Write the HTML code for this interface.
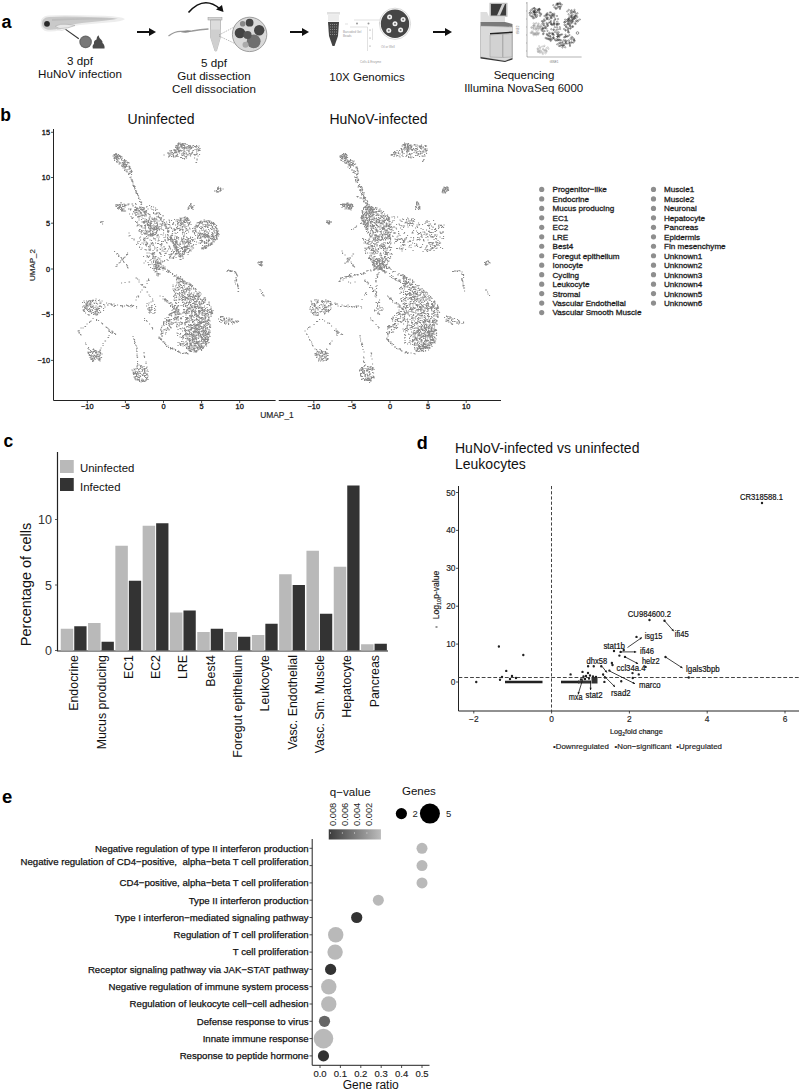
<!DOCTYPE html>
<html><head><meta charset="utf-8"><style>
html,body{margin:0;padding:0;background:#fff;width:800px;height:1090px;overflow:hidden}
svg{display:block;font-family:'Liberation Sans', sans-serif}
</style></head><body>
<svg width="800" height="1090" viewBox="0 0 800 1090">
<text x="1.5" y="27.5" font-size="18" text-anchor="start" fill="#000" font-weight="bold" >a</text>
<path d="M40.5 23 Q40.5 16.5 48 15.5 Q60 14.5 80 15.2 L105 15.8 Q121 16.5 125 19 Q122 21.8 108 22.5 L80 25 Q66 27 60 30 Q52 32.5 45 31 Q40.5 28.5 40.5 23Z" fill="#ededed"/>
<path d="M42 23.5 Q42 17.5 49 17 Q60 16.3 80 16.8 L104 17.5 Q114 18 118 18.8 Q112 20 104 20.8 L82 23 Q68 24.8 62 27.5 Q54 30.5 47 29.5 Q42 28 42 23.5Z" fill="#c9c9c9"/>
<path d="M52 19 Q70 17.8 100 18.3 Q110 18.6 116 18.9 Q105 19.5 90 19.6 Q70 19.8 52 21Z" fill="#bdbdbd"/>
<circle cx="47" cy="23.8" r="2.9" fill="#2a2a2a"/>
<path d="M55.5 26 Q60 23.5 67 24.3 Q72 24.8 75 25.5 Q68 28.8 60 28.5 Q56.5 28 55.5 26Z" fill="#e8e8e8" stroke="#a8a8a8" stroke-width="0.6"/>
<path d="M57 29.5 Q62 31.5 66 29" fill="none" stroke="#d8d8d8" stroke-width="0.8"/>
<line x1="65.6" y1="29.4" x2="78.8" y2="38.8" stroke="#333" stroke-width="1.1"/>
<circle cx="85.6" cy="41.9" r="6.3" fill="#6a6a6a"/>
<circle cx="85.6" cy="41.9" r="5" fill="#787878"/>
<path d="M92.8 48.5 Q92 45.5 94 43.5 Q93.5 40.5 96.5 39.5 Q96.5 36.5 98.5 35.3 Q99 38 101 39.5 Q103 41 102.5 43 Q105 45 104.5 48.5Z" fill="#4a4a4a"/>
<text x="80" y="65" font-size="11.6" text-anchor="middle" fill="#111" font-weight="normal" >3 dpf</text>
<text x="80" y="78" font-size="11.6" text-anchor="middle" fill="#111" font-weight="normal" >HuNoV infection</text>
<line x1="137" y1="32" x2="151" y2="32" stroke="#111" stroke-width="2"/>
<path d="M149 28 L156 32 L149 36Z" fill="#111"/>
<line x1="290" y1="32" x2="304" y2="32" stroke="#111" stroke-width="2"/>
<path d="M302 28 L309 32 L302 36Z" fill="#111"/>
<line x1="433" y1="32" x2="447" y2="32" stroke="#111" stroke-width="2"/>
<path d="M445 28 L452 32 L445 36Z" fill="#111"/>
<path d="M168.5 36 Q175 31 182 31.5 Q188 31 192 31 Q200 29.5 208.5 29" fill="none" stroke="#9a9a9a" stroke-width="1.3"/>
<path d="M181 32 Q186 29.5 192 31 Q187 34 181 32Z" fill="#8a8a8a"/>
<path d="M188.5 12.5 Q204 -5 220 9" fill="none" stroke="#111" stroke-width="1.6"/>
<path d="M216 9.5 L223.5 12 L222 5 Z" fill="#111"/>
<rect x="208" y="17.5" width="14" height="2.5" fill="#d6d6d6" stroke="#999" stroke-width="0.5"/>
<path d="M210.5 20 L220.5 20 L220.5 37 L216.5 51 L215 51 L210.5 37Z" fill="#dcdcdc" stroke="#a0a0a0" stroke-width="0.6"/>
<path d="M210.5 29.5 L220.5 29.5 L220.5 37 L216.5 51 L215 51 L210.5 37Z" fill="#cfcfcf"/>
<line x1="219" y1="35" x2="238" y2="25" stroke="#777" stroke-width="0.5" stroke-dasharray="1.5,1"/>
<line x1="219" y1="36" x2="238" y2="45" stroke="#777" stroke-width="0.5" stroke-dasharray="1.5,1"/>
<circle cx="249.6" cy="34.4" r="17.2" fill="#d9d9d9" stroke="#8a8a8a" stroke-width="0.8"/>
<circle cx="253.7" cy="41.3" r="6.9" fill="#6f6f6f"/>
<circle cx="245.5" cy="44.7" r="3" fill="#aaa"/>
<circle cx="240" cy="33" r="5.3" fill="#444"/>
<circle cx="249.6" cy="22.7" r="3.9" fill="#444"/>
<circle cx="242.7" cy="23.7" r="2.8" fill="#888"/>
<circle cx="259.2" cy="30.3" r="5.2" fill="#454545"/>
<circle cx="247.5" cy="35" r="4.1" fill="#555"/>
<text x="214" y="67" font-size="11.6" text-anchor="middle" fill="#111" font-weight="normal" >5 dpf</text>
<text x="214" y="80.2" font-size="11.6" text-anchor="middle" fill="#111" font-weight="normal" >Gut dissection</text>
<text x="214" y="93" font-size="11.6" text-anchor="middle" fill="#111" font-weight="normal" >Cell dissociation</text>
<rect x="327" y="12" width="13" height="2.5" fill="#e0e0e0"/>
<path d="M328 14.5 L339 14.5 L339 21.5 L328 21.5Z" fill="#ececec"/>
<path d="M328 22 L339 22 L338 36 L334.5 46 L332.5 46 L329 36Z" fill="#444"/>
<line x1="330" y1="24.5" x2="337" y2="24.5" stroke="#bbb" stroke-width="0.6" stroke-dasharray="1,1"/>
<line x1="330" y1="27" x2="337" y2="27" stroke="#bbb" stroke-width="0.6" stroke-dasharray="1,1"/>
<line x1="330" y1="29.5" x2="337" y2="29.5" stroke="#bbb" stroke-width="0.6" stroke-dasharray="1,1"/>
<line x1="330" y1="32" x2="337" y2="32" stroke="#bbb" stroke-width="0.6" stroke-dasharray="1,1"/>
<line x1="330" y1="34.5" x2="337" y2="34.5" stroke="#bbb" stroke-width="0.6" stroke-dasharray="1,1"/>
<path d="M354 20 L381 20 M350 27 L367.5 27 L367.5 51 M372.5 28.5 L372.5 40 M345 24 L348 24" fill="none" stroke="#ccc" stroke-width="0.6"/>
<circle cx="357" cy="23.5" r="1" fill="#999"/>
<circle cx="368.5" cy="23.5" r="1" fill="#999"/>
<circle cx="380" cy="23" r="1" fill="#999"/>
<circle cx="370" cy="30" r="0.5" fill="#666"/>
<circle cx="370" cy="38" r="0.5" fill="#666"/>
<circle cx="370" cy="46" r="0.5" fill="#666"/>
<circle cx="395" cy="23.75" r="15.6" fill="#fff" stroke="#d0d0d0" stroke-width="0.8"/>
<circle cx="395" cy="23.75" r="14.2" fill="#464646"/>
<circle cx="389.6" cy="16.9" r="2.5" fill="#f2f2f2"/><circle cx="389.6" cy="16.9" r="1" fill="#777"/>
<circle cx="403.1" cy="19.4" r="2.5" fill="#f2f2f2"/><circle cx="403.1" cy="19.4" r="1" fill="#777"/>
<circle cx="395" cy="23.75" r="2.5" fill="#f2f2f2"/><circle cx="395" cy="23.75" r="1" fill="#777"/>
<circle cx="388.75" cy="30.6" r="2.5" fill="#f2f2f2"/><circle cx="388.75" cy="30.6" r="1" fill="#777"/>
<circle cx="400.6" cy="30" r="2.5" fill="#f2f2f2"/><circle cx="400.6" cy="30" r="1" fill="#777"/>
<text x="343" y="32.5" font-size="3" text-anchor="start" fill="#999" font-weight="normal" >Barcoded Gel</text>
<text x="343" y="37" font-size="3" text-anchor="start" fill="#999" font-weight="normal" >Beads</text>
<text x="381" y="47.5" font-size="3" text-anchor="start" fill="#999" font-weight="normal" >Oil or Well</text>
<text x="360" y="63" font-size="3" text-anchor="start" fill="#999" font-weight="normal" >Cells &amp; Enzyme</text>
<text x="367" y="80.5" font-size="11.5" text-anchor="middle" fill="#111" font-weight="normal" >10X Genomics</text>
<rect x="489.5" y="2.8" width="18" height="14" fill="#bdbdbd"/>
<rect x="491" y="4" width="15" height="11.5" fill="#3c3c3c"/>
<path d="M497 15.5 L502 4 L505 4 L500 15.5Z" fill="#cfcfcf"/>
<path d="M480.5 12 L487 12 L489 16.5 L505 16.5 L505 22.5 L480.5 22.5Z" fill="#dedede"/>
<path d="M480.5 22 L505 22 L512.5 24 L512.5 27 L480.5 26Z" fill="#7a7a7a"/>
<path d="M480.5 26 L512.5 27 L512.5 58 L505 61 L480.5 57Z" fill="#dadada" stroke="#9a9a9a" stroke-width="0.5"/>
<path d="M490 33 L512.5 31.5 L512.5 33 L490 34.5Z" fill="#222"/>
<path d="M490 35 L502.5 34.2 L502.5 57.5 L490 57Z" fill="#d2d2d2" stroke="#888" stroke-width="0.4"/>
<path d="M503 34.2 L512 33.6 L512 57 L503 57.5Z" fill="#d2d2d2" stroke="#888" stroke-width="0.4"/>
<path d="M480.5 57 L505 61 L512.5 58 L512.5 59.5 L505 62 L480.5 58.5Z" fill="#333"/>
<path d="M527 2 L527 57 L581.6 57" fill="none" stroke="#666" stroke-width="0.5"/>
<path d="M535.1 17.3a.7 .7 0 1 0 1.4 0a.7 .7 0 1 0 -1.4 0M531.6 16.4a.7 .7 0 1 0 1.4 0a.7 .7 0 1 0 -1.4 0M533.7 12.3a.7 .7 0 1 0 1.4 0a.7 .7 0 1 0 -1.4 0M540.3 13.7a.7 .7 0 1 0 1.4 0a.7 .7 0 1 0 -1.4 0M534.6 16.0a.7 .7 0 1 0 1.4 0a.7 .7 0 1 0 -1.4 0M538.9 13.2a.7 .7 0 1 0 1.4 0a.7 .7 0 1 0 -1.4 0M536.9 10.1a.7 .7 0 1 0 1.4 0a.7 .7 0 1 0 -1.4 0M533.3 11.7a.7 .7 0 1 0 1.4 0a.7 .7 0 1 0 -1.4 0M531.1 9.5a.7 .7 0 1 0 1.4 0a.7 .7 0 1 0 -1.4 0M529.7 12.6a.7 .7 0 1 0 1.4 0a.7 .7 0 1 0 -1.4 0M534.1 12.1a.7 .7 0 1 0 1.4 0a.7 .7 0 1 0 -1.4 0M535.0 9.1a.7 .7 0 1 0 1.4 0a.7 .7 0 1 0 -1.4 0M534.5 14.2a.7 .7 0 1 0 1.4 0a.7 .7 0 1 0 -1.4 0M537.5 10.5a.7 .7 0 1 0 1.4 0a.7 .7 0 1 0 -1.4 0M533.7 8.2a.7 .7 0 1 0 1.4 0a.7 .7 0 1 0 -1.4 0M533.5 8.2a.7 .7 0 1 0 1.4 0a.7 .7 0 1 0 -1.4 0M530.6 16.3a.7 .7 0 1 0 1.4 0a.7 .7 0 1 0 -1.4 0M529.3 15.1a.7 .7 0 1 0 1.4 0a.7 .7 0 1 0 -1.4 0M536.2 12.1a.7 .7 0 1 0 1.4 0a.7 .7 0 1 0 -1.4 0M536.6 15.2a.7 .7 0 1 0 1.4 0a.7 .7 0 1 0 -1.4 0M538.7 12.5a.7 .7 0 1 0 1.4 0a.7 .7 0 1 0 -1.4 0M532.5 11.1a.7 .7 0 1 0 1.4 0a.7 .7 0 1 0 -1.4 0M531.1 13.1a.7 .7 0 1 0 1.4 0a.7 .7 0 1 0 -1.4 0M532.1 16.7a.7 .7 0 1 0 1.4 0a.7 .7 0 1 0 -1.4 0M529.9 10.7a.7 .7 0 1 0 1.4 0a.7 .7 0 1 0 -1.4 0M532.4 8.5a.7 .7 0 1 0 1.4 0a.7 .7 0 1 0 -1.4 0M538.5 9.0a.7 .7 0 1 0 1.4 0a.7 .7 0 1 0 -1.4 0M533.6 11.3a.7 .7 0 1 0 1.4 0a.7 .7 0 1 0 -1.4 0M538.6 9.2a.7 .7 0 1 0 1.4 0a.7 .7 0 1 0 -1.4 0M538.5 11.0a.7 .7 0 1 0 1.4 0a.7 .7 0 1 0 -1.4 0M534.2 10.8a.7 .7 0 1 0 1.4 0a.7 .7 0 1 0 -1.4 0M537.0 9.7a.7 .7 0 1 0 1.4 0a.7 .7 0 1 0 -1.4 0M534.5 14.7a.7 .7 0 1 0 1.4 0a.7 .7 0 1 0 -1.4 0M538.4 9.0a.7 .7 0 1 0 1.4 0a.7 .7 0 1 0 -1.4 0M539.4 15.9a.7 .7 0 1 0 1.4 0a.7 .7 0 1 0 -1.4 0M532.8 14.4a.7 .7 0 1 0 1.4 0a.7 .7 0 1 0 -1.4 0M533.4 17.9a.7 .7 0 1 0 1.4 0a.7 .7 0 1 0 -1.4 0M535.7 12.5a.7 .7 0 1 0 1.4 0a.7 .7 0 1 0 -1.4 0M533.8 12.5a.7 .7 0 1 0 1.4 0a.7 .7 0 1 0 -1.4 0M534.1 10.2a.7 .7 0 1 0 1.4 0a.7 .7 0 1 0 -1.4 0M539.2 9.6a.7 .7 0 1 0 1.4 0a.7 .7 0 1 0 -1.4 0M528.8 13.1a.7 .7 0 1 0 1.4 0a.7 .7 0 1 0 -1.4 0M534.2 14.7a.7 .7 0 1 0 1.4 0a.7 .7 0 1 0 -1.4 0M533.9 12.7a.7 .7 0 1 0 1.4 0a.7 .7 0 1 0 -1.4 0M536.0 16.6a.7 .7 0 1 0 1.4 0a.7 .7 0 1 0 -1.4 0M533.0 11.9a.7 .7 0 1 0 1.4 0a.7 .7 0 1 0 -1.4 0M540.2 14.6a.7 .7 0 1 0 1.4 0a.7 .7 0 1 0 -1.4 0M532.5 18.3a.7 .7 0 1 0 1.4 0a.7 .7 0 1 0 -1.4 0" stroke="#333" stroke-width="0.4" fill="none"/>
<path d="M539.0 27.2a.7 .7 0 1 0 1.4 0a.7 .7 0 1 0 -1.4 0M531.3 31.3a.7 .7 0 1 0 1.4 0a.7 .7 0 1 0 -1.4 0M532.7 25.5a.7 .7 0 1 0 1.4 0a.7 .7 0 1 0 -1.4 0M531.0 27.9a.7 .7 0 1 0 1.4 0a.7 .7 0 1 0 -1.4 0M540.1 28.1a.7 .7 0 1 0 1.4 0a.7 .7 0 1 0 -1.4 0M530.8 32.7a.7 .7 0 1 0 1.4 0a.7 .7 0 1 0 -1.4 0M536.1 34.1a.7 .7 0 1 0 1.4 0a.7 .7 0 1 0 -1.4 0M540.4 29.2a.7 .7 0 1 0 1.4 0a.7 .7 0 1 0 -1.4 0M535.1 29.8a.7 .7 0 1 0 1.4 0a.7 .7 0 1 0 -1.4 0M531.5 32.9a.7 .7 0 1 0 1.4 0a.7 .7 0 1 0 -1.4 0M540.9 30.7a.7 .7 0 1 0 1.4 0a.7 .7 0 1 0 -1.4 0M534.7 28.6a.7 .7 0 1 0 1.4 0a.7 .7 0 1 0 -1.4 0M532.7 26.3a.7 .7 0 1 0 1.4 0a.7 .7 0 1 0 -1.4 0M534.1 26.0a.7 .7 0 1 0 1.4 0a.7 .7 0 1 0 -1.4 0M534.3 23.8a.7 .7 0 1 0 1.4 0a.7 .7 0 1 0 -1.4 0M537.4 30.3a.7 .7 0 1 0 1.4 0a.7 .7 0 1 0 -1.4 0M532.9 23.4a.7 .7 0 1 0 1.4 0a.7 .7 0 1 0 -1.4 0M535.8 35.1a.7 .7 0 1 0 1.4 0a.7 .7 0 1 0 -1.4 0M532.7 27.7a.7 .7 0 1 0 1.4 0a.7 .7 0 1 0 -1.4 0M533.4 33.2a.7 .7 0 1 0 1.4 0a.7 .7 0 1 0 -1.4 0M532.4 34.2a.7 .7 0 1 0 1.4 0a.7 .7 0 1 0 -1.4 0M534.6 34.4a.7 .7 0 1 0 1.4 0a.7 .7 0 1 0 -1.4 0M535.9 28.8a.7 .7 0 1 0 1.4 0a.7 .7 0 1 0 -1.4 0M530.7 27.3a.7 .7 0 1 0 1.4 0a.7 .7 0 1 0 -1.4 0M534.7 33.3a.7 .7 0 1 0 1.4 0a.7 .7 0 1 0 -1.4 0M536.9 26.5a.7 .7 0 1 0 1.4 0a.7 .7 0 1 0 -1.4 0M537.4 34.6a.7 .7 0 1 0 1.4 0a.7 .7 0 1 0 -1.4 0M535.1 27.7a.7 .7 0 1 0 1.4 0a.7 .7 0 1 0 -1.4 0M534.2 33.9a.7 .7 0 1 0 1.4 0a.7 .7 0 1 0 -1.4 0M538.0 25.7a.7 .7 0 1 0 1.4 0a.7 .7 0 1 0 -1.4 0M537.4 27.6a.7 .7 0 1 0 1.4 0a.7 .7 0 1 0 -1.4 0M533.1 35.2a.7 .7 0 1 0 1.4 0a.7 .7 0 1 0 -1.4 0M539.1 26.7a.7 .7 0 1 0 1.4 0a.7 .7 0 1 0 -1.4 0M536.2 32.6a.7 .7 0 1 0 1.4 0a.7 .7 0 1 0 -1.4 0M533.0 29.4a.7 .7 0 1 0 1.4 0a.7 .7 0 1 0 -1.4 0M537.9 23.6a.7 .7 0 1 0 1.4 0a.7 .7 0 1 0 -1.4 0M537.2 33.6a.7 .7 0 1 0 1.4 0a.7 .7 0 1 0 -1.4 0M537.6 24.4a.7 .7 0 1 0 1.4 0a.7 .7 0 1 0 -1.4 0M537.1 25.9a.7 .7 0 1 0 1.4 0a.7 .7 0 1 0 -1.4 0M538.2 32.9a.7 .7 0 1 0 1.4 0a.7 .7 0 1 0 -1.4 0M536.7 26.2a.7 .7 0 1 0 1.4 0a.7 .7 0 1 0 -1.4 0M533.4 34.0a.7 .7 0 1 0 1.4 0a.7 .7 0 1 0 -1.4 0M532.2 32.3a.7 .7 0 1 0 1.4 0a.7 .7 0 1 0 -1.4 0M538.1 28.6a.7 .7 0 1 0 1.4 0a.7 .7 0 1 0 -1.4 0M542.1 30.2a.7 .7 0 1 0 1.4 0a.7 .7 0 1 0 -1.4 0M540.5 24.9a.7 .7 0 1 0 1.4 0a.7 .7 0 1 0 -1.4 0M530.0 32.9a.7 .7 0 1 0 1.4 0a.7 .7 0 1 0 -1.4 0M538.5 28.4a.7 .7 0 1 0 1.4 0a.7 .7 0 1 0 -1.4 0M535.6 23.1a.7 .7 0 1 0 1.4 0a.7 .7 0 1 0 -1.4 0M533.4 25.4a.7 .7 0 1 0 1.4 0a.7 .7 0 1 0 -1.4 0M534.9 34.2a.7 .7 0 1 0 1.4 0a.7 .7 0 1 0 -1.4 0M536.0 31.9a.7 .7 0 1 0 1.4 0a.7 .7 0 1 0 -1.4 0M532.8 27.9a.7 .7 0 1 0 1.4 0a.7 .7 0 1 0 -1.4 0M536.3 28.5a.7 .7 0 1 0 1.4 0a.7 .7 0 1 0 -1.4 0M540.3 26.4a.7 .7 0 1 0 1.4 0a.7 .7 0 1 0 -1.4 0M541.3 26.7a.7 .7 0 1 0 1.4 0a.7 .7 0 1 0 -1.4 0M539.8 26.6a.7 .7 0 1 0 1.4 0a.7 .7 0 1 0 -1.4 0M541.4 30.5a.7 .7 0 1 0 1.4 0a.7 .7 0 1 0 -1.4 0M537.5 33.6a.7 .7 0 1 0 1.4 0a.7 .7 0 1 0 -1.4 0M533.3 25.4a.7 .7 0 1 0 1.4 0a.7 .7 0 1 0 -1.4 0" stroke="#999" stroke-width="0.4" fill="none"/>
<path d="M537.3 52.0a.7 .7 0 1 0 1.4 0a.7 .7 0 1 0 -1.4 0M539.6 47.6a.7 .7 0 1 0 1.4 0a.7 .7 0 1 0 -1.4 0M542.2 54.1a.7 .7 0 1 0 1.4 0a.7 .7 0 1 0 -1.4 0M537.0 50.1a.7 .7 0 1 0 1.4 0a.7 .7 0 1 0 -1.4 0M540.7 51.3a.7 .7 0 1 0 1.4 0a.7 .7 0 1 0 -1.4 0M537.0 48.5a.7 .7 0 1 0 1.4 0a.7 .7 0 1 0 -1.4 0M544.8 53.4a.7 .7 0 1 0 1.4 0a.7 .7 0 1 0 -1.4 0M547.0 47.4a.7 .7 0 1 0 1.4 0a.7 .7 0 1 0 -1.4 0M542.5 49.1a.7 .7 0 1 0 1.4 0a.7 .7 0 1 0 -1.4 0M538.4 46.1a.7 .7 0 1 0 1.4 0a.7 .7 0 1 0 -1.4 0M545.3 50.3a.7 .7 0 1 0 1.4 0a.7 .7 0 1 0 -1.4 0M541.8 53.1a.7 .7 0 1 0 1.4 0a.7 .7 0 1 0 -1.4 0M538.6 51.1a.7 .7 0 1 0 1.4 0a.7 .7 0 1 0 -1.4 0M542.3 49.3a.7 .7 0 1 0 1.4 0a.7 .7 0 1 0 -1.4 0M544.3 50.1a.7 .7 0 1 0 1.4 0a.7 .7 0 1 0 -1.4 0M543.4 50.4a.7 .7 0 1 0 1.4 0a.7 .7 0 1 0 -1.4 0M547.8 48.8a.7 .7 0 1 0 1.4 0a.7 .7 0 1 0 -1.4 0M545.9 51.3a.7 .7 0 1 0 1.4 0a.7 .7 0 1 0 -1.4 0M540.9 52.1a.7 .7 0 1 0 1.4 0a.7 .7 0 1 0 -1.4 0M539.4 52.7a.7 .7 0 1 0 1.4 0a.7 .7 0 1 0 -1.4 0M539.2 47.9a.7 .7 0 1 0 1.4 0a.7 .7 0 1 0 -1.4 0M543.5 52.2a.7 .7 0 1 0 1.4 0a.7 .7 0 1 0 -1.4 0M545.5 52.1a.7 .7 0 1 0 1.4 0a.7 .7 0 1 0 -1.4 0M541.5 46.5a.7 .7 0 1 0 1.4 0a.7 .7 0 1 0 -1.4 0M544.5 50.5a.7 .7 0 1 0 1.4 0a.7 .7 0 1 0 -1.4 0M539.0 52.3a.7 .7 0 1 0 1.4 0a.7 .7 0 1 0 -1.4 0M543.1 46.5a.7 .7 0 1 0 1.4 0a.7 .7 0 1 0 -1.4 0M543.8 45.8a.7 .7 0 1 0 1.4 0a.7 .7 0 1 0 -1.4 0M539.0 50.8a.7 .7 0 1 0 1.4 0a.7 .7 0 1 0 -1.4 0M537.3 49.6a.7 .7 0 1 0 1.4 0a.7 .7 0 1 0 -1.4 0M537.9 51.5a.7 .7 0 1 0 1.4 0a.7 .7 0 1 0 -1.4 0M539.4 50.1a.7 .7 0 1 0 1.4 0a.7 .7 0 1 0 -1.4 0M537.4 48.6a.7 .7 0 1 0 1.4 0a.7 .7 0 1 0 -1.4 0M545.8 50.9a.7 .7 0 1 0 1.4 0a.7 .7 0 1 0 -1.4 0M537.3 51.6a.7 .7 0 1 0 1.4 0a.7 .7 0 1 0 -1.4 0M545.7 48.3a.7 .7 0 1 0 1.4 0a.7 .7 0 1 0 -1.4 0" stroke="#aaa" stroke-width="0.4" fill="none"/>
<path d="M557.4 19.0a.7 .7 0 1 0 1.4 0a.7 .7 0 1 0 -1.4 0M549.8 37.2a.7 .7 0 1 0 1.4 0a.7 .7 0 1 0 -1.4 0M556.8 36.5a.7 .7 0 1 0 1.4 0a.7 .7 0 1 0 -1.4 0M545.4 15.0a.7 .7 0 1 0 1.4 0a.7 .7 0 1 0 -1.4 0M552.5 15.2a.7 .7 0 1 0 1.4 0a.7 .7 0 1 0 -1.4 0M549.5 15.8a.7 .7 0 1 0 1.4 0a.7 .7 0 1 0 -1.4 0M556.4 33.9a.7 .7 0 1 0 1.4 0a.7 .7 0 1 0 -1.4 0M554.1 27.2a.7 .7 0 1 0 1.4 0a.7 .7 0 1 0 -1.4 0M550.6 23.9a.7 .7 0 1 0 1.4 0a.7 .7 0 1 0 -1.4 0M552.9 29.6a.7 .7 0 1 0 1.4 0a.7 .7 0 1 0 -1.4 0M553.4 22.7a.7 .7 0 1 0 1.4 0a.7 .7 0 1 0 -1.4 0M559.4 29.0a.7 .7 0 1 0 1.4 0a.7 .7 0 1 0 -1.4 0M556.9 36.5a.7 .7 0 1 0 1.4 0a.7 .7 0 1 0 -1.4 0M546.1 14.8a.7 .7 0 1 0 1.4 0a.7 .7 0 1 0 -1.4 0M557.6 23.6a.7 .7 0 1 0 1.4 0a.7 .7 0 1 0 -1.4 0M550.9 24.3a.7 .7 0 1 0 1.4 0a.7 .7 0 1 0 -1.4 0M551.1 16.3a.7 .7 0 1 0 1.4 0a.7 .7 0 1 0 -1.4 0M549.6 22.2a.7 .7 0 1 0 1.4 0a.7 .7 0 1 0 -1.4 0M550.2 12.5a.7 .7 0 1 0 1.4 0a.7 .7 0 1 0 -1.4 0M555.6 30.2a.7 .7 0 1 0 1.4 0a.7 .7 0 1 0 -1.4 0M541.9 21.7a.7 .7 0 1 0 1.4 0a.7 .7 0 1 0 -1.4 0M550.5 33.4a.7 .7 0 1 0 1.4 0a.7 .7 0 1 0 -1.4 0M550.3 38.8a.7 .7 0 1 0 1.4 0a.7 .7 0 1 0 -1.4 0M550.4 17.6a.7 .7 0 1 0 1.4 0a.7 .7 0 1 0 -1.4 0M546.1 34.0a.7 .7 0 1 0 1.4 0a.7 .7 0 1 0 -1.4 0M546.5 34.8a.7 .7 0 1 0 1.4 0a.7 .7 0 1 0 -1.4 0M556.4 32.3a.7 .7 0 1 0 1.4 0a.7 .7 0 1 0 -1.4 0M556.6 25.4a.7 .7 0 1 0 1.4 0a.7 .7 0 1 0 -1.4 0M550.2 21.0a.7 .7 0 1 0 1.4 0a.7 .7 0 1 0 -1.4 0M547.1 14.8a.7 .7 0 1 0 1.4 0a.7 .7 0 1 0 -1.4 0M547.0 17.4a.7 .7 0 1 0 1.4 0a.7 .7 0 1 0 -1.4 0M542.3 28.2a.7 .7 0 1 0 1.4 0a.7 .7 0 1 0 -1.4 0M553.4 23.5a.7 .7 0 1 0 1.4 0a.7 .7 0 1 0 -1.4 0M557.4 34.4a.7 .7 0 1 0 1.4 0a.7 .7 0 1 0 -1.4 0M556.5 21.6a.7 .7 0 1 0 1.4 0a.7 .7 0 1 0 -1.4 0M542.4 31.5a.7 .7 0 1 0 1.4 0a.7 .7 0 1 0 -1.4 0M552.3 34.1a.7 .7 0 1 0 1.4 0a.7 .7 0 1 0 -1.4 0M552.7 37.9a.7 .7 0 1 0 1.4 0a.7 .7 0 1 0 -1.4 0M548.4 33.6a.7 .7 0 1 0 1.4 0a.7 .7 0 1 0 -1.4 0M546.8 13.3a.7 .7 0 1 0 1.4 0a.7 .7 0 1 0 -1.4 0M547.9 39.1a.7 .7 0 1 0 1.4 0a.7 .7 0 1 0 -1.4 0M542.4 34.2a.7 .7 0 1 0 1.4 0a.7 .7 0 1 0 -1.4 0M545.8 23.1a.7 .7 0 1 0 1.4 0a.7 .7 0 1 0 -1.4 0M550.6 29.2a.7 .7 0 1 0 1.4 0a.7 .7 0 1 0 -1.4 0M544.2 28.2a.7 .7 0 1 0 1.4 0a.7 .7 0 1 0 -1.4 0M553.1 35.0a.7 .7 0 1 0 1.4 0a.7 .7 0 1 0 -1.4 0M546.5 38.9a.7 .7 0 1 0 1.4 0a.7 .7 0 1 0 -1.4 0M556.5 38.7a.7 .7 0 1 0 1.4 0a.7 .7 0 1 0 -1.4 0M542.6 28.5a.7 .7 0 1 0 1.4 0a.7 .7 0 1 0 -1.4 0M541.3 29.7a.7 .7 0 1 0 1.4 0a.7 .7 0 1 0 -1.4 0M553.5 16.9a.7 .7 0 1 0 1.4 0a.7 .7 0 1 0 -1.4 0M541.9 28.5a.7 .7 0 1 0 1.4 0a.7 .7 0 1 0 -1.4 0M554.2 19.6a.7 .7 0 1 0 1.4 0a.7 .7 0 1 0 -1.4 0M549.3 12.4a.7 .7 0 1 0 1.4 0a.7 .7 0 1 0 -1.4 0M545.6 28.5a.7 .7 0 1 0 1.4 0a.7 .7 0 1 0 -1.4 0M551.1 39.6a.7 .7 0 1 0 1.4 0a.7 .7 0 1 0 -1.4 0M545.9 13.9a.7 .7 0 1 0 1.4 0a.7 .7 0 1 0 -1.4 0M553.3 21.1a.7 .7 0 1 0 1.4 0a.7 .7 0 1 0 -1.4 0M552.2 34.1a.7 .7 0 1 0 1.4 0a.7 .7 0 1 0 -1.4 0M553.5 38.6a.7 .7 0 1 0 1.4 0a.7 .7 0 1 0 -1.4 0M556.3 16.0a.7 .7 0 1 0 1.4 0a.7 .7 0 1 0 -1.4 0M550.0 40.9a.7 .7 0 1 0 1.4 0a.7 .7 0 1 0 -1.4 0M547.8 36.0a.7 .7 0 1 0 1.4 0a.7 .7 0 1 0 -1.4 0M549.9 22.6a.7 .7 0 1 0 1.4 0a.7 .7 0 1 0 -1.4 0M557.9 34.5a.7 .7 0 1 0 1.4 0a.7 .7 0 1 0 -1.4 0M548.8 35.7a.7 .7 0 1 0 1.4 0a.7 .7 0 1 0 -1.4 0M543.1 21.0a.7 .7 0 1 0 1.4 0a.7 .7 0 1 0 -1.4 0M556.1 27.4a.7 .7 0 1 0 1.4 0a.7 .7 0 1 0 -1.4 0M543.9 31.1a.7 .7 0 1 0 1.4 0a.7 .7 0 1 0 -1.4 0M552.2 38.1a.7 .7 0 1 0 1.4 0a.7 .7 0 1 0 -1.4 0M556.3 24.4a.7 .7 0 1 0 1.4 0a.7 .7 0 1 0 -1.4 0M547.0 25.6a.7 .7 0 1 0 1.4 0a.7 .7 0 1 0 -1.4 0M549.0 39.1a.7 .7 0 1 0 1.4 0a.7 .7 0 1 0 -1.4 0M557.5 36.2a.7 .7 0 1 0 1.4 0a.7 .7 0 1 0 -1.4 0M552.9 24.5a.7 .7 0 1 0 1.4 0a.7 .7 0 1 0 -1.4 0M556.0 23.7a.7 .7 0 1 0 1.4 0a.7 .7 0 1 0 -1.4 0M551.5 14.1a.7 .7 0 1 0 1.4 0a.7 .7 0 1 0 -1.4 0M548.0 38.8a.7 .7 0 1 0 1.4 0a.7 .7 0 1 0 -1.4 0M545.2 15.9a.7 .7 0 1 0 1.4 0a.7 .7 0 1 0 -1.4 0M549.5 40.0a.7 .7 0 1 0 1.4 0a.7 .7 0 1 0 -1.4 0M558.3 24.0a.7 .7 0 1 0 1.4 0a.7 .7 0 1 0 -1.4 0M547.0 25.9a.7 .7 0 1 0 1.4 0a.7 .7 0 1 0 -1.4 0M544.4 27.3a.7 .7 0 1 0 1.4 0a.7 .7 0 1 0 -1.4 0M548.7 14.9a.7 .7 0 1 0 1.4 0a.7 .7 0 1 0 -1.4 0M546.4 24.4a.7 .7 0 1 0 1.4 0a.7 .7 0 1 0 -1.4 0M545.5 17.6a.7 .7 0 1 0 1.4 0a.7 .7 0 1 0 -1.4 0M554.4 39.8a.7 .7 0 1 0 1.4 0a.7 .7 0 1 0 -1.4 0M548.3 22.6a.7 .7 0 1 0 1.4 0a.7 .7 0 1 0 -1.4 0M553.7 24.7a.7 .7 0 1 0 1.4 0a.7 .7 0 1 0 -1.4 0M546.1 38.1a.7 .7 0 1 0 1.4 0a.7 .7 0 1 0 -1.4 0M544.2 20.6a.7 .7 0 1 0 1.4 0a.7 .7 0 1 0 -1.4 0M546.2 18.9a.7 .7 0 1 0 1.4 0a.7 .7 0 1 0 -1.4 0M548.7 32.8a.7 .7 0 1 0 1.4 0a.7 .7 0 1 0 -1.4 0M558.0 32.3a.7 .7 0 1 0 1.4 0a.7 .7 0 1 0 -1.4 0M550.5 15.9a.7 .7 0 1 0 1.4 0a.7 .7 0 1 0 -1.4 0M549.9 18.0a.7 .7 0 1 0 1.4 0a.7 .7 0 1 0 -1.4 0M549.7 36.2a.7 .7 0 1 0 1.4 0a.7 .7 0 1 0 -1.4 0M551.7 24.8a.7 .7 0 1 0 1.4 0a.7 .7 0 1 0 -1.4 0M545.3 26.8a.7 .7 0 1 0 1.4 0a.7 .7 0 1 0 -1.4 0M551.0 18.1a.7 .7 0 1 0 1.4 0a.7 .7 0 1 0 -1.4 0M547.1 35.3a.7 .7 0 1 0 1.4 0a.7 .7 0 1 0 -1.4 0M541.8 23.6a.7 .7 0 1 0 1.4 0a.7 .7 0 1 0 -1.4 0M544.8 38.0a.7 .7 0 1 0 1.4 0a.7 .7 0 1 0 -1.4 0M554.3 32.1a.7 .7 0 1 0 1.4 0a.7 .7 0 1 0 -1.4 0M553.0 30.0a.7 .7 0 1 0 1.4 0a.7 .7 0 1 0 -1.4 0M551.8 14.4a.7 .7 0 1 0 1.4 0a.7 .7 0 1 0 -1.4 0M552.0 33.0a.7 .7 0 1 0 1.4 0a.7 .7 0 1 0 -1.4 0M542.8 33.5a.7 .7 0 1 0 1.4 0a.7 .7 0 1 0 -1.4 0M553.8 15.1a.7 .7 0 1 0 1.4 0a.7 .7 0 1 0 -1.4 0M547.1 23.9a.7 .7 0 1 0 1.4 0a.7 .7 0 1 0 -1.4 0M546.8 30.9a.7 .7 0 1 0 1.4 0a.7 .7 0 1 0 -1.4 0M542.9 25.0a.7 .7 0 1 0 1.4 0a.7 .7 0 1 0 -1.4 0M551.8 34.2a.7 .7 0 1 0 1.4 0a.7 .7 0 1 0 -1.4 0M550.6 24.4a.7 .7 0 1 0 1.4 0a.7 .7 0 1 0 -1.4 0M553.4 13.6a.7 .7 0 1 0 1.4 0a.7 .7 0 1 0 -1.4 0M556.2 24.1a.7 .7 0 1 0 1.4 0a.7 .7 0 1 0 -1.4 0M543.1 23.3a.7 .7 0 1 0 1.4 0a.7 .7 0 1 0 -1.4 0M543.7 16.0a.7 .7 0 1 0 1.4 0a.7 .7 0 1 0 -1.4 0M548.2 19.4a.7 .7 0 1 0 1.4 0a.7 .7 0 1 0 -1.4 0M554.7 19.0a.7 .7 0 1 0 1.4 0a.7 .7 0 1 0 -1.4 0M543.4 19.4a.7 .7 0 1 0 1.4 0a.7 .7 0 1 0 -1.4 0M559.1 27.2a.7 .7 0 1 0 1.4 0a.7 .7 0 1 0 -1.4 0M546.6 18.1a.7 .7 0 1 0 1.4 0a.7 .7 0 1 0 -1.4 0M543.6 25.5a.7 .7 0 1 0 1.4 0a.7 .7 0 1 0 -1.4 0M552.8 37.2a.7 .7 0 1 0 1.4 0a.7 .7 0 1 0 -1.4 0M557.2 29.4a.7 .7 0 1 0 1.4 0a.7 .7 0 1 0 -1.4 0M546.2 19.1a.7 .7 0 1 0 1.4 0a.7 .7 0 1 0 -1.4 0M541.3 21.1a.7 .7 0 1 0 1.4 0a.7 .7 0 1 0 -1.4 0M553.2 23.5a.7 .7 0 1 0 1.4 0a.7 .7 0 1 0 -1.4 0M552.4 15.6a.7 .7 0 1 0 1.4 0a.7 .7 0 1 0 -1.4 0" stroke="#333" stroke-width="0.4" fill="none"/>
<path d="M560.1 6.7a.7 .7 0 1 0 1.4 0a.7 .7 0 1 0 -1.4 0M557.4 7.0a.7 .7 0 1 0 1.4 0a.7 .7 0 1 0 -1.4 0M552.6 5.2a.7 .7 0 1 0 1.4 0a.7 .7 0 1 0 -1.4 0M555.2 8.9a.7 .7 0 1 0 1.4 0a.7 .7 0 1 0 -1.4 0M556.7 4.8a.7 .7 0 1 0 1.4 0a.7 .7 0 1 0 -1.4 0M559.7 3.9a.7 .7 0 1 0 1.4 0a.7 .7 0 1 0 -1.4 0M561.1 4.7a.7 .7 0 1 0 1.4 0a.7 .7 0 1 0 -1.4 0M557.1 4.0a.7 .7 0 1 0 1.4 0a.7 .7 0 1 0 -1.4 0M559.0 2.8a.7 .7 0 1 0 1.4 0a.7 .7 0 1 0 -1.4 0M559.4 4.2a.7 .7 0 1 0 1.4 0a.7 .7 0 1 0 -1.4 0M557.4 3.6a.7 .7 0 1 0 1.4 0a.7 .7 0 1 0 -1.4 0M558.1 6.5a.7 .7 0 1 0 1.4 0a.7 .7 0 1 0 -1.4 0M559.3 6.7a.7 .7 0 1 0 1.4 0a.7 .7 0 1 0 -1.4 0M559.2 8.1a.7 .7 0 1 0 1.4 0a.7 .7 0 1 0 -1.4 0M556.2 3.6a.7 .7 0 1 0 1.4 0a.7 .7 0 1 0 -1.4 0M553.7 7.3a.7 .7 0 1 0 1.4 0a.7 .7 0 1 0 -1.4 0M556.2 8.2a.7 .7 0 1 0 1.4 0a.7 .7 0 1 0 -1.4 0M557.4 3.8a.7 .7 0 1 0 1.4 0a.7 .7 0 1 0 -1.4 0M559.3 9.0a.7 .7 0 1 0 1.4 0a.7 .7 0 1 0 -1.4 0M556.7 3.9a.7 .7 0 1 0 1.4 0a.7 .7 0 1 0 -1.4 0M554.8 7.8a.7 .7 0 1 0 1.4 0a.7 .7 0 1 0 -1.4 0M555.4 5.1a.7 .7 0 1 0 1.4 0a.7 .7 0 1 0 -1.4 0" stroke="#333" stroke-width="0.4" fill="none"/>
<path d="M575.0 18.1a.7 .7 0 1 0 1.4 0a.7 .7 0 1 0 -1.4 0M571.9 14.7a.7 .7 0 1 0 1.4 0a.7 .7 0 1 0 -1.4 0M567.9 19.0a.7 .7 0 1 0 1.4 0a.7 .7 0 1 0 -1.4 0M572.1 21.6a.7 .7 0 1 0 1.4 0a.7 .7 0 1 0 -1.4 0M568.6 20.1a.7 .7 0 1 0 1.4 0a.7 .7 0 1 0 -1.4 0M573.9 18.5a.7 .7 0 1 0 1.4 0a.7 .7 0 1 0 -1.4 0M574.1 23.5a.7 .7 0 1 0 1.4 0a.7 .7 0 1 0 -1.4 0M572.4 18.5a.7 .7 0 1 0 1.4 0a.7 .7 0 1 0 -1.4 0M566.5 19.8a.7 .7 0 1 0 1.4 0a.7 .7 0 1 0 -1.4 0M570.8 16.1a.7 .7 0 1 0 1.4 0a.7 .7 0 1 0 -1.4 0M567.2 21.2a.7 .7 0 1 0 1.4 0a.7 .7 0 1 0 -1.4 0M579.1 19.5a.7 .7 0 1 0 1.4 0a.7 .7 0 1 0 -1.4 0M571.8 20.7a.7 .7 0 1 0 1.4 0a.7 .7 0 1 0 -1.4 0M568.1 18.6a.7 .7 0 1 0 1.4 0a.7 .7 0 1 0 -1.4 0M567.9 14.3a.7 .7 0 1 0 1.4 0a.7 .7 0 1 0 -1.4 0M572.6 19.4a.7 .7 0 1 0 1.4 0a.7 .7 0 1 0 -1.4 0M570.7 13.3a.7 .7 0 1 0 1.4 0a.7 .7 0 1 0 -1.4 0M572.6 12.0a.7 .7 0 1 0 1.4 0a.7 .7 0 1 0 -1.4 0M575.3 16.0a.7 .7 0 1 0 1.4 0a.7 .7 0 1 0 -1.4 0M571.3 22.6a.7 .7 0 1 0 1.4 0a.7 .7 0 1 0 -1.4 0M573.8 11.4a.7 .7 0 1 0 1.4 0a.7 .7 0 1 0 -1.4 0M569.9 20.3a.7 .7 0 1 0 1.4 0a.7 .7 0 1 0 -1.4 0M568.1 9.9a.7 .7 0 1 0 1.4 0a.7 .7 0 1 0 -1.4 0M570.9 17.7a.7 .7 0 1 0 1.4 0a.7 .7 0 1 0 -1.4 0M573.7 18.5a.7 .7 0 1 0 1.4 0a.7 .7 0 1 0 -1.4 0M572.0 19.5a.7 .7 0 1 0 1.4 0a.7 .7 0 1 0 -1.4 0M577.4 20.4a.7 .7 0 1 0 1.4 0a.7 .7 0 1 0 -1.4 0M574.2 15.6a.7 .7 0 1 0 1.4 0a.7 .7 0 1 0 -1.4 0M576.7 17.0a.7 .7 0 1 0 1.4 0a.7 .7 0 1 0 -1.4 0M573.8 9.9a.7 .7 0 1 0 1.4 0a.7 .7 0 1 0 -1.4 0M572.7 17.4a.7 .7 0 1 0 1.4 0a.7 .7 0 1 0 -1.4 0M569.2 24.6a.7 .7 0 1 0 1.4 0a.7 .7 0 1 0 -1.4 0M573.5 17.1a.7 .7 0 1 0 1.4 0a.7 .7 0 1 0 -1.4 0M569.3 26.0a.7 .7 0 1 0 1.4 0a.7 .7 0 1 0 -1.4 0M575.1 21.7a.7 .7 0 1 0 1.4 0a.7 .7 0 1 0 -1.4 0M568.0 24.4a.7 .7 0 1 0 1.4 0a.7 .7 0 1 0 -1.4 0M574.3 16.4a.7 .7 0 1 0 1.4 0a.7 .7 0 1 0 -1.4 0M570.9 10.3a.7 .7 0 1 0 1.4 0a.7 .7 0 1 0 -1.4 0M574.3 12.3a.7 .7 0 1 0 1.4 0a.7 .7 0 1 0 -1.4 0M575.6 15.5a.7 .7 0 1 0 1.4 0a.7 .7 0 1 0 -1.4 0M568.0 20.2a.7 .7 0 1 0 1.4 0a.7 .7 0 1 0 -1.4 0M572.3 11.9a.7 .7 0 1 0 1.4 0a.7 .7 0 1 0 -1.4 0M570.9 21.7a.7 .7 0 1 0 1.4 0a.7 .7 0 1 0 -1.4 0M570.2 11.1a.7 .7 0 1 0 1.4 0a.7 .7 0 1 0 -1.4 0M570.1 12.6a.7 .7 0 1 0 1.4 0a.7 .7 0 1 0 -1.4 0M568.2 18.3a.7 .7 0 1 0 1.4 0a.7 .7 0 1 0 -1.4 0M571.0 16.7a.7 .7 0 1 0 1.4 0a.7 .7 0 1 0 -1.4 0M564.5 19.6a.7 .7 0 1 0 1.4 0a.7 .7 0 1 0 -1.4 0M570.2 15.5a.7 .7 0 1 0 1.4 0a.7 .7 0 1 0 -1.4 0M571.9 26.2a.7 .7 0 1 0 1.4 0a.7 .7 0 1 0 -1.4 0M566.6 11.4a.7 .7 0 1 0 1.4 0a.7 .7 0 1 0 -1.4 0M575.0 13.7a.7 .7 0 1 0 1.4 0a.7 .7 0 1 0 -1.4 0M576.8 13.3a.7 .7 0 1 0 1.4 0a.7 .7 0 1 0 -1.4 0M568.9 22.7a.7 .7 0 1 0 1.4 0a.7 .7 0 1 0 -1.4 0M575.8 20.5a.7 .7 0 1 0 1.4 0a.7 .7 0 1 0 -1.4 0M573.8 17.2a.7 .7 0 1 0 1.4 0a.7 .7 0 1 0 -1.4 0M568.9 16.7a.7 .7 0 1 0 1.4 0a.7 .7 0 1 0 -1.4 0M576.9 21.5a.7 .7 0 1 0 1.4 0a.7 .7 0 1 0 -1.4 0M571.4 20.0a.7 .7 0 1 0 1.4 0a.7 .7 0 1 0 -1.4 0M575.0 23.9a.7 .7 0 1 0 1.4 0a.7 .7 0 1 0 -1.4 0M570.6 17.5a.7 .7 0 1 0 1.4 0a.7 .7 0 1 0 -1.4 0M572.3 26.8a.7 .7 0 1 0 1.4 0a.7 .7 0 1 0 -1.4 0" stroke="#333" stroke-width="0.4" fill="none"/>
<path d="M567.4 31.2a.7 .7 0 1 0 1.4 0a.7 .7 0 1 0 -1.4 0M563.3 29.0a.7 .7 0 1 0 1.4 0a.7 .7 0 1 0 -1.4 0M563.6 22.2a.7 .7 0 1 0 1.4 0a.7 .7 0 1 0 -1.4 0M564.9 25.3a.7 .7 0 1 0 1.4 0a.7 .7 0 1 0 -1.4 0M567.4 27.8a.7 .7 0 1 0 1.4 0a.7 .7 0 1 0 -1.4 0M567.5 23.9a.7 .7 0 1 0 1.4 0a.7 .7 0 1 0 -1.4 0M571.2 27.0a.7 .7 0 1 0 1.4 0a.7 .7 0 1 0 -1.4 0M568.1 32.3a.7 .7 0 1 0 1.4 0a.7 .7 0 1 0 -1.4 0M569.4 28.5a.7 .7 0 1 0 1.4 0a.7 .7 0 1 0 -1.4 0M567.5 32.3a.7 .7 0 1 0 1.4 0a.7 .7 0 1 0 -1.4 0M564.1 22.3a.7 .7 0 1 0 1.4 0a.7 .7 0 1 0 -1.4 0M567.1 19.5a.7 .7 0 1 0 1.4 0a.7 .7 0 1 0 -1.4 0M564.8 30.5a.7 .7 0 1 0 1.4 0a.7 .7 0 1 0 -1.4 0M565.4 26.8a.7 .7 0 1 0 1.4 0a.7 .7 0 1 0 -1.4 0M568.6 21.4a.7 .7 0 1 0 1.4 0a.7 .7 0 1 0 -1.4 0M567.6 23.1a.7 .7 0 1 0 1.4 0a.7 .7 0 1 0 -1.4 0M563.8 24.8a.7 .7 0 1 0 1.4 0a.7 .7 0 1 0 -1.4 0M566.6 24.1a.7 .7 0 1 0 1.4 0a.7 .7 0 1 0 -1.4 0M565.0 30.0a.7 .7 0 1 0 1.4 0a.7 .7 0 1 0 -1.4 0M569.8 28.3a.7 .7 0 1 0 1.4 0a.7 .7 0 1 0 -1.4 0M566.5 21.5a.7 .7 0 1 0 1.4 0a.7 .7 0 1 0 -1.4 0M564.7 21.6a.7 .7 0 1 0 1.4 0a.7 .7 0 1 0 -1.4 0M567.4 30.0a.7 .7 0 1 0 1.4 0a.7 .7 0 1 0 -1.4 0M569.4 25.9a.7 .7 0 1 0 1.4 0a.7 .7 0 1 0 -1.4 0M565.6 26.9a.7 .7 0 1 0 1.4 0a.7 .7 0 1 0 -1.4 0M567.2 28.8a.7 .7 0 1 0 1.4 0a.7 .7 0 1 0 -1.4 0M570.3 23.5a.7 .7 0 1 0 1.4 0a.7 .7 0 1 0 -1.4 0M570.0 21.1a.7 .7 0 1 0 1.4 0a.7 .7 0 1 0 -1.4 0" stroke="#333" stroke-width="0.4" fill="none"/>
<path d="M556.9 36.6a.7 .7 0 1 0 1.4 0a.7 .7 0 1 0 -1.4 0M558.0 40.0a.7 .7 0 1 0 1.4 0a.7 .7 0 1 0 -1.4 0M573.3 38.9a.7 .7 0 1 0 1.4 0a.7 .7 0 1 0 -1.4 0M570.9 39.5a.7 .7 0 1 0 1.4 0a.7 .7 0 1 0 -1.4 0M565.2 36.6a.7 .7 0 1 0 1.4 0a.7 .7 0 1 0 -1.4 0M573.9 40.9a.7 .7 0 1 0 1.4 0a.7 .7 0 1 0 -1.4 0M561.8 47.5a.7 .7 0 1 0 1.4 0a.7 .7 0 1 0 -1.4 0M565.5 43.0a.7 .7 0 1 0 1.4 0a.7 .7 0 1 0 -1.4 0M563.4 37.3a.7 .7 0 1 0 1.4 0a.7 .7 0 1 0 -1.4 0M556.4 40.3a.7 .7 0 1 0 1.4 0a.7 .7 0 1 0 -1.4 0M572.7 42.5a.7 .7 0 1 0 1.4 0a.7 .7 0 1 0 -1.4 0M563.2 45.5a.7 .7 0 1 0 1.4 0a.7 .7 0 1 0 -1.4 0M559.5 46.0a.7 .7 0 1 0 1.4 0a.7 .7 0 1 0 -1.4 0M564.2 37.2a.7 .7 0 1 0 1.4 0a.7 .7 0 1 0 -1.4 0M568.7 43.3a.7 .7 0 1 0 1.4 0a.7 .7 0 1 0 -1.4 0M561.9 42.0a.7 .7 0 1 0 1.4 0a.7 .7 0 1 0 -1.4 0M569.3 46.0a.7 .7 0 1 0 1.4 0a.7 .7 0 1 0 -1.4 0M561.3 34.4a.7 .7 0 1 0 1.4 0a.7 .7 0 1 0 -1.4 0M573.6 40.2a.7 .7 0 1 0 1.4 0a.7 .7 0 1 0 -1.4 0M561.5 43.0a.7 .7 0 1 0 1.4 0a.7 .7 0 1 0 -1.4 0M561.7 45.4a.7 .7 0 1 0 1.4 0a.7 .7 0 1 0 -1.4 0M557.0 40.2a.7 .7 0 1 0 1.4 0a.7 .7 0 1 0 -1.4 0M558.4 46.0a.7 .7 0 1 0 1.4 0a.7 .7 0 1 0 -1.4 0M562.8 45.6a.7 .7 0 1 0 1.4 0a.7 .7 0 1 0 -1.4 0M571.1 36.9a.7 .7 0 1 0 1.4 0a.7 .7 0 1 0 -1.4 0M562.9 44.3a.7 .7 0 1 0 1.4 0a.7 .7 0 1 0 -1.4 0M564.6 40.3a.7 .7 0 1 0 1.4 0a.7 .7 0 1 0 -1.4 0M569.2 44.8a.7 .7 0 1 0 1.4 0a.7 .7 0 1 0 -1.4 0M560.3 40.4a.7 .7 0 1 0 1.4 0a.7 .7 0 1 0 -1.4 0M568.6 42.0a.7 .7 0 1 0 1.4 0a.7 .7 0 1 0 -1.4 0M565.2 36.3a.7 .7 0 1 0 1.4 0a.7 .7 0 1 0 -1.4 0M573.1 40.2a.7 .7 0 1 0 1.4 0a.7 .7 0 1 0 -1.4 0M566.2 40.8a.7 .7 0 1 0 1.4 0a.7 .7 0 1 0 -1.4 0M564.8 41.7a.7 .7 0 1 0 1.4 0a.7 .7 0 1 0 -1.4 0M559.0 42.7a.7 .7 0 1 0 1.4 0a.7 .7 0 1 0 -1.4 0M571.3 42.6a.7 .7 0 1 0 1.4 0a.7 .7 0 1 0 -1.4 0M568.9 43.2a.7 .7 0 1 0 1.4 0a.7 .7 0 1 0 -1.4 0M564.5 47.3a.7 .7 0 1 0 1.4 0a.7 .7 0 1 0 -1.4 0M559.9 42.8a.7 .7 0 1 0 1.4 0a.7 .7 0 1 0 -1.4 0M570.6 42.3a.7 .7 0 1 0 1.4 0a.7 .7 0 1 0 -1.4 0M558.6 36.9a.7 .7 0 1 0 1.4 0a.7 .7 0 1 0 -1.4 0M572.0 37.7a.7 .7 0 1 0 1.4 0a.7 .7 0 1 0 -1.4 0M564.4 43.6a.7 .7 0 1 0 1.4 0a.7 .7 0 1 0 -1.4 0M564.8 34.8a.7 .7 0 1 0 1.4 0a.7 .7 0 1 0 -1.4 0M555.2 40.6a.7 .7 0 1 0 1.4 0a.7 .7 0 1 0 -1.4 0M559.3 39.8a.7 .7 0 1 0 1.4 0a.7 .7 0 1 0 -1.4 0M564.9 41.8a.7 .7 0 1 0 1.4 0a.7 .7 0 1 0 -1.4 0M558.4 35.8a.7 .7 0 1 0 1.4 0a.7 .7 0 1 0 -1.4 0M570.0 38.3a.7 .7 0 1 0 1.4 0a.7 .7 0 1 0 -1.4 0M559.4 35.2a.7 .7 0 1 0 1.4 0a.7 .7 0 1 0 -1.4 0M567.3 36.0a.7 .7 0 1 0 1.4 0a.7 .7 0 1 0 -1.4 0M558.1 43.6a.7 .7 0 1 0 1.4 0a.7 .7 0 1 0 -1.4 0M566.3 43.6a.7 .7 0 1 0 1.4 0a.7 .7 0 1 0 -1.4 0M560.3 34.6a.7 .7 0 1 0 1.4 0a.7 .7 0 1 0 -1.4 0M558.2 39.7a.7 .7 0 1 0 1.4 0a.7 .7 0 1 0 -1.4 0M560.3 44.8a.7 .7 0 1 0 1.4 0a.7 .7 0 1 0 -1.4 0M566.5 36.5a.7 .7 0 1 0 1.4 0a.7 .7 0 1 0 -1.4 0M568.1 40.3a.7 .7 0 1 0 1.4 0a.7 .7 0 1 0 -1.4 0M561.4 45.6a.7 .7 0 1 0 1.4 0a.7 .7 0 1 0 -1.4 0M556.5 44.4a.7 .7 0 1 0 1.4 0a.7 .7 0 1 0 -1.4 0M568.8 35.0a.7 .7 0 1 0 1.4 0a.7 .7 0 1 0 -1.4 0M563.0 40.2a.7 .7 0 1 0 1.4 0a.7 .7 0 1 0 -1.4 0" stroke="#333" stroke-width="0.4" fill="none"/>
<line x1="526" y1="3" x2="527" y2="3" stroke="#666" stroke-width="0.4"/>
<line x1="526" y1="11" x2="527" y2="11" stroke="#666" stroke-width="0.4"/>
<line x1="526" y1="19" x2="527" y2="19" stroke="#666" stroke-width="0.4"/>
<line x1="526" y1="27" x2="527" y2="27" stroke="#666" stroke-width="0.4"/>
<line x1="526" y1="35" x2="527" y2="35" stroke="#666" stroke-width="0.4"/>
<line x1="526" y1="43" x2="527" y2="43" stroke="#666" stroke-width="0.4"/>
<line x1="526" y1="51" x2="527" y2="51" stroke="#666" stroke-width="0.4"/>
<text x="0" y="0" font-size="3" fill="#777" text-anchor="middle" transform="translate(519 30) rotate(-90)">tSNE2</text>
<text x="554" y="62.5" font-size="3" fill="#777" text-anchor="middle">tSNE1</text>
<circle cx="577.5" cy="33" r="1.3" fill="none" stroke="#333" stroke-width="0.5"/>
<text x="524" y="78.8" font-size="11.5" text-anchor="middle" fill="#111" font-weight="normal" >Sequencing</text>
<text x="523.8" y="91.8" font-size="11.5" text-anchor="middle" fill="#111" font-weight="normal" >Illumina NovaSeq 6000</text>
<text x="0.3" y="120.75" font-size="17.5" text-anchor="start" fill="#000" font-weight="bold" >b</text>
<text x="161" y="123.5" font-size="14" text-anchor="middle" fill="#111" font-weight="normal" >Uninfected</text>
<text x="378.5" y="124" font-size="14" text-anchor="middle" fill="#111" font-weight="normal" >HuNoV-infected</text>
<path d="M53.5 129 L53.5 400.5 L275.6 400.5 M278.75 400.5 L501 400.5" fill="none" stroke="#222" stroke-width="1"/>
<line x1="51" y1="132.3" x2="53.5" y2="132.3" stroke="#222" stroke-width="0.8"/>
<text x="50" y="135.0" font-size="7.4" text-anchor="end" fill="#111" font-weight="normal" stroke="#111" stroke-width="0.3" >15</text>
<line x1="51" y1="177.5" x2="53.5" y2="177.5" stroke="#222" stroke-width="0.8"/>
<text x="50" y="180.2" font-size="7.4" text-anchor="end" fill="#111" font-weight="normal" stroke="#111" stroke-width="0.3" >10</text>
<line x1="51" y1="223.2" x2="53.5" y2="223.2" stroke="#222" stroke-width="0.8"/>
<text x="50" y="225.89999999999998" font-size="7.4" text-anchor="end" fill="#111" font-weight="normal" stroke="#111" stroke-width="0.3" >5</text>
<line x1="51" y1="269" x2="53.5" y2="269" stroke="#222" stroke-width="0.8"/>
<text x="50" y="271.7" font-size="7.4" text-anchor="end" fill="#111" font-weight="normal" stroke="#111" stroke-width="0.3" >0</text>
<line x1="51" y1="314.6" x2="53.5" y2="314.6" stroke="#222" stroke-width="0.8"/>
<text x="50" y="317.3" font-size="7.4" text-anchor="end" fill="#111" font-weight="normal" stroke="#111" stroke-width="0.3" >&#8722;5</text>
<line x1="51" y1="360.4" x2="53.5" y2="360.4" stroke="#222" stroke-width="0.8"/>
<text x="50" y="363.09999999999997" font-size="7.4" text-anchor="end" fill="#111" font-weight="normal" stroke="#111" stroke-width="0.3" >&#8722;10</text>
<line x1="87.3" y1="400.5" x2="87.3" y2="403" stroke="#222" stroke-width="0.8"/>
<text x="87.3" y="409.2" font-size="7.4" text-anchor="middle" fill="#111" font-weight="normal" stroke="#111" stroke-width="0.3" >&#8722;10</text>
<line x1="125.4" y1="400.5" x2="125.4" y2="403" stroke="#222" stroke-width="0.8"/>
<text x="125.4" y="409.2" font-size="7.4" text-anchor="middle" fill="#111" font-weight="normal" stroke="#111" stroke-width="0.3" >&#8722;5</text>
<line x1="163.5" y1="400.5" x2="163.5" y2="403" stroke="#222" stroke-width="0.8"/>
<text x="163.5" y="409.2" font-size="7.4" text-anchor="middle" fill="#111" font-weight="normal" stroke="#111" stroke-width="0.3" >0</text>
<line x1="201.6" y1="400.5" x2="201.6" y2="403" stroke="#222" stroke-width="0.8"/>
<text x="201.6" y="409.2" font-size="7.4" text-anchor="middle" fill="#111" font-weight="normal" stroke="#111" stroke-width="0.3" >5</text>
<line x1="239.7" y1="400.5" x2="239.7" y2="403" stroke="#222" stroke-width="0.8"/>
<text x="239.7" y="409.2" font-size="7.4" text-anchor="middle" fill="#111" font-weight="normal" stroke="#111" stroke-width="0.3" >10</text>
<line x1="313.8" y1="400.5" x2="313.8" y2="403" stroke="#222" stroke-width="0.8"/>
<text x="313.8" y="409.2" font-size="7.4" text-anchor="middle" fill="#111" font-weight="normal" stroke="#111" stroke-width="0.3" >&#8722;10</text>
<line x1="351.9" y1="400.5" x2="351.9" y2="403" stroke="#222" stroke-width="0.8"/>
<text x="351.9" y="409.2" font-size="7.4" text-anchor="middle" fill="#111" font-weight="normal" stroke="#111" stroke-width="0.3" >&#8722;5</text>
<line x1="390.0" y1="400.5" x2="390.0" y2="403" stroke="#222" stroke-width="0.8"/>
<text x="390.0" y="409.2" font-size="7.4" text-anchor="middle" fill="#111" font-weight="normal" stroke="#111" stroke-width="0.3" >0</text>
<line x1="428.1" y1="400.5" x2="428.1" y2="403" stroke="#222" stroke-width="0.8"/>
<text x="428.1" y="409.2" font-size="7.4" text-anchor="middle" fill="#111" font-weight="normal" stroke="#111" stroke-width="0.3" >5</text>
<line x1="466.2" y1="400.5" x2="466.2" y2="403" stroke="#222" stroke-width="0.8"/>
<text x="466.2" y="409.2" font-size="7.4" text-anchor="middle" fill="#111" font-weight="normal" stroke="#111" stroke-width="0.3" >10</text>
<text x="277" y="417.5" font-size="8.4" text-anchor="middle" fill="#222" font-weight="normal" stroke="#222" stroke-width="0.15" >UMAP_1</text>
<text x="0" y="0" font-size="8" text-anchor="middle" fill="#222" stroke="#222" stroke-width="0.15" transform="translate(35 265) rotate(-90)">UMAP_2</text>
<path d="M121 166h1.1M122 166.5h1.1M114 160h1.1M125 167.5h1.1M116 158.5h1.1M122.5 168h1.1M121 159.5h1.1M128.5 169.5h1.1M118.5 158.5h1.1M118 154.5h1.1M127 162.5h1.1M131 172.5h1.1M114 160.5h1.1M131 170.5h1.1M114.5 158.5h1.1M123 163.5h1.1M116.5 159h1.1M131 171.5h1.1M116.5 162h1.1M129 168h1.1M119.5 163.5h1.1M116 156.5h1.1M130 172h1.1M117 157.5h1.1M129.5 167h1.1M124 160h1.1M113.5 158h1.1M124 159.5h1.1M116 161.5h1.1M125.5 166.5h1.1M126.5 169.5h1.1M129.5 173.5h1.1M129 166.5h1.1M124.5 162h1.1M123.5 167h1.1M126.5 162h1.1M126.5 166.5h1.1M121.5 158.5h1.1M126 164.5h1.1M116.5 157h1.1M130 168.5h1.1M128 174.5h1.1M123.5 160.5h1.1M128.5 173h1.1M117.5 157h1.1M116.5 162.5h1.1M124.5 164.5h1.1M126 166.5h1.1M113 156h1.1M115 154h1.1M124.5 163.5h1.1M124.5 168h1.1M121.5 157h1.1M117.5 161h1.1M126 165h1.1M124 170.5h1.1M130.5 170h1.1M129.5 171.5h1.1M126.5 172h1.1M124.5 169.5h1.1M115 156.5h1.1M128.5 169h1.1M124.5 165h1.1M128.5 166h1.1M118.5 162h1.1M128.5 174h1.1M122.5 164.5h1.1M123 164.5h1.1M122.5 162.5h1.1M131 174.5h1.1M128 174h1.1M121.5 160.5h1.1M116 158h1.1M125.5 160.5h1.1M122.5 163h1.1M119.5 162.5h1.1M124.5 165.5h1.1M128.5 167h1.1M117.5 155h1.1M128.5 163h1.1M116 154.5h1.1M123 165h1.1M116 157.5h1.1M118.5 164h1.1M126.5 162.5h1.1M116 157h1.1M124.5 162.5h1.1M124 164.5h1.1M131.5 171.5h1.1M126.5 171h1.1M128 162.5h1.1M125.5 171h1.1M119 164h1.1M119 156.5h1.1M114.5 154.5h1.1M117 160h1.1M115.5 154.5h1.1M115 154.5h1.1M114 156h1.1M119.5 156.5h1.1M115.5 153.5h1.1M117 156.5h1.1M114 154.5h1.1M116.5 158.5h1.1M118 157h1.1M115.5 157.5h1.1M116.5 160h1.1M114 155.5h1.1M119.5 156h1.1M117 155.5h1.1M113.5 154.5h1.1M120 157.5h1.1M118 158.5h1.1M116 156h1.1M119 155.5h1.1M113.5 156h1.1M115 158h1.1M116 159.5h1.1M118.5 159h1.1M113.5 158.5h1.1M116.5 155.5h1.1M120.5 156.5h1.1M120 158h1.1M114 157.5h1.1M118.5 156h1.1M112.5 156h1.1M116 154h1.1M120 156h1.1M115.5 156h1.1M114.5 155h1.1M123 164h1.1M121.5 165h1.1M124.5 161h1.1M127 164h1.1M124 162h1.1M123 165.5h1.1M123 161h1.1M122 162.5h1.1M124 162.5h1.1M124 168h1.1M124.5 164h1.1M123.5 166.5h1.1M123.5 163h1.1M126 165.5h1.1M121.5 163h1.1M122.5 166h1.1M124.5 166.5h1.1M124 160.5h1.1M125 164.5h1.1M125 161h1.1M134 186.5h1.1M132.5 182h1.1M134 187.5h1.1M132.5 185.5h1.1M131.5 180.5h1.1M133 186.5h1.1M132 182h1.1M129.5 177.5h1.1M130.5 177h1.1M132.5 184h1.1M133.5 185.5h1.1M134.5 186.5h1.1M130.5 179h1.1M131.5 179.5h1.1M131 181h1.1M132 181h1.1M133.5 186h1.1M134 189h1.1M134.5 188.5h1.1M140.5 202h1.1M137 194.5h1.1M140.5 204.5h1.1M137 193.5h1.1M137.5 195.5h1.1M138 196h1.1M136 193h1.1M140 202h1.1M140.5 202.5h1.1M135.5 193h1.1M141 203h1.1M135 190.5h1.1M138.5 198h1.1M141 204.5h1.1M141 202h1.1M138 198.5h1.1M136 191h1.1M139 201.5h1.1M135.5 191.5h1.1M135.5 192.5h1.1M139.5 199.5h1.1M136 193.5h1.1M138 198h1.1M143.5 208h1.1M145.5 213h1.1M143.5 209h1.1M144.5 211h1.1M146 212h1.1M145 212h1.1M144.5 212h1.1M143.5 209.5h1.1M145 211.5h1.1M144 208h1.1M144 211.5h1.1M138.5 208.5h1.1M136.5 212.5h1.1M134.5 210.5h1.1M135.5 215.5h1.1M143.5 208.5h1.1M134.5 213h1.1M141 219.5h1.1M134.5 207.5h1.1M136 209.5h1.1M137 217h1.1M141 209.5h1.1M136 210h1.1M137.5 214h1.1M144 213h1.1M140 209.5h1.1M143.5 212h1.1M140.5 213.5h1.1M142 209.5h1.1M138.5 218h1.1M142.5 215h1.1M136 208.5h1.1M138 210h1.1M144.5 213.5h1.1M137 214h1.1M135 210h1.1M142.5 207.5h1.1M140 213h1.1M145.5 215h1.1M143.5 212.5h1.1M140.5 214h1.1M137.5 210.5h1.1M135 210.5h1.1M139.5 216.5h1.1M138.5 216.5h1.1M135.5 212h1.1M144 216h1.1M142.5 209.5h1.1M141 213h1.1M141.5 210.5h1.1M138.5 214h1.1M137.5 211h1.1M138.5 216h1.1M137 209h1.1M143 211h1.1M145.5 214.5h1.1M142.5 211h1.1M135.5 207.5h1.1M169.5 150.5h1.1M194 154.5h1.1M178 144h1.1M197.5 151h1.1M182 155.5h1.1M177 149h1.1M178 143h1.1M177.5 156.5h1.1M187.5 154.5h1.1M175.5 155.5h1.1M182 158.5h1.1M194 155h1.1M196.5 153.5h1.1M176 152.5h1.1M168 157h1.1M186.5 146.5h1.1M184.5 156.5h1.1M176.5 152h1.1M183 154h1.1M184 148h1.1M193.5 154.5h1.1M171.5 154h1.1M194 146.5h1.1M183.5 144h1.1M187.5 148.5h1.1M177 154.5h1.1M170 152h1.1M184 146h1.1M182 148h1.1M184 149h1.1M188 145.5h1.1M199 154.5h1.1M180.5 151h1.1M186 156.5h1.1M178 151h1.1M182.5 153h1.1M190.5 154.5h1.1M191 148.5h1.1M185 144h1.1M181.5 150.5h1.1M182.5 147.5h1.1M174 150.5h1.1M167.5 153.5h1.1M196.5 159h1.1M177.5 149.5h1.1M184.5 143.5h1.1M174 152.5h1.1M180.5 146.5h1.1M196.5 146.5h1.1M194.5 149.5h1.1M180.5 146h1.1M196 162.5h1.1M170 155h1.1M190 149h1.1M196.5 160h1.1M189.5 145.5h1.1M179.5 144h1.1M189.5 146.5h1.1M176.5 156h1.1M196 154.5h1.1M197.5 156h1.1M173 155.5h1.1M179 153h1.1M182.5 143.5h1.1M185.5 148.5h1.1M191 147.5h1.1M173 153.5h1.1M180 157.5h1.1M181.5 146h1.1M183.5 155.5h1.1M176 155.5h1.1M192 153h1.1M188.5 153h1.1M198.5 146h1.1M192 146h1.1M185.5 147.5h1.1M171.5 152.5h1.1M171 154h1.1M181.5 143.5h1.1M185 157h1.1M179 151.5h1.1M184 153.5h1.1M192.5 147.5h1.1M186 153h1.1M172.5 154.5h1.1M168.5 156.5h1.1M176.5 147h1.1M181 157.5h1.1M196 145.5h1.1M177.5 148.5h1.1M178.5 144h1.1M183.5 147.5h1.1M176.5 149.5h1.1M175.5 156.5h1.1M195.5 154.5h1.1M196 152h1.1M169.5 153.5h1.1M170.5 152h1.1M174.5 151.5h1.1M195 146.5h1.1M177 144h1.1M188.5 150h1.1M189.5 148h1.1M176 145.5h1.1M198 150h1.1M175 150h1.1M182 143.5h1.1M177.5 147.5h1.1M174.5 151h1.1M183 145.5h1.1M190 156h1.1M173 157h1.1M178 150.5h1.1M195.5 147h1.1M173.5 149.5h1.1M163.5 155h1.1M184 158.5h1.1M199.5 148.5h1.1M171 156.5h1.1M195.5 147.5h1.1M186.5 144.5h1.1M179 150.5h1.1M175 152.5h1.1M178 152h1.1M169 156h1.1M175.5 151h1.1M168.5 154h1.1M189 153.5h1.1M177.5 150h1.1M184.5 152h1.1M175 147.5h1.1M196.5 154h1.1M172.5 156h1.1M169.5 152h1.1M176.5 154h1.1M186.5 155h1.1M196 150h1.1M167.5 152.5h1.1M174.5 150h1.1M188.5 147.5h1.1M181.5 155.5h1.1M183.5 155h1.1M184 159h1.1M199 149h1.1M174.5 157h1.1M168.5 155h1.1M181 154h1.1M176.5 148.5h1.1M191 153h1.1M175 146h1.1M182 145h1.1M192 152h1.1M172 152.5h1.1M192.5 150.5h1.1M189.5 147.5h1.1M189.5 149h1.1M184 151h1.1M189.5 155h1.1M188 147h1.1M188.5 151h1.1M186.5 150.5h1.1M183 152h1.1M176.5 149h1.1M173.5 150.5h1.1M186 158h1.1M199.5 150.5h1.1M193 145.5h1.1M198 147.5h1.1M181 145h1.1M184 145.5h1.1M186 148h1.1M171 152h1.1M176.5 148h1.1M196.5 149h1.1M181 151h1.1M193 150.5h1.1M187.5 155h1.1M195.5 162.5h1.1M190 146h1.1M174.5 153h1.1M182.5 158.5h1.1M194 158h1.1M198.5 150.5h1.1M184.5 147h1.1M176.5 155.5h1.1M176 148h1.1M197 149h1.1M190.5 147h1.1M190.5 153.5h1.1M188.5 146h1.1M176 151h1.1M178 149h1.1M171 150.5h1.1M189.5 146h1.1M173 156h1.1M198.5 149h1.1M186.5 150h1.1M187 147h1.1M195 155h1.1M181.5 154h1.1M188.5 151.5h1.1M188 151h1.1M177 147h1.1M185.5 154h1.1M179.5 147h1.1M178 145h1.1M177.5 145.5h1.1M181.5 146.5h1.1M180 145h1.1M179.5 143h1.1M183 150h1.1M178 147h1.1M181.5 144.5h1.1M183.5 145.5h1.1M181 144.5h1.1M181 147h1.1M182.5 144.5h1.1M180 150.5h1.1M177 148h1.1M181 145.5h1.1M179.5 150h1.1M182.5 148.5h1.1M180.5 144.5h1.1M182 144h1.1M176.5 146h1.1M180.5 145.5h1.1M179 148h1.1M181.5 148h1.1M177 149.5h1.1M216 191h1.1M217 188.5h1.1M219.5 188.5h1.1M219.5 191.5h1.1M220 190h1.1M217 188h1.1M220.5 189h1.1M217 189.5h1.1M215.5 191h1.1M218 192h1.1M217.5 189.5h1.1M217 191.5h1.1M216 190.5h1.1M216.5 192.5h1.1M220 189.5h1.1M222.5 189h1.1M220.5 190.5h1.1M218 187h1.1M218 188.5h1.1M216.5 191.5h1.1M220 188h1.1M217.5 187.5h1.1M218 189h1.1M219.5 190.5h1.1M217.5 191.5h1.1M220 189h1.1M214 191h1.1M190 204.5h1.1M190 204h1.1M191.5 206.5h1.1M192.5 207h1.1M189.5 207h1.1M188 207h1.1M191 207.5h1.1M188.5 208.5h1.1M192 208h1.1M190.5 206h1.1M187.5 208h1.1M189 205.5h1.1M190.5 203.5h1.1M190.5 205h1.1M193.5 205.5h1.1M189.5 206.5h1.1M192.5 209.5h1.1M188 208.5h1.1M192 207.5h1.1M191 208.5h1.1M187.5 209.5h1.1M100 222.5h1.1M102 224h1.1M100.5 221.5h1.1M102.5 221.5h1.1M100.5 222h1.1M101 222h1.1M101.5 222h1.1M119 204.5h1.1M120.5 204h1.1M124 206h1.1M122 209h1.1M119 206.5h1.1M122 206.5h1.1M118.5 206h1.1M121 208h1.1M117.5 204.5h1.1M124.5 205.5h1.1M125.5 205.5h1.1M118 207.5h1.1M125 205h1.1M118.5 208h1.1M124.5 207h1.1M121.5 209h1.1M124 205.5h1.1M124 205h1.1M120 205.5h1.1M115.5 204.5h1.1M123 206.5h1.1M118 209h1.1M117 205.5h1.1M121 208.5h1.1M120.5 202.5h1.1M120 205h1.1M123 209h1.1M120.5 207.5h1.1M119 208h1.1M116 206.5h1.1M116.5 205h1.1M116 205h1.1M122 206h1.1M125.5 205h1.1M123.5 204h1.1M117.5 207.5h1.1M122 204.5h1.1M119 207.5h1.1M120 207h1.1M118 256.5h1.1M121.5 259h1.1M118 255h1.1M120.5 257.5h1.1M116 254h1.1M114 251.5h1.1M118.5 256h1.1M117 253.5h1.1M121.5 260h1.1M121 258h1.1M127 266h1.1M123 261.5h1.1M126 264.5h1.1M126.5 266h1.1M127 267.5h1.1M126.5 265.5h1.1M127.5 268h1.1M123.5 262.5h1.1M127 254.5h1.1M124.5 257h1.1M126 255h1.1M127 253h1.1M126.5 254.5h1.1M126 254.5h1.1M122.5 260h1.1M121.5 259.5h1.1M123.5 257.5h1.1M123 258.5h1.1M116.5 264.5h1.1M116.5 266h1.1M120 261h1.1M118.5 263h1.1M119.5 262.5h1.1M115.5 266.5h1.1M163 268.5h1.1M158 268h1.1M156.5 267h1.1M164.5 268.5h1.1M167.5 270.5h1.1M163.5 268h1.1M168 271.5h1.1M167 270h1.1M156 265.5h1.1M167.5 272.5h1.1M166 271.5h1.1M163 267.5h1.1M163 268h1.1M162.5 268.5h1.1M162.5 267.5h1.1M164.5 269.5h1.1M162 268.5h1.1M167.5 272h1.1M170 272.5h1.1M172 274.5h1.1M178.5 279h1.1M179 279h1.1M177.5 278.5h1.1M168.5 272h1.1M175 276h1.1M180 276.5h1.1M173.5 276.5h1.1M169 271h1.1M178 278.5h1.1M177.5 277.5h1.1M174 275.5h1.1M176.5 277.5h1.1M168.5 271h1.1M177 278h1.1M178 277h1.1M172 273.5h1.1M135.5 300h1.1M138 296h1.1M140 292h1.1M141.5 290h1.1M138 297h1.1M136 297h1.1M137.5 296h1.1M153.5 269h1.1M148 280.5h1.1M148 280h1.1M148.5 280.5h1.1M146.5 281h1.1M148 279h1.1M153.5 270.5h1.1M154 269h1.1M146.5 283.5h1.1M185 292h1.1M191 351.5h1.1M189.5 302.5h1.1M190 285.5h1.1M205 335.5h1.1M188.5 336h1.1M190 297h1.1M198 332.5h1.1M193.5 338h1.1M188.5 347h1.1M208.5 331h1.1M211 310h1.1M189.5 284.5h1.1M186 347.5h1.1M178.5 289.5h1.1M187 289h1.1M196 319h1.1M204 315.5h1.1M184 281h1.1M187 333.5h1.1M210 314h1.1M181.5 300.5h1.1M197 298h1.1M193 321.5h1.1M207 311h1.1M204 306h1.1M177.5 287.5h1.1M194.5 325.5h1.1M193 289h1.1M198.5 303.5h1.1M193.5 323h1.1M187.5 302.5h1.1M208.5 320h1.1M191 316.5h1.1M193 300.5h1.1M194.5 351h1.1M186.5 288.5h1.1M188.5 318h1.1M194 346h1.1M195 304.5h1.1M185.5 319.5h1.1M199 310.5h1.1M193.5 324.5h1.1M206.5 336.5h1.1M185 344.5h1.1M194.5 308h1.1M196.5 348h1.1M194 312.5h1.1M186.5 340h1.1M194.5 301.5h1.1M183 291.5h1.1M206.5 337h1.1M201 336.5h1.1M202 337.5h1.1M198.5 345.5h1.1M208 334.5h1.1M205 342.5h1.1M197 348h1.1M199.5 313h1.1M190 302.5h1.1M200 335h1.1M201.5 315h1.1M187.5 296h1.1M201 347.5h1.1M188 346.5h1.1M188 296.5h1.1M195 312.5h1.1M195.5 311.5h1.1M184.5 300.5h1.1M189 315.5h1.1M191 306.5h1.1M184.5 311.5h1.1M192 328h1.1M204 318h1.1M199.5 347.5h1.1M196 352h1.1M195.5 289.5h1.1M186 330.5h1.1M203 299.5h1.1M204 325h1.1M202 310.5h1.1M193.5 348.5h1.1M201.5 309h1.1M197 332.5h1.1M190.5 325h1.1M201 322.5h1.1M180.5 279.5h1.1M194 320.5h1.1M194.5 306.5h1.1M190.5 343.5h1.1M185.5 336h1.1M202 309.5h1.1M189.5 309h1.1M192.5 299.5h1.1M199 307h1.1M187 334.5h1.1M192.5 311.5h1.1M208.5 310h1.1M189.5 344.5h1.1M190.5 327h1.1M203.5 298h1.1M202.5 348.5h1.1M200 326.5h1.1M192 325.5h1.1M184 334.5h1.1M196 350.5h1.1M188.5 330h1.1M198.5 292h1.1M190.5 351.5h1.1M206.5 339.5h1.1M190.5 320.5h1.1M202 334h1.1M203.5 319.5h1.1M185 329.5h1.1M196.5 317h1.1M205 300h1.1M186 319h1.1M195.5 313.5h1.1M209 326h1.1M186.5 337h1.1M191.5 286.5h1.1M198.5 310.5h1.1M195.5 351.5h1.1M197 348.5h1.1M189 333.5h1.1M201.5 328.5h1.1M206.5 304.5h1.1M186 302.5h1.1M189.5 326h1.1M181.5 299h1.1M185 289h1.1M180 281.5h1.1M205 332h1.1M185.5 313h1.1M206 341.5h1.1M201.5 301h1.1M193.5 299.5h1.1M192 337.5h1.1M197 322h1.1M184 323h1.1M188.5 309h1.1M192 339h1.1M210 327.5h1.1M182 302.5h1.1M208.5 342.5h1.1M184 303h1.1M184 330.5h1.1M196 320h1.1M179.5 278.5h1.1M189 351h1.1M198 341.5h1.1M178 283h1.1M182.5 296h1.1M200.5 328.5h1.1M187.5 311h1.1M186.5 318.5h1.1M189 303h1.1M185 297.5h1.1M187.5 320.5h1.1M185.5 284h1.1M207 311.5h1.1M195 299h1.1M208.5 333h1.1M199 326h1.1M201.5 313.5h1.1M191 305h1.1M194.5 311h1.1M195.5 316h1.1M205 344h1.1M205.5 323h1.1M186.5 290h1.1M208 339.5h1.1M201 328.5h1.1M203.5 310h1.1M190.5 317.5h1.1M208 315h1.1M196.5 347.5h1.1M192 334h1.1M197.5 320h1.1M209 327h1.1M184 309.5h1.1M196 301h1.1M197 324h1.1M188 349h1.1M199.5 295.5h1.1M206 331h1.1M181 290.5h1.1M177 287.5h1.1M193.5 349h1.1M187.5 295h1.1M199.5 322.5h1.1M196.5 304.5h1.1M194 350h1.1M184.5 296.5h1.1M210 327h1.1M178 289.5h1.1M184.5 297.5h1.1M207 329h1.1M199 304.5h1.1M202.5 313h1.1M190 316h1.1M188 286.5h1.1M198 345.5h1.1M194.5 334h1.1M196.5 293.5h1.1M193 340h1.1M199 332.5h1.1M204 331h1.1M181 287.5h1.1M177 277.5h1.1M208.5 304.5h1.1M179 278.5h1.1M207 321.5h1.1M180 297h1.1M183 283.5h1.1M182 288h1.1M195.5 304h1.1M194.5 305h1.1M208.5 320.5h1.1M190.5 317h1.1M190 329.5h1.1M189.5 329.5h1.1M186.5 297.5h1.1M203.5 335.5h1.1M201.5 346.5h1.1M182.5 305.5h1.1M207.5 334h1.1M203.5 342h1.1M189 322h1.1M197 343.5h1.1M200 349h1.1M199 296.5h1.1M187.5 322h1.1M183 309.5h1.1M185.5 303.5h1.1M196.5 301.5h1.1M176 275h1.1M193.5 331h1.1M191.5 299.5h1.1M190.5 299h1.1M203.5 311h1.1M191 289h1.1M203 319h1.1M201 349.5h1.1M178 282.5h1.1M206.5 328h1.1M196 341h1.1M189.5 284h1.1M182 280h1.1M198 338.5h1.1M188.5 284.5h1.1M200.5 331.5h1.1M208.5 318h1.1M197.5 341.5h1.1M201 350.5h1.1M186.5 335h1.1M199.5 311h1.1M185.5 321.5h1.1M194.5 314.5h1.1M178 285h1.1M198.5 327.5h1.1M186.5 310h1.1M194.5 337h1.1M190.5 346h1.1M193.5 306h1.1M193.5 302.5h1.1M198 334h1.1M192.5 298h1.1M189.5 343.5h1.1M208.5 312.5h1.1M180.5 285.5h1.1M209 333h1.1M183.5 309.5h1.1M180 278h1.1M200 311.5h1.1M209 336h1.1M198 311.5h1.1M187 346h1.1M187.5 331h1.1M209.5 336.5h1.1M185 317.5h1.1M187.5 288h1.1M203.5 333.5h1.1M188.5 307.5h1.1M201.5 331h1.1M179.5 288h1.1M206.5 313.5h1.1M199.5 303h1.1M189.5 288.5h1.1M198 322.5h1.1M204.5 322h1.1M191 325h1.1M189.5 307h1.1M189.5 325h1.1M189 302h1.1M207 337h1.1M201 340h1.1M190 324.5h1.1M185 299.5h1.1M190 284h1.1M185 333.5h1.1M189 311.5h1.1M183 297.5h1.1M191.5 296.5h1.1M199.5 337h1.1M188 290h1.1M180 281h1.1M205 321.5h1.1M198 299.5h1.1M189 350h1.1M189 346h1.1M208 319.5h1.1M179.5 282h1.1M191 287h1.1M193.5 335h1.1M195.5 307h1.1M195 330h1.1M201.5 319h1.1M205 338.5h1.1M179 286.5h1.1M192 311h1.1M196.5 296.5h1.1M204.5 300.5h1.1M204.5 320.5h1.1M200.5 307h1.1M195 291h1.1M193 295h1.1M195.5 320h1.1M207 304.5h1.1M204 338h1.1M180 288h1.1M209.5 311.5h1.1M184.5 325h1.1M202.5 335h1.1M192 310.5h1.1M193 303.5h1.1M192.5 328h1.1M202 300.5h1.1M189.5 299h1.1M182.5 283h1.1M184.5 331h1.1M183 299.5h1.1M204.5 332h1.1M187 310h1.1M206 346h1.1M198 349h1.1M187 309h1.1M207 327.5h1.1M208 314.5h1.1M186.5 307.5h1.1M185 331.5h1.1M188.5 292.5h1.1M178 279h1.1M191 317h1.1M190.5 318.5h1.1M201 301h1.1M194 304h1.1M187 298h1.1M208.5 303h1.1M192 315.5h1.1M176.5 283h1.1M205 318h1.1M194 301.5h1.1M203.5 314h1.1M205 339.5h1.1M209 331h1.1M201 310.5h1.1M195.5 319.5h1.1M195.5 338.5h1.1M203.5 322.5h1.1M198 345h1.1M189.5 348h1.1M194 332h1.1M187 343h1.1M203 343h1.1M210.5 316h1.1M188.5 283h1.1M186 327h1.1M191 311.5h1.1M192 321h1.1M184 294h1.1M193 324.5h1.1M198.5 302h1.1M176.5 282h1.1M184.5 294h1.1M205 344.5h1.1M185.5 283h1.1M202.5 311.5h1.1M203.5 334.5h1.1M194.5 296h1.1M195.5 326h1.1M188 324.5h1.1M183.5 292.5h1.1M207.5 338.5h1.1M203 339.5h1.1M194 344h1.1M201 326.5h1.1M201.5 303.5h1.1M205.5 310.5h1.1M183.5 310h1.1M201 317.5h1.1M190.5 294h1.1M184 292h1.1M191 328.5h1.1M209.5 327.5h1.1M198.5 331.5h1.1M198.5 302.5h1.1M201 345.5h1.1M200.5 322h1.1M198.5 324.5h1.1M208 322.5h1.1M206.5 323.5h1.1M207.5 334.5h1.1M212.5 310.5h1.1M209 305.5h1.1M190.5 296.5h1.1M187 305.5h1.1M191.5 337h1.1M188.5 350.5h1.1M187 344h1.1M186.5 313h1.1M195 295.5h1.1M188.5 297h1.1M206 334.5h1.1M202 321h1.1M208 332h1.1M203.5 340h1.1M199 321.5h1.1M185.5 292h1.1M187 322h1.1M187.5 326.5h1.1M185 338.5h1.1M178.5 282.5h1.1M202.5 315.5h1.1M206 313.5h1.1M195.5 346.5h1.1M202.5 329h1.1M188 334.5h1.1M197.5 307h1.1M195.5 296.5h1.1M186.5 343.5h1.1M188.5 334.5h1.1M189.5 290h1.1M182 279h1.1M198.5 323h1.1M184.5 292h1.1M194 307.5h1.1M189.5 348.5h1.1M187.5 339h1.1M201.5 339.5h1.1M189.5 345.5h1.1M189 291h1.1M192 322.5h1.1M185.5 338.5h1.1M185 305.5h1.1M196.5 316.5h1.1M202.5 348h1.1M183 312h1.1M186 318h1.1M207.5 343h1.1M190 351h1.1M176 285h1.1M198.5 312h1.1M181 285.5h1.1M198 324.5h1.1M205.5 339h1.1M181 298.5h1.1M201 337.5h1.1M194 345.5h1.1M207 339h1.1M204 311.5h1.1M192 342h1.1M186 322.5h1.1M211 314h1.1M206 332h1.1M207.5 310.5h1.1M205 319h1.1M191 286.5h1.1M191.5 285.5h1.1M206.5 322h1.1M208 318h1.1M181.5 296.5h1.1M207 320h1.1M200 324h1.1M192 340h1.1M196.5 306.5h1.1M185 322.5h1.1M209.5 332.5h1.1M186 322h1.1M186.5 333.5h1.1M185.5 342h1.1M201 344h1.1M188.5 348.5h1.1M197.5 295h1.1M200 299h1.1M198.5 294h1.1M186 303h1.1M198 347h1.1M199 320h1.1M188 304.5h1.1M197 294h1.1M199.5 341.5h1.1M192 340.5h1.1M196 315h1.1M198.5 317.5h1.1M201 318h1.1M186.5 319.5h1.1M195 310h1.1M179 292.5h1.1M186 291h1.1M183 281.5h1.1M195 288.5h1.1M199.5 321.5h1.1M199 312h1.1M198.5 298h1.1M193 328h1.1M197.5 350h1.1M204.5 297.5h1.1M189.5 308.5h1.1M203 330.5h1.1M212 313.5h1.1M202.5 322.5h1.1M205 308.5h1.1M203.5 321.5h1.1M199.5 317.5h1.1M200.5 318.5h1.1M202 308h1.1M212 312h1.1M189 288h1.1M195 352h1.1M209.5 309.5h1.1M199.5 310.5h1.1M193.5 317.5h1.1M188 348.5h1.1M198 296h1.1M196 342h1.1M194 297.5h1.1M181.5 293h1.1M192 307.5h1.1M199 311.5h1.1M205.5 337h1.1M185 330h1.1M185.5 341.5h1.1M192 306h1.1M197 315.5h1.1M196 318.5h1.1M176.5 279h1.1M194 340h1.1M176 279h1.1M187.5 313h1.1M207.5 320.5h1.1M209.5 327h1.1M184.5 304h1.1M210 312.5h1.1M184.5 289.5h1.1M194.5 328h1.1M184 328h1.1M197.5 333h1.1M194.5 289h1.1M179.5 278h1.1M183 295.5h1.1M204 309.5h1.1M192.5 316.5h1.1M202 339.5h1.1M186.5 348h1.1M192 338h1.1M204.5 313h1.1M190.5 284.5h1.1M200 346h1.1M201.5 299.5h1.1M195.5 302.5h1.1M190.5 334.5h1.1M198 308.5h1.1M201 308h1.1M205 317.5h1.1M185 298h1.1M211 312h1.1M184 285h1.1M184.5 335h1.1M198 315.5h1.1M182.5 280.5h1.1M198 310.5h1.1M199.5 318.5h1.1M199.5 307h1.1M207 316h1.1M206.5 334.5h1.1M201.5 317.5h1.1M185 283h1.1M200.5 294h1.1M198.5 308h1.1M184.5 298.5h1.1M201.5 343.5h1.1M187.5 299.5h1.1M192.5 308h1.1M199 333.5h1.1M204.5 337.5h1.1M192.5 309.5h1.1M200 299.5h1.1M206.5 307.5h1.1M196.5 315h1.1M186 312h1.1M194 338h1.1M186.5 326.5h1.1M181 295h1.1M197.5 330h1.1M191.5 347.5h1.1M202.5 319h1.1M186.5 317.5h1.1M211 311h1.1M199 341h1.1M196 295h1.1M193 311h1.1M189 320h1.1M181.5 294.5h1.1M195.5 332h1.1M190.5 344.5h1.1M198.5 326h1.1M186.5 344.5h1.1M188.5 340.5h1.1M190 304.5h1.1M188 303h1.1M189 330h1.1M191.5 350h1.1M208.5 329.5h1.1M210.5 307h1.1M189.5 300.5h1.1M191.5 312.5h1.1M207 324h1.1M184.5 322.5h1.1M191 349h1.1M192.5 296h1.1M187.5 349h1.1M188.5 294h1.1M195.5 327h1.1M188 331h1.1M194 328.5h1.1M177.5 289h1.1M186.5 284h1.1M178.5 286h1.1M194 298h1.1M205 314h1.1M195 304h1.1M190 339h1.1M196 331.5h1.1M198 312h1.1M192 327.5h1.1M193.5 297h1.1M205 315h1.1M186.5 305.5h1.1M176 280h1.1M208.5 317h1.1M210.5 316.5h1.1M192 322h1.1M191 325.5h1.1M188.5 325.5h1.1M183.5 313h1.1M191.5 315.5h1.1M193.5 352h1.1M190 305.5h1.1M193 296h1.1M196.5 331.5h1.1M207.5 314h1.1M200.5 347h1.1M198.5 313h1.1M194.5 307h1.1M182.5 290.5h1.1M205.5 315h1.1M206.5 325.5h1.1M193 288h1.1M185.5 289.5h1.1M199.5 326.5h1.1M191.5 310.5h1.1M210 325h1.1M193 332.5h1.1M203.5 299h1.1M199 324h1.1M207.5 323.5h1.1M184.5 281.5h1.1M207 340h1.1M182 300h1.1M203 325h1.1M206.5 333.5h1.1M194.5 350.5h1.1M193 309.5h1.1M199.5 336h1.1M197.5 347.5h1.1M186 344h1.1M208.5 302h1.1M199 349h1.1M196.5 331h1.1M200.5 309h1.1M184 296.5h1.1M189 331.5h1.1M196.5 300h1.1M204 339.5h1.1M186 311h1.1M187 338.5h1.1M198 317h1.1M195 298.5h1.1M184 287h1.1M193.5 303.5h1.1M197.5 327h1.1M185.5 332.5h1.1M203 336.5h1.1M195.5 345.5h1.1M189 295.5h1.1M182.5 282.5h1.1M200 305h1.1M195.5 301.5h1.1M204.5 310h1.1M193.5 325h1.1M188.5 327.5h1.1M178.5 281h1.1M204.5 314h1.1M205 324h1.1M181 281.5h1.1M192 297.5h1.1M197.5 306h1.1M189 286h1.1M201.5 304h1.1M198 338h1.1M189 347h1.1M195.5 291.5h1.1M197.5 299h1.1M207 309.5h1.1M182 297.5h1.1M192.5 349h1.1M182.5 289h1.1M196 324.5h1.1M181 292h1.1M198 293.5h1.1M208 337.5h1.1M187.5 321.5h1.1M198.5 323.5h1.1M196.5 293h1.1M189 299h1.1M193.5 293h1.1M189 333h1.1M204.5 302h1.1M203.5 302h1.1M185 313.5h1.1M206 321h1.1M209.5 331h1.1M201.5 332h1.1M201.5 346h1.1M198 326h1.1M196 316.5h1.1M187.5 330h1.1M190.5 327.5h1.1M198.5 322.5h1.1M194.5 314h1.1M200.5 337h1.1M183.5 293h1.1M184 312.5h1.1M197.5 344h1.1M198.5 333h1.1M186.5 298.5h1.1M199 332h1.1M186 283h1.1M182 295h1.1M197 300h1.1M181.5 282h1.1M201 338h1.1M195.5 337.5h1.1M188.5 313h1.1M205 318.5h1.1M191 301h1.1M182 281h1.1M199.5 348.5h1.1M199.5 346h1.1M189.5 340.5h1.1M184 329h1.1M185.5 315h1.1M186 310h1.1M196 325.5h1.1M203 303.5h1.1M183.5 290h1.1M191.5 339.5h1.1M193.5 320h1.1M185 306.5h1.1M192.5 294.5h1.1M186.5 301h1.1M185.5 289h1.1M182.5 299.5h1.1M194.5 339.5h1.1M207 341.5h1.1M176.5 277h1.1M188.5 308h1.1M183.5 299.5h1.1M203 302.5h1.1M199.5 292.5h1.1M194 341.5h1.1M205.5 332h1.1M204.5 316.5h1.1M194 315.5h1.1M190.5 341h1.1M182.5 302h1.1M185.5 334.5h1.1M186.5 282.5h1.1M191.5 319.5h1.1M196.5 332.5h1.1M185.5 333h1.1M206 343h1.1M205 330.5h1.1M197 305h1.1M187.5 338h1.1M205 330h1.1M188 309h1.1M202.5 329.5h1.1M193 348.5h1.1M199 343h1.1M183 306.5h1.1M186.5 313.5h1.1M191 313h1.1M189.5 294h1.1M188.5 348h1.1M199.5 308h1.1M181.5 279h1.1M201.5 322.5h1.1M194 314h1.1M191 345h1.1M205 299.5h1.1M188 308.5h1.1M202.5 301.5h1.1M187.5 318.5h1.1M198.5 311h1.1M184.5 283h1.1M208.5 334.5h1.1M197.5 342.5h1.1M190 350h1.1M199 301.5h1.1M184.5 324h1.1M200 323.5h1.1M183.5 283h1.1M193 336.5h1.1M182.5 302.5h1.1M203 321.5h1.1M189.5 296.5h1.1M201.5 312.5h1.1M199 305h1.1M186 297.5h1.1M184 328.5h1.1M179 284h1.1M194.5 351.5h1.1M205 326.5h1.1M180 284.5h1.1M188.5 311.5h1.1M203 347.5h1.1M204 336h1.1M202 307.5h1.1M197 347h1.1M192.5 342.5h1.1M202 312.5h1.1M210.5 308.5h1.1M187.5 298.5h1.1M205.5 325h1.1M186.5 306h1.1M206 315h1.1M201 341h1.1M207.5 333.5h1.1M182 287h1.1M200 323h1.1M202 317.5h1.1M210 309.5h1.1M191 293h1.1M207 313h1.1M182 293h1.1M190 340.5h1.1M203.5 302.5h1.1M204 326h1.1M196.5 328.5h1.1M190.5 315h1.1M206.5 327.5h1.1M183 285.5h1.1M186 348.5h1.1M190 343h1.1M189.5 332.5h1.1M194.5 348.5h1.1M194.5 324h1.1M201 323.5h1.1M191.5 327.5h1.1M189.5 295h1.1M211.5 313h1.1M192.5 349.5h1.1M205 341.5h1.1M190.5 310h1.1M193.5 350.5h1.1M195 306.5h1.1M194 306.5h1.1M201 321h1.1M185 320h1.1M193 334h1.1M198.5 314h1.1M183 304.5h1.1M197.5 295.5h1.1M208 317h1.1M193 300h1.1M197 325h1.1M192 303.5h1.1M203.5 318h1.1M185.5 346h1.1M207.5 338h1.1M198.5 314.5h1.1M186.5 288h1.1M192 339.5h1.1M196.5 351h1.1M205.5 317h1.1M197.5 307.5h1.1M201 303h1.1M203.5 307.5h1.1M201.5 314h1.1M199 346h1.1M209 312h1.1M190 330h1.1M194.5 296.5h1.1M187 294.5h1.1M186 318.5h1.1M208 324.5h1.1M200 334h1.1M190.5 308h1.1M203.5 346h1.1M188.5 289h1.1M198.5 316.5h1.1M195.5 314.5h1.1M198.5 335h1.1M206.5 311.5h1.1M194 311h1.1M185 324h1.1M189 301.5h1.1M192 319.5h1.1M189 316h1.1M190 298.5h1.1M193.5 311.5h1.1M197 319.5h1.1M203 310h1.1M191 307h1.1M187 317.5h1.1M192 285.5h1.1M200.5 304h1.1M211 313h1.1M190 329h1.1M207 313.5h1.1M191 329.5h1.1M194.5 298.5h1.1M194.5 304.5h1.1M196 308.5h1.1M186 290.5h1.1M191.5 314h1.1M185.5 298h1.1M198 320.5h1.1M190 351.5h1.1M179.5 293.5h1.1M203 332h1.1M189 343h1.1M182 292.5h1.1M197 316h1.1M205 299h1.1M209 324h1.1M201.5 319.5h1.1M188 299h1.1M185 334.5h1.1M202 343h1.1M198 343h1.1M196 314h1.1M191 319h1.1M209.5 321h1.1M195 308h1.1M198 297h1.1M209.5 312.5h1.1M191.5 334.5h1.1M205 333.5h1.1M192 335.5h1.1M193 339h1.1M193 339.5h1.1M203.5 340.5h1.1M206 339h1.1M206 344h1.1M196 343h1.1M193 335h1.1M197 330h1.1M200 335.5h1.1M207 341h1.1M196 331h1.1M194.5 331h1.1M190 334.5h1.1M201 331.5h1.1M191 333h1.1M204.5 327.5h1.1M192.5 341.5h1.1M205.5 335h1.1M189.5 335h1.1M192.5 331.5h1.1M195 331.5h1.1M197.5 338h1.1M196.5 325.5h1.1M194 348h1.1M205.5 344.5h1.1M200 348h1.1M197 335h1.1M193.5 336h1.1M204.5 330h1.1M207.5 337h1.1M201.5 341.5h1.1M197.5 332.5h1.1M191 346h1.1M199.5 329.5h1.1M202.5 326.5h1.1M194.5 338.5h1.1M203 333h1.1M196 335h1.1M207.5 333h1.1M194.5 329.5h1.1M203.5 346.5h1.1M191 330h1.1M197.5 329h1.1M194.5 330h1.1M199 330h1.1M196 339.5h1.1M202.5 338.5h1.1M204.5 338h1.1M191 345.5h1.1M207.5 340.5h1.1M205.5 343.5h1.1M195 342h1.1M193.5 332h1.1M201.5 337.5h1.1M194.5 327h1.1M198.5 329.5h1.1M192.5 336.5h1.1M190 343.5h1.1M203.5 332h1.1M201 328h1.1M193 346h1.1M194.5 330.5h1.1M201 337h1.1M203 328h1.1M198 334.5h1.1M193.5 326.5h1.1M191 343h1.1M195.5 328.5h1.1M199 328h1.1M203.5 343.5h1.1M198 331.5h1.1M189 340h1.1M194.5 343.5h1.1M195.5 327.5h1.1M197 342h1.1M189.5 343h1.1M195 327h1.1M201.5 334.5h1.1M205 338h1.1M190 344h1.1M194.5 332.5h1.1M204.5 340.5h1.1M191.5 334h1.1M196 335.5h1.1M192 346h1.1M197 342.5h1.1M202 348.5h1.1M202.5 331h1.1M195 344h1.1M205 328.5h1.1M207 333.5h1.1M196.5 333h1.1M202 335h1.1M206 339.5h1.1M197.5 349h1.1M196 338h1.1M197 344h1.1M199.5 325.5h1.1M201.5 335h1.1M199.5 344.5h1.1M196 342.5h1.1M198 336h1.1M194.5 336h1.1M196 343.5h1.1M188.5 340h1.1M197.5 328.5h1.1M201 346.5h1.1M189.5 336.5h1.1M193 348h1.1M197.5 325.5h1.1M188.5 334h1.1M188.5 339.5h1.1M189 341.5h1.1M195 345.5h1.1M191 333.5h1.1M203 327h1.1M201.5 347h1.1M191.5 335.5h1.1M205 345h1.1M206.5 336h1.1M195.5 335.5h1.1M195.5 343.5h1.1M203 341h1.1M193.5 343h1.1M201.5 339h1.1M205 334h1.1M193.5 344h1.1M202 347h1.1M205 333h1.1M206.5 334h1.1M191 335h1.1M196 329.5h1.1M204 341h1.1M201.5 327.5h1.1M200.5 343.5h1.1M199 347h1.1M195.5 325h1.1M195.5 337h1.1M201.5 330.5h1.1M189 338.5h1.1M204.5 339.5h1.1M205 332.5h1.1M195.5 347h1.1M191 337h1.1M192.5 328.5h1.1M205.5 329h1.1M180 333.5h1.1M174.5 295.5h1.1M173.5 300h1.1M178.5 326h1.1M174 305.5h1.1M175 289.5h1.1M174 292h1.1M181 324h1.1M175.5 303h1.1M175.5 317.5h1.1M174 289h1.1M176.5 323h1.1M179 295h1.1M182 323h1.1M182 336.5h1.1M176 296h1.1M178.5 314.5h1.1M181 318.5h1.1M177.5 294h1.1M181.5 322.5h1.1M177.5 345.5h1.1M177.5 329.5h1.1M179.5 299.5h1.1M184 345.5h1.1M179.5 328.5h1.1M179 324h1.1M175 286h1.1M179.5 337h1.1M175 293.5h1.1M177 293.5h1.1M175 314h1.1M178.5 294h1.1M180 318.5h1.1M183.5 343h1.1M178.5 300h1.1M175.5 288h1.1M180.5 324.5h1.1M175.5 297.5h1.1M183.5 328.5h1.1M178 290h1.1M173.5 296h1.1M176 303.5h1.1M175.5 303.5h1.1M175.5 293h1.1M176 326.5h1.1M176 297.5h1.1M175.5 300h1.1M182 344h1.1M182 331h1.1M182 313h1.1M174.5 294.5h1.1M180.5 345h1.1M180 343.5h1.1M176.5 333h1.1M178.5 322.5h1.1M181.5 324h1.1M179.5 344.5h1.1M182 328h1.1M174 306h1.1M176 300h1.1M182.5 346h1.1M177.5 314.5h1.1M181 322.5h1.1M173 290.5h1.1M181.5 343.5h1.1M181 337.5h1.1M176.5 327h1.1M175.5 310.5h1.1M179 343h1.1M182 339h1.1M180 344.5h1.1M178 306h1.1M177 335.5h1.1M180 345.5h1.1M177 318h1.1M180 328.5h1.1M176.5 307h1.1M173 296.5h1.1M177.5 318h1.1M182 336h1.1M177.5 312.5h1.1M174 298h1.1M174 300.5h1.1M178.5 299h1.1M175 290h1.1M177.5 311.5h1.1M178 311.5h1.1M180.5 319h1.1M175.5 300.5h1.1M178 309.5h1.1M173.5 291h1.1M172.5 286.5h1.1M179 295.5h1.1M179.5 314h1.1M175 302.5h1.1M180.5 314h1.1M175 305.5h1.1M178 302.5h1.1M176.5 290.5h1.1M177.5 316.5h1.1M183 338h1.1M181 341.5h1.1M180.5 317.5h1.1M177.5 333.5h1.1M177.5 342.5h1.1M178.5 310h1.1M183 337h1.1M177 306h1.1M176 325h1.1M180 322h1.1M178.5 325.5h1.1M180.5 329h1.1M183 344h1.1M179.5 334.5h1.1M174.5 295h1.1M183 335.5h1.1M172.5 285h1.1M181.5 337.5h1.1M182.5 341.5h1.1M177 324.5h1.1M180.5 305.5h1.1M182.5 316.5h1.1M178.5 297h1.1M175.5 312.5h1.1M175.5 309h1.1M172.5 289h1.1M163.5 342h1.1M160 339.5h1.1M162.5 341.5h1.1M164 343.5h1.1M166 346.5h1.1M158.5 338.5h1.1M158.5 337h1.1M161 339h1.1M159.5 338h1.1M165.5 345h1.1M162.5 342h1.1M165 344.5h1.1M158.5 337.5h1.1M160 339h1.1M167.5 346h1.1M161 340h1.1M164.5 343h1.1M172 349h1.1M178 351h1.1M177 351.5h1.1M177.5 351.5h1.1M175 349.5h1.1M170 348h1.1M171 348.5h1.1M178.5 352h1.1M175 350.5h1.1M170 349h1.1M172 348h1.1M170 347.5h1.1M168 347.5h1.1M173.5 349h1.1M183.5 353h1.1M182 353.5h1.1M182.5 353.5h1.1M185.5 353.5h1.1M180 353h1.1M187.5 354h1.1M179 352h1.1M178.5 352.5h1.1M187 353.5h1.1M185 353h1.1M185.5 353h1.1M186 352.5h1.1M168.5 325.5h1.1M177 308h1.1M171.5 324.5h1.1M168.5 319.5h1.1M171 316h1.1M174.5 322.5h1.1M167.5 321.5h1.1M168.5 329.5h1.1M166 320.5h1.1M172 313h1.1M171.5 312.5h1.1M168.5 315h1.1M174 318h1.1M161 333.5h1.1M172.5 309.5h1.1M171 319.5h1.1M161.5 335.5h1.1M162.5 331h1.1M169.5 319.5h1.1M163 322h1.1M161 327.5h1.1M163.5 323h1.1M176 307.5h1.1M168.5 320.5h1.1M173 318.5h1.1M171 324h1.1M170 327.5h1.1M175.5 322h1.1M167.5 320.5h1.1M174 319.5h1.1M167.5 328.5h1.1M176.5 320h1.1M173 323h1.1M162.5 333h1.1M175 311.5h1.1M175 311h1.1M166 330.5h1.1M175 318h1.1M167 327.5h1.1M163 324.5h1.1M173 312.5h1.1M170.5 322h1.1M169.5 326.5h1.1M171.5 310.5h1.1M176 318.5h1.1M168.5 325h1.1M165.5 324h1.1M173.5 312.5h1.1M161.5 326h1.1M174 308h1.1M168.5 330h1.1M174.5 315h1.1M171.5 322.5h1.1M169 324h1.1M168 317.5h1.1M174.5 309h1.1M169 321h1.1M166 324.5h1.1M166.5 317.5h1.1M176.5 317h1.1M169 319.5h1.1M170.5 327.5h1.1M166 322.5h1.1M169.5 315.5h1.1M160.5 334.5h1.1M175.5 315h1.1M178 316.5h1.1M173 312h1.1M177.5 313.5h1.1M168 323.5h1.1M160.5 334h1.1M174 313h1.1M168.5 314.5h1.1M170 313.5h1.1M169.5 313.5h1.1M174.5 319.5h1.1M169 326h1.1M167 329h1.1M173.5 320h1.1M171 313.5h1.1M174.5 317h1.1M170.5 328h1.1M164.5 330h1.1M165.5 321.5h1.1M163 322.5h1.1M169.5 314.5h1.1M178 320h1.1M165 334h1.1M168.5 322h1.1M165.5 332.5h1.1M161.5 336.5h1.1M166 319.5h1.1M171 315h1.1M176 308.5h1.1M163 323.5h1.1M160.5 329h1.1M174.5 312h1.1M176 311h1.1M176.5 314h1.1M174 311.5h1.1M176 319h1.1M161 331h1.1M168 321h1.1M163.5 321.5h1.1M163.5 325.5h1.1M166.5 320h1.1M161 332h1.1M161 331.5h1.1M177.5 317h1.1M165.5 329h1.1M163.5 329.5h1.1M160 330h1.1M172.5 323.5h1.1M164.5 318.5h1.1M169.5 320h1.1M177 317.5h1.1M178 305.5h1.1M162 333.5h1.1M170 324h1.1M166 301h1.1M165.5 300h1.1M165 299.5h1.1M169.5 303h1.1M165.5 299.5h1.1M167 300.5h1.1M164.5 299h1.1M172 305h1.1M171.5 304h1.1M176.5 309.5h1.1M177.5 310.5h1.1M171.5 305h1.1M173.5 306.5h1.1M170.5 302.5h1.1M173.5 307h1.1M146.5 303.5h1.1M155 310h1.1M149 313h1.1M148.5 307.5h1.1M154 313h1.1M148 305h1.1M151 309h1.1M151.5 307.5h1.1M154 304.5h1.1M150.5 310.5h1.1M149.5 307.5h1.1M148.5 308.5h1.1M151 306h1.1M147 309h1.1M155 306.5h1.1M148.5 312.5h1.1M154 308.5h1.1M148.5 309.5h1.1M149 310.5h1.1M154.5 312.5h1.1M148.5 310.5h1.1M152.5 313.5h1.1M150.5 302h1.1M151.5 305.5h1.1M146 306h1.1M154 310.5h1.1M150.5 312.5h1.1M150 310h1.1M151.5 309.5h1.1M148.5 303h1.1M146 320.5h1.1M144 320.5h1.1M144 318.5h1.1M146.5 321.5h1.1M152 328h1.1M151.5 327.5h1.1M152 329h1.1M149 324h1.1M229 271h1.1M230 271.5h1.1M226.5 271.5h1.1M232 271h1.1M227.5 270.5h1.1M230.5 270.5h1.1M227 270.5h1.1M231 271.5h1.1M229.5 270.5h1.1M228 270h1.1M236.5 275h1.1M236 274h1.1M235 272h1.1M234.5 273h1.1M235.5 273h1.1M234 271.5h1.1M236 279.5h1.1M234.5 280.5h1.1M237 276h1.1M236 280h1.1M235.5 279h1.1M235.5 277.5h1.1M236 275h1.1M237 284h1.1M234.5 282h1.1M236 281h1.1M235 284h1.1M237 284.5h1.1M237.5 285.5h1.1M237 285.5h1.1M238 291.5h1.1M237 286h1.1M238 288.5h1.1M237 285h1.1M237.5 286.5h1.1M237.5 291.5h1.1M237.5 288h1.1M261 265h1.1M260 265.5h1.1M261 266h1.1M260.5 264h1.1M257.5 262.5h1.1M261.5 261.5h1.1M259 264.5h1.1M262 265h1.1M259 262.5h1.1M261 263h1.1M260.5 263.5h1.1M260.5 261.5h1.1M260 264.5h1.1M258.5 264.5h1.1M259.5 265.5h1.1M258 262h1.1M260.5 262.5h1.1M260.5 264.5h1.1M261.5 262.5h1.1M259.5 262h1.1M257.5 263h1.1M261 293.5h1.1M259.5 289.5h1.1M263.5 296h1.1M262 295h1.1M260.5 291h1.1M263 295h1.1M262 292.5h1.1M229.5 319h1.1M221.5 317h1.1M223.5 318h1.1M224 318.5h1.1M225 324h1.1M228.5 321h1.1M224 322h1.1M232 324h1.1M220.5 322.5h1.1M228 324.5h1.1M228 323.5h1.1M225.5 321h1.1M227.5 322h1.1M232.5 322h1.1M231 322.5h1.1M237.5 321h1.1M222 321h1.1M223.5 320.5h1.1M234 323h1.1M238 321.5h1.1M228.5 320h1.1M224 322.5h1.1M233.5 322h1.1M224.5 322h1.1M221.5 316.5h1.1M222.5 316.5h1.1M226 318h1.1M220 316.5h1.1M221 316.5h1.1M233 322.5h1.1M226 318.5h1.1M231 319.5h1.1M232 319h1.1M235 321h1.1M223 319h1.1M218 319h1.1M226 321h1.1M219 321.5h1.1M220 317.5h1.1M236 321.5h1.1M228.5 319.5h1.1M228.5 318h1.1M221 320.5h1.1M236.5 321h1.1M221.5 320.5h1.1M224 323.5h1.1M231 319h1.1M224 319.5h1.1M226 323h1.1M232.5 321.5h1.1M230 321h1.1M236.5 322.5h1.1M220 319.5h1.1M231.5 321h1.1M227.5 320h1.1M220.5 320h1.1M96.5 310h1.1M99 306.5h1.1M103 310.5h1.1M88 306h1.1M86.5 309.5h1.1M90.5 306.5h1.1M90 301.5h1.1M95.5 311h1.1M89.5 301h1.1M96 309.5h1.1M94.5 313h1.1M95.5 315h1.1M94.5 307.5h1.1M86.5 304h1.1M90 303h1.1M88 301.5h1.1M84 308h1.1M91.5 312.5h1.1M97 314.5h1.1M83.5 301h1.1M89 308.5h1.1M90 306h1.1M96.5 315h1.1M83 306h1.1M98 312.5h1.1M96 303.5h1.1M82 302.5h1.1M94.5 314h1.1M95.5 309h1.1M90.5 311.5h1.1M104.5 307h1.1M96.5 308h1.1M87.5 314.5h1.1M103 308.5h1.1M90.5 302h1.1M90 311.5h1.1M97.5 309.5h1.1M104 305h1.1M88 309.5h1.1M87 310.5h1.1M100 312.5h1.1M86 305h1.1M85 313h1.1M98 308.5h1.1M94.5 311.5h1.1M92 301.5h1.1M93 308.5h1.1M86.5 302.5h1.1M82.5 310h1.1M100.5 303h1.1M86 306h1.1M88 311.5h1.1M87 303h1.1M91 313.5h1.1M98 300.5h1.1M97 310h1.1M85.5 303.5h1.1M98.5 313h1.1M97 304h1.1M94.5 309.5h1.1M93 300.5h1.1M93 306h1.1M97.5 307h1.1M87 302h1.1M99 308.5h1.1M99.5 302h1.1M92 300.5h1.1M85.5 304.5h1.1M88 315h1.1M84 307.5h1.1M89 305h1.1M83.5 309.5h1.1M83 310h1.1M94 303.5h1.1M96.5 311h1.1M103 304.5h1.1M84.5 306h1.1M84 311.5h1.1M100.5 306.5h1.1M96.5 313.5h1.1M95 312h1.1M101.5 301h1.1M86 309h1.1M89.5 303.5h1.1M86.5 305h1.1M95.5 299h1.1M85.5 307.5h1.1M90 310.5h1.1M96.5 309h1.1M86 301h1.1M92 310.5h1.1M92.5 307.5h1.1M87 305.5h1.1M90 306.5h1.1M101 307h1.1M84 302.5h1.1M88.5 304.5h1.1M91.5 305h1.1M99 310.5h1.1M95.5 314.5h1.1M95.5 302h1.1M93.5 303h1.1M84 310h1.1M96.5 312h1.1M85 308.5h1.1M84 306h1.1M90 304.5h1.1M91 307.5h1.1M83 311h1.1M82 307h1.1M92 306.5h1.1M99 300h1.1M90 307h1.1M85.5 306.5h1.1M95.5 306h1.1M84.5 308h1.1M86.5 308.5h1.1M89 311h1.1M89.5 312h1.1M99 306h1.1M92.5 300h1.1M88.5 303h1.1M100 312h1.1M91.5 309.5h1.1M93.5 314h1.1M93 314.5h1.1M90.5 303h1.1M85 306h1.1M88.5 300.5h1.1M89 315h1.1M100 306h1.1M87 307h1.1M89.5 309.5h1.1M99.5 303.5h1.1M95 314h1.1M93 312.5h1.1M95 300.5h1.1M90.5 300.5h1.1M97 312h1.1M113.5 304h1.1M110.5 303.5h1.1M114 306h1.1M107.5 305h1.1M106 303h1.1M117 305h1.1M113.5 306.5h1.1M115 305.5h1.1M110.5 304.5h1.1M107 305h1.1M111.5 305.5h1.1M111.5 304.5h1.1M108.5 303.5h1.1M114.5 305.5h1.1M122 307h1.1M121.5 305.5h1.1M120 305.5h1.1M120.5 306h1.1M122 306h1.1M126.5 305.5h1.1M124 306h1.1M127.5 306h1.1M127.5 305.5h1.1M126 305h1.1M130.5 307h1.1M128.5 306.5h1.1M131.5 305.5h1.1M136 308h1.1M130 305.5h1.1M133 305.5h1.1M136 306.5h1.1M131 305h1.1M132 306.5h1.1M92.5 318.5h1.1M89.5 321.5h1.1M86.5 324h1.1M90.5 321h1.1M89 322.5h1.1M82.5 328h1.1M85 326.5h1.1M80.5 328h1.1M78.5 330.5h1.1M84.5 326.5h1.1M78.5 332h1.1M80 334.5h1.1M79 333h1.1M78.5 333h1.1M77.5 331h1.1M80.5 335h1.1M88 347.5h1.1M90.5 352h1.1M87.5 348.5h1.1M88.5 349.5h1.1M85 343h1.1M85.5 344.5h1.1M96 320.5h1.1M96 319.5h1.1M98 320.5h1.1M101 323h1.1M102 323.5h1.1M102 324h1.1M107 328h1.1M111.5 331h1.1M108 329h1.1M105.5 327h1.1M106 327.5h1.1M108.5 335.5h1.1M105 341h1.1M111.5 332h1.1M107.5 337.5h1.1M104.5 341h1.1M108 337.5h1.1M99.5 350h1.1M102.5 343.5h1.1M102.5 345.5h1.1M100 350h1.1M99.5 351h1.1M100.5 348h1.1M88.5 355h1.1M92 353.5h1.1M88 352.5h1.1M92.5 352.5h1.1M90 352.5h1.1M94.5 357h1.1M98 352h1.1M96 356.5h1.1M96.5 354.5h1.1M93.5 355h1.1M91 355h1.1M93 356.5h1.1M92.5 361h1.1M88.5 352.5h1.1M93 360.5h1.1M89 355.5h1.1M98.5 355h1.1M98.5 352h1.1M91.5 356h1.1M99.5 359h1.1M96 358h1.1M89.5 352h1.1M93 361h1.1M91.5 359h1.1M91.5 358h1.1M95.5 356.5h1.1M90 350.5h1.1M99.5 355.5h1.1M93.5 351.5h1.1M100.5 357.5h1.1M99.5 354h1.1M94 355.5h1.1M95.5 353.5h1.1M99 358.5h1.1M96.5 356h1.1M90.5 356.5h1.1M96.5 352h1.1M93.5 350h1.1M97 354.5h1.1M90 358h1.1M98.5 351.5h1.1M98.5 356.5h1.1M92.5 349.5h1.1M97.5 356.5h1.1M101.5 354h1.1M93 349h1.1M90 355.5h1.1M97.5 358h1.1M93.5 357.5h1.1M92.5 356h1.1M97 356h1.1M87.5 352h1.1M92 360h1.1M96 352.5h1.1M95 352.5h1.1M101 357.5h1.1M100 354h1.1M98 360h1.1M95.5 357h1.1M87.5 352.5h1.1M94 351h1.1M96 351h1.1M93 360h1.1M88 353.5h1.1M92 361.5h1.1M92.5 358.5h1.1M90.5 358h1.1M95 350.5h1.1M100 359h1.1M91 351.5h1.1M100 352.5h1.1M93 351.5h1.1M94 358.5h1.1M92 352h1.1M94.5 351.5h1.1M97.5 359h1.1M99.5 361h1.1M95.5 355.5h1.1M95 356.5h1.1M99.5 352.5h1.1M89 354.5h1.1M87.5 353h1.1M94.5 359.5h1.1M100 353h1.1M89.5 357.5h1.1M97.5 354h1.1M99 357h1.1M99 360h1.1M90.5 359.5h1.1M91 359.5h1.1M99 359.5h1.1M109 330h1.1M112 332.5h1.1M110 332.5h1.1M115 334h1.1M109 331.5h1.1M112.5 332h1.1M115 334.5h1.1M108 331h1.1M114 333.5h1.1M111.5 333.5h1.1M138 377.5h1.1M145.5 379.5h1.1M141.5 380h1.1M144 381.5h1.1M134.5 371h1.1M140 366.5h1.1M140.5 382h1.1M136.5 376.5h1.1M145 373h1.1M138.5 377.5h1.1M135.5 380h1.1M144 372h1.1M133.5 374h1.1M136 376h1.1M145.5 371h1.1M137 380h1.1M145.5 377.5h1.1M134.5 379h1.1M141.5 380.5h1.1M142.5 381.5h1.1M146 368h1.1M147.5 371.5h1.1M144 368.5h1.1M140 367h1.1M142 367h1.1M138.5 365h1.1M147.5 376h1.1M137 368.5h1.1M144.5 373.5h1.1M137.5 373h1.1M145.5 368.5h1.1M133.5 373.5h1.1M138.5 369.5h1.1M136.5 373.5h1.1M137 373h1.1M147 374h1.1M135.5 373.5h1.1M136.5 366h1.1M147 370h1.1M133 372.5h1.1M144 371.5h1.1M142.5 381h1.1M141 366h1.1M142.5 369h1.1M145 381h1.1M139 377.5h1.1M144 376h1.1M133.5 369h1.1M144 370h1.1M144.5 375.5h1.1M135.5 379h1.1M146.5 379h1.1M132.5 373h1.1M136 374.5h1.1M146 378.5h1.1M139.5 372h1.1M143.5 381h1.1M137 365h1.1M141.5 374.5h1.1M147.5 379.5h1.1M139 379h1.1M146 374h1.1M141.5 367.5h1.1M143.5 375.5h1.1M143.5 373h1.1M137 372h1.1M134 369.5h1.1M139 381.5h1.1M143.5 366.5h1.1M138 379.5h1.1M143.5 369h1.1M131.5 370h1.1M137 377h1.1M141.5 371.5h1.1M137 379h1.1M146.5 375h1.1M143 380h1.1M133.5 373h1.1M146.5 367h1.1M138.5 376h1.1M140.5 365.5h1.1M138 371h1.1M141.5 381h1.1M133 374.5h1.1M139 371.5h1.1M134.5 373h1.1M133.5 377h1.1M135.5 368.5h1.1M134.5 378h1.1M145.5 380.5h1.1M140 376.5h1.1M137.5 374.5h1.1M138.5 373.5h1.1M133 374h1.1M132.5 371h1.1M140 366h1.1M142 375.5h1.1M144 371h1.1M142 370.5h1.1M134.5 377h1.1M144.5 369h1.1M140 376h1.1M144 370.5h1.1M145 377.5h1.1M135.5 369h1.1M139 380.5h1.1M146 374.5h1.1M140 373.5h1.1M143 374h1.1M141 380.5h1.1M141.5 369.5h1.1M144 376.5h1.1M137 372.5h1.1M140.5 366h1.1M136 376.5h1.1M134.5 374h1.1M138.5 380h1.1M135 376.5h1.1M139.5 368.5h1.1M138 369.5h1.1M144 369.5h1.1M145 375.5h1.1M136 375h1.1M147 377.5h1.1M135.5 371.5h1.1M135 372.5h1.1M140 368.5h1.1M141.5 379h1.1M136.5 367h1.1M143 373.5h1.1M142 381.5h1.1M138.5 375.5h1.1M138.5 380.5h1.1M136.5 355.5h1.1M137 361.5h1.1M137 357h1.1M137 363.5h1.1M137 357.5h1.1M136.5 357h1.1M136.5 354h1.1M144 356.5h1.1M143.5 353h1.1M145.5 362h1.1M144 357.5h1.1M143.5 352.5h1.1M145.5 363.5h1.1M143.5 356h1.1M133 339h1.1M136.5 348h1.1M134.5 342.5h1.1M136.5 348.5h1.1M136 346h1.1M135 345h1.1M136 351h1.1M136 349h1.1M134 341h1.1M134 341.5h1.1M136.5 351.5h1.1M132.5 336.5h1.1M134 343.5h1.1M134 339.5h1.1M166.5 302h1.1M164.5 300h1.1M162.5 296.5h1.1M164 299.5h1.1M167.5 302h1.1M162.5 299h1.1M169.5 303.5h1.1M168.5 303.5h1.1M159.5 296h1.1M164.5 301h1.1M164.5 298.5h1.1M173 308.5h1.1M172 307.5h1.1M172 307h1.1M170 305.5h1.1M172 306.5h1.1M179 313h1.1M170 306.5h1.1M177 312h1.1M174.5 309.5h1.1M138.5 282h1.1M136 278h1.1M138.5 280h1.1M135.5 278h1.1M140.5 284.5h1.1M137 279h1.1M145 287.5h1.1M141.5 285h1.1M143 287h1.1M141.5 285.5h1.1M144.5 287h1.1M142 284.5h1.1M143.5 287h1.1M152 299h1.1M146.5 292h1.1M147 292h1.1M148.5 295h1.1M149.5 296.5h1.1M152 301h1.1M152.5 301h1.1M149.5 310h1.1M149.5 311.5h1.1M151 307.5h1.1M124.5 282.5h1.1M128.5 282h1.1M129 282h1.1M121 283h1.1M187 239h1.1M137 208h1.1M202 236.5h1.1M189 222.5h1.1M190.5 224.5h1.1M190 243.5h1.1M153.5 252.5h1.1M135 215h1.1M172 233.5h1.1M176 252h1.1M160 267.5h1.1M158.5 237h1.1M140.5 225.5h1.1M146.5 238.5h1.1M140.5 207h1.1M201 234h1.1M132 218.5h1.1M160.5 246h1.1M169.5 255h1.1M216 234.5h1.1M174 229.5h1.1M141.5 226h1.1M211 239h1.1M188 248.5h1.1M165 241h1.1M143 244h1.1M183 237h1.1M117 208.5h1.1M197 237.5h1.1M149.5 217h1.1M150 223.5h1.1M154 254h1.1M161 243.5h1.1M180.5 254h1.1M159 229.5h1.1M168.5 246h1.1M166.5 259.5h1.1M189 249h1.1M149.5 225.5h1.1M149.5 223.5h1.1M164.5 249.5h1.1M146 250h1.1M182.5 231h1.1M212 233h1.1M153 262.5h1.1M185.5 226.5h1.1M167 231.5h1.1M198 225.5h1.1M160 261h1.1M171.5 253.5h1.1M184.5 220h1.1M151.5 209.5h1.1M135.5 204.5h1.1M117.5 205.5h1.1M174.5 230.5h1.1M185 219.5h1.1M181.5 223h1.1M158.5 221h1.1M149 225h1.1M195 230.5h1.1M206 234.5h1.1M149.5 246h1.1M209.5 238h1.1M145 225h1.1M174 251.5h1.1M183 236h1.1M146 207h1.1M204 236.5h1.1M163.5 246.5h1.1M216 228.5h1.1M171 220.5h1.1M192.5 231h1.1M135 207h1.1M168 228.5h1.1M137 222h1.1M215 239.5h1.1M158 258h1.1M195.5 225h1.1M140 240h1.1M138.5 231h1.1M133 211.5h1.1M176.5 243.5h1.1M157 243.5h1.1M206 240h1.1M139 207h1.1M161 227h1.1M137.5 225.5h1.1M170 249h1.1M140.5 208h1.1M192 228.5h1.1M147 243h1.1M184 248h1.1M183.5 252h1.1M142.5 228h1.1M211 225.5h1.1M208.5 221.5h1.1M180.5 241.5h1.1M204.5 224.5h1.1M144.5 214.5h1.1M153 238h1.1M199 235.5h1.1M157.5 228h1.1M156.5 225.5h1.1M173.5 256.5h1.1M143.5 215.5h1.1M179.5 225h1.1M148.5 253h1.1M205 227h1.1M170 236h1.1M170.5 254h1.1M193.5 230.5h1.1M167 237.5h1.1M162.5 215.5h1.1M177 221.5h1.1M144.5 227h1.1M182.5 247.5h1.1M141.5 215h1.1M160.5 234.5h1.1M141.5 243h1.1M149.5 245h1.1M148.5 256.5h1.1M200.5 237h1.1M135 207.5h1.1M167 234.5h1.1M201.5 233.5h1.1M172 231.5h1.1M139 247h1.1M152.5 243.5h1.1M140.5 215.5h1.1M214.5 233h1.1M139.5 226h1.1M208.5 239.5h1.1M175.5 250h1.1M151 243.5h1.1M179.5 257h1.1M138 216.5h1.1M184 234h1.1M132.5 205.5h1.1M151.5 228.5h1.1M145.5 216h1.1M161.5 266h1.1M134.5 213.5h1.1M153 210h1.1M209 237h1.1M155.5 248h1.1M163 266h1.1M146.5 233.5h1.1M155.5 266.5h1.1M120.5 209.5h1.1M132 214h1.1M161.5 261h1.1M196 232h1.1M150.5 221.5h1.1M186 230h1.1M137.5 243.5h1.1M201.5 235h1.1M150 228.5h1.1M121 207.5h1.1M157.5 212.5h1.1M173 223h1.1M187.5 242.5h1.1M155 240h1.1M177 238h1.1M137.5 216.5h1.1M157 264h1.1M186.5 230.5h1.1M151.5 218h1.1M137 242h1.1M208 229.5h1.1M208.5 236h1.1M146.5 243h1.1M212 233.5h1.1M142 215.5h1.1M160 220h1.1M157.5 276h1.1M169 247h1.1M173 258.5h1.1M146 236.5h1.1M195.5 244.5h1.1M204 243.5h1.1M146 231h1.1M188.5 224h1.1M217.5 233.5h1.1M167.5 260.5h1.1M153 229.5h1.1M159 230h1.1M121.5 210.5h1.1M147 244h1.1M208 240.5h1.1M203.5 233h1.1M154 219h1.1M153.5 239h1.1M156.5 223.5h1.1M190 250h1.1M146 219.5h1.1M154 218h1.1M164 222.5h1.1M120 209.5h1.1M131 218h1.1M199 227.5h1.1M207 232h1.1M193 244.5h1.1M149 214.5h1.1M157.5 275h1.1M167 251h1.1M177 244.5h1.1M182 239.5h1.1M157.5 274h1.1M154 249h1.1M213 224h1.1M208 245h1.1M145 233.5h1.1M196.5 223h1.1M215.5 228h1.1M153.5 221.5h1.1M139.5 229.5h1.1M157.5 266h1.1M202 240.5h1.1M154 247h1.1M174.5 233h1.1M207 224h1.1M148 235h1.1M165 235h1.1M161 225h1.1M162.5 270h1.1M155 256.5h1.1M182 229.5h1.1M123.5 211.5h1.1M157 247.5h1.1M127.5 204h1.1M177.5 223.5h1.1M170.5 227.5h1.1M204 237h1.1M165 248.5h1.1M150 228h1.1M152 258.5h1.1M161.5 229.5h1.1M202.5 226h1.1M172.5 224.5h1.1M188 239h1.1M130 210h1.1M186 233.5h1.1M198.5 238h1.1M163.5 237.5h1.1M156 260h1.1M188.5 251.5h1.1M200 236h1.1M146.5 206.5h1.1M157.5 258h1.1M217 229h1.1M135 221.5h1.1M144 240.5h1.1M186.5 252.5h1.1M200 233h1.1M175.5 241.5h1.1M119.5 206h1.1M206.5 241h1.1M154.5 214h1.1M163.5 251.5h1.1M153 207h1.1M132.5 206h1.1M128 204h1.1M170 241h1.1M207.5 236.5h1.1M184 245h1.1M163.5 225h1.1M138.5 241.5h1.1M152.5 256.5h1.1M155.5 214h1.1M155.5 261h1.1M153 212.5h1.1M174.5 236h1.1M141.5 222h1.1M192 231h1.1M156 271h1.1M149.5 247h1.1M164.5 239.5h1.1M151 223.5h1.1M137.5 217h1.1M176.5 229h1.1M149.5 216.5h1.1M200 222.5h1.1M145.5 211h1.1M173 222.5h1.1M185 231.5h1.1M176.5 242h1.1M171.5 254h1.1M156.5 213.5h1.1M158 216h1.1M187.5 254.5h1.1M196 242h1.1M144.5 233h1.1M160.5 256.5h1.1M153.5 264.5h1.1M159.5 226.5h1.1M143.5 238.5h1.1M172.5 223.5h1.1M156 231h1.1M159.5 259h1.1M197.5 222.5h1.1M150 233h1.1M210.5 238.5h1.1M152 231.5h1.1M178.5 245.5h1.1M167.5 238.5h1.1M153.5 268h1.1M159 213h1.1M155 208h1.1M146 221.5h1.1M213 237h1.1M147.5 262.5h1.1M155.5 268.5h1.1M167.5 236h1.1M145 228h1.1M144.5 249.5h1.1M135 203.5h1.1M139 210.5h1.1M151 234.5h1.1M188 232h1.1M184.5 247.5h1.1M151 262h1.1M201.5 223.5h1.1M158 239h1.1M155 243h1.1M197.5 233h1.1M161.5 225.5h1.1M125 211h1.1M139.5 231.5h1.1M164 249h1.1M159 218h1.1M129 214h1.1M154.5 238.5h1.1M211.5 234.5h1.1M175.5 233.5h1.1M139 229.5h1.1M143.5 263h1.1M194 233.5h1.1M168.5 220h1.1M203 236h1.1M165.5 252h1.1M137 224h1.1M155.5 260h1.1M156.5 209.5h1.1M139.5 207.5h1.1M164.5 240.5h1.1M141.5 217h1.1M157.5 234.5h1.1M151 244h1.1M170 239.5h1.1M141 230.5h1.1M148 246.5h1.1M216.5 235.5h1.1M151 206.5h1.1M172 250h1.1M154.5 264.5h1.1M216 229h1.1M202 241h1.1M138.5 212h1.1M164.5 253.5h1.1M154 252.5h1.1M152.5 250.5h1.1M182 226.5h1.1M169.5 226h1.1M142 222h1.1M168 249h1.1M158.5 274h1.1M172.5 243.5h1.1M159 252.5h1.1M208 237h1.1M161 241.5h1.1M194.5 228.5h1.1M169 221h1.1M140 212.5h1.1M175 243h1.1M182 234h1.1M156.5 273.5h1.1M175.5 244h1.1M164 260.5h1.1M179.5 259.5h1.1M151 223h1.1M154 226h1.1M150 267.5h1.1M172 224.5h1.1M182.5 258.5h1.1M151.5 254.5h1.1M145.5 234.5h1.1M170.5 240h1.1M182.5 243h1.1M198.5 243h1.1M157 226h1.1M188 224h1.1M158.5 214h1.1M161.5 268h1.1M172 258h1.1M146.5 232.5h1.1M154.5 272h1.1M202 245.5h1.1M135.5 212.5h1.1M183.5 246.5h1.1M173 242h1.1M163.5 261.5h1.1M192.5 232h1.1M166 242.5h1.1M161.5 241.5h1.1M172.5 230h1.1M135 209.5h1.1M164 255.5h1.1M175 253.5h1.1M143 221.5h1.1M207.5 226h1.1M176 251.5h1.1M118.5 208.5h1.1M159 259h1.1M167.5 235h1.1M123.5 210.5h1.1M179.5 230.5h1.1M175.5 221h1.1M149.5 215h1.1M208 225h1.1M214 232h1.1M190.5 251h1.1M162 262h1.1M150.5 243h1.1M206 236.5h1.1M159.5 274h1.1M142 207.5h1.1M203.5 242h1.1M175 229.5h1.1M180.5 221.5h1.1M198.5 233.5h1.1M180 225h1.1M156.5 217h1.1M162.5 235h1.1M161.5 248h1.1M147.5 238h1.1M176.5 236.5h1.1M171 235.5h1.1M171 254.5h1.1M183.5 219h1.1M176 237h1.1M146.5 224h1.1M179.5 254h1.1M187.5 248.5h1.1M137 225.5h1.1M180 219.5h1.1M156.5 250h1.1M202.5 224.5h1.1M140 244.5h1.1M185 243h1.1M155 268.5h1.1M152.5 234h1.1M190 222h1.1M193 248h1.1M152 268.5h1.1M127.5 205h1.1M153 262h1.1M200.5 242.5h1.1M193 240h1.1M146 210.5h1.1M156.5 235.5h1.1M183.5 241.5h1.1M140.5 208.5h1.1M169 246.5h1.1M205 226h1.1M184 219h1.1M182.5 224.5h1.1M175.5 253.5h1.1M132 204h1.1M211 225h1.1M157 259.5h1.1M171 251.5h1.1M206.5 226.5h1.1M131.5 204h1.1M195.5 230h1.1M188 238.5h1.1M177 224h1.1M130.5 216.5h1.1M163.5 219.5h1.1M156 268.5h1.1M165.5 253.5h1.1M170.5 237.5h1.1M164.5 267h1.1M155.5 228.5h1.1M211 229.5h1.1M171 228.5h1.1M194 241.5h1.1M170 256.5h1.1M121 210.5h1.1M145.5 250h1.1M160 253h1.1M180 244.5h1.1M148 226h1.1M155 210h1.1M156.5 226h1.1M152 229h1.1M211.5 232.5h1.1M147 225.5h1.1M139 238h1.1M157.5 235.5h1.1M181 223h1.1M182.5 257h1.1M153.5 260h1.1M182.5 223.5h1.1M192.5 239.5h1.1M186 237h1.1M149.5 264.5h1.1M160 214.5h1.1M173.5 251.5h1.1M156.5 216.5h1.1M156.5 251h1.1M189 223h1.1M209 240.5h1.1M186.5 241.5h1.1M155.5 219.5h1.1M144.5 219h1.1M206.5 225h1.1M192 247h1.1M186.5 230h1.1M166 222h1.1M136 222.5h1.1M141 232h1.1M152 242.5h1.1M211 236.5h1.1M153 233.5h1.1M167 239h1.1M169 224.5h1.1M170.5 258h1.1M194 233h1.1M149.5 260.5h1.1M204.5 233.5h1.1M183.5 254.5h1.1M177 232.5h1.1M177.5 247.5h1.1M153 253.5h1.1M157 230.5h1.1M167.5 240.5h1.1M157 250h1.1M207.5 223h1.1M122 211h1.1M163.5 247h1.1M212 227.5h1.1M148 265h1.1M159.5 244.5h1.1M163 230h1.1M153 213.5h1.1M150.5 259.5h1.1M207.5 243h1.1M147.5 220.5h1.1M182.5 244h1.1M175.5 241h1.1M173 257.5h1.1M149.5 231.5h1.1M169.5 237h1.1M183.5 232.5h1.1M168 239.5h1.1M155.5 262h1.1M170.5 255h1.1M213.5 242h1.1M179.5 248.5h1.1M187.5 218.5h1.1M202 233.5h1.1M156.5 268h1.1M163 233h1.1M154.5 223.5h1.1M140.5 249.5h1.1M128 209h1.1M149 256h1.1M147.5 209h1.1M147 223.5h1.1M187 249h1.1M145.5 221h1.1M133.5 212h1.1M204 233h1.1M201 228h1.1M189 224h1.1M115 206h1.1M197 238.5h1.1M155 271.5h1.1M156.5 228.5h1.1M190.5 247h1.1M148.5 232h1.1M156 275h1.1M160.5 224h1.1M187.5 241h1.1M192.5 245.5h1.1M169 222.5h1.1M155 210.5h1.1M162.5 250h1.1M153.5 235h1.1M141.5 248h1.1M150.5 208h1.1M205 247.5h1.1M145 261h1.1M157.5 241h1.1M187.5 241.5h1.1M206.5 236h1.1M179 230.5h1.1M162.5 216h1.1M147 224h1.1M146.5 257h1.1M136 210.5h1.1M160.5 254.5h1.1M184.5 251.5h1.1M158 273.5h1.1M169 257h1.1M168 232h1.1M144.5 240h1.1M167.5 232.5h1.1M151.5 264h1.1M141.5 234.5h1.1M159.5 249h1.1M157.5 274.5h1.1M177 221h1.1M206 221h1.1M147 235h1.1M177.5 225h1.1M168.5 254.5h1.1M157.5 261.5h1.1M180.5 220.5h1.1M158 243.5h1.1M153 233h1.1M140.5 212.5h1.1M140.5 233h1.1M149.5 240h1.1M178.5 228.5h1.1M181 238h1.1M169.5 248h1.1M135.5 214.5h1.1M186.5 246.5h1.1M155.5 256.5h1.1M185 239.5h1.1M174.5 244.5h1.1M160 249.5h1.1M139 247.5h1.1M152.5 256h1.1M175.5 257.5h1.1M173 253h1.1M176.5 253.5h1.1M191.5 249h1.1M122 210h1.1M204.5 245.5h1.1M212.5 229h1.1M157 225h1.1M183.5 217.5h1.1M138.5 230.5h1.1M185.5 230h1.1M173.5 228.5h1.1M148 257.5h1.1M145 238h1.1M161 245h1.1M146.5 255.5h1.1M160.5 228.5h1.1M168 224.5h1.1M141 227h1.1M138.5 220h1.1M188.5 220.5h1.1M198 236h1.1M173 252h1.1M195 231.5h1.1M189 228h1.1M189 250.5h1.1M174.5 255h1.1M166.5 243h1.1M153 245h1.1M142.5 209h1.1M174 230.5h1.1M151 240.5h1.1M147.5 213.5h1.1M130.5 209h1.1M155.5 218.5h1.1M169 258h1.1M146.5 221.5h1.1M159.5 224h1.1M172 235.5h1.1M207 222.5h1.1M185 246.5h1.1M200 243.5h1.1M185.5 220.5h1.1M134 210h1.1M153 261h1.1M144 225.5h1.1M148 264.5h1.1M180.5 259.5h1.1M163 230.5h1.1M179.5 246.5h1.1M175.5 254.5h1.1M156 213h1.1M198 226h1.1M149 205.5h1.1M199.5 238.5h1.1M132.5 217.5h1.1M184.5 242h1.1M194 234h1.1M169 239.5h1.1M182 232.5h1.1M212 238.5h1.1M150 230h1.1M165 237h1.1M129.5 209h1.1M168.5 227.5h1.1M157 229h1.1M156.5 272h1.1M211.5 239.5h1.1M152.5 245.5h1.1M158 265.5h1.1M215 227.5h1.1M147 256.5h1.1M136 244.5h1.1M174 219.5h1.1M159.5 253.5h1.1M128.5 204h1.1M166.5 224h1.1M148 221.5h1.1M188 252.5h1.1M138.5 224.5h1.1M180.5 222.5h1.1M191 246h1.1M159 213.5h1.1M153.5 228h1.1M140 237h1.1M146.5 253h1.1M156.5 237h1.1M146 244.5h1.1M190 237h1.1M194 232.5h1.1M163 241.5h1.1M134.5 209.5h1.1M148 214h1.1M155.5 219h1.1M161.5 251h1.1M160 244.5h1.1M152.5 255h1.1M156 223h1.1M158.5 240.5h1.1M151.5 244h1.1M194.5 239h1.1M139.5 211.5h1.1M156.5 220h1.1M203.5 234.5h1.1M189.5 229h1.1M184 236h1.1M121 211h1.1M158.5 217.5h1.1M160 254h1.1M155 227h1.1M145 230h1.1M123.5 209h1.1M148 227.5h1.1M142.5 218.5h1.1M141.5 231.5h1.1M162 223.5h1.1M144 240h1.1M174 249h1.1M136.5 226h1.1M143 256.5h1.1M171.5 234h1.1M156 214h1.1M148.5 218h1.1M161.5 244h1.1M154 228h1.1M188 225h1.1M151.5 234h1.1M150 223h1.1M156 227.5h1.1M156 232h1.1M152.5 228.5h1.1M149 219h1.1M148.5 225.5h1.1M148 232h1.1M148 222.5h1.1M154 222h1.1M155 229.5h1.1M154 234.5h1.1M150 236h1.1M151.5 229h1.1M148 224.5h1.1M155.5 233.5h1.1M155 221h1.1M153.5 220.5h1.1M144 233.5h1.1M151 236h1.1M156.5 222h1.1M144 234h1.1M145 226h1.1M153 234h1.1M150.5 228h1.1M156 233h1.1M150 226h1.1M155 234.5h1.1M145.5 220.5h1.1M149.5 231h1.1M148.5 220h1.1M146 231.5h1.1M145 233h1.1M151.5 227h1.1M143.5 221.5h1.1M150 230.5h1.1M153.5 234.5h1.1M150.5 227h1.1M152 234.5h1.1M148.5 234.5h1.1M153 219h1.1M152.5 235.5h1.1M150.5 234.5h1.1M150.5 230.5h1.1M148.5 228.5h1.1M144 222.5h1.1M145.5 233h1.1M156 229.5h1.1M147 231h1.1M143 233h1.1M149.5 228h1.1M151.5 235h1.1M143.5 223h1.1M148.5 236h1.1M144 221.5h1.1M150 224h1.1M149.5 235h1.1M143 222h1.1M147 225h1.1M158 229h1.1M152 233h1.1M151.5 219h1.1M145 222h1.1M154 230h1.1M156.5 231h1.1M144 221h1.1M144.5 227.5h1.1M143 222.5h1.1M150.5 221h1.1M142.5 230.5h1.1M155.5 226.5h1.1M152 219.5h1.1M149.5 222.5h1.1M148 221h1.1M157 224h1.1M144.5 231h1.1M153 227h1.1M154 229h1.1M150 225h1.1M155.5 233h1.1M144.5 228.5h1.1M155 226.5h1.1M150 235.5h1.1M151.5 221.5h1.1M147 223h1.1M151.5 225.5h1.1M143.5 223.5h1.1M154 227.5h1.1M149.5 226.5h1.1M158 227h1.1M153 225h1.1M152.5 231h1.1M148 225.5h1.1M152 236h1.1M157.5 227h1.1M156.5 222.5h1.1M151 234h1.1M148.5 231h1.1M155.5 226h1.1M153.5 219.5h1.1M149.5 229.5h1.1M146 222h1.1M141 226.5h1.1M153.5 230h1.1M154.5 232.5h1.1M158.5 227h1.1M159 229h1.1M150 221h1.1M150 234h1.1M158 217h1.1M160.5 218.5h1.1M161 221h1.1M162 223h1.1M162 221.5h1.1M159 217.5h1.1M163 221h1.1M162.5 223h1.1M160 219h1.1M161 218h1.1M160.5 219.5h1.1M160.5 217.5h1.1M166 227h1.1M162 224h1.1M165.5 228.5h1.1M168.5 231h1.1M165.5 225h1.1M165 224.5h1.1M165.5 226.5h1.1M167.5 231h1.1M166.5 228h1.1M167 231h1.1M167 229h1.1M164.5 224h1.1M167.5 230.5h1.1M164.5 226h1.1M164.5 223.5h1.1M165 228h1.1M164.5 225h1.1M173.5 246.5h1.1M170.5 239.5h1.1M174 246h1.1M171 237h1.1M176 246h1.1M172.5 242.5h1.1M171.5 239h1.1M170 237.5h1.1M175 245h1.1M172.5 239.5h1.1M171.5 241.5h1.1M170.5 241h1.1M169.5 237.5h1.1M171 237.5h1.1M173 245.5h1.1M173.5 244.5h1.1M175.5 246.5h1.1M172 241.5h1.1M175 247h1.1M171.5 242h1.1M170 238.5h1.1M173.5 247h1.1M172.5 242h1.1M172 239.5h1.1M173.5 243.5h1.1M176 247.5h1.1M179.5 253.5h1.1M176.5 250.5h1.1M177 250.5h1.1M174.5 247.5h1.1M177.5 250h1.1M177.5 254h1.1M175 247.5h1.1M176 250h1.1M178.5 255.5h1.1M179.5 256.5h1.1M177 249.5h1.1M178.5 252.5h1.1M175.5 247.5h1.1M180.5 256.5h1.1M177.5 252h1.1M178.5 256.5h1.1M176.5 247h1.1M175.5 249h1.1M178.5 253h1.1M175.5 250.5h1.1M179 256.5h1.1M176.5 249h1.1M175 248h1.1M178 253h1.1M175.5 247h1.1M177.5 251h1.1M184.5 249.5h1.1M182 253h1.1M180 257h1.1M185 251.5h1.1M184 250.5h1.1M185 250h1.1M181.5 255.5h1.1M182 256h1.1M184.5 251h1.1M186 248h1.1M184 252.5h1.1M186 250h1.1M182.5 254.5h1.1M181.5 255h1.1M183.5 254h1.1M180 255.5h1.1M185 248h1.1M184 253h1.1M184 251h1.1M185.5 249.5h1.1M183.5 251h1.1M183 251.5h1.1M185 251h1.1M182 253.5h1.1M188 244h1.1M192 240.5h1.1M187 247h1.1M187.5 244h1.1M188.5 246.5h1.1M192 241h1.1M185.5 246.5h1.1M190.5 243.5h1.1M185.5 247h1.1M189.5 240.5h1.1M189 242h1.1M189.5 242.5h1.1M192 237.5h1.1M192 240h1.1M187 248.5h1.1M189.5 243h1.1M189 245h1.1M186 247h1.1M190 241h1.1M188.5 245h1.1M188 242h1.1M187 246h1.1M185.5 247.5h1.1M190 241.5h1.1M188 243.5h1.1M186 247.5h1.1M189.5 238.5h1.1M172 240h1.1M181 240h1.1M184.5 243.5h1.1M172.5 240.5h1.1M181 247.5h1.1M176.5 242.5h1.1M187.5 240h1.1M174 238h1.1M175.5 240h1.1M176 248h1.1M179 254.5h1.1M171 238h1.1M180 256h1.1M186 241h1.1M174.5 241.5h1.1M183.5 241h1.1M191 239.5h1.1M173 242.5h1.1M182 251.5h1.1M185.5 239.5h1.1M181.5 240.5h1.1M176.5 250h1.1M188.5 242.5h1.1M186.5 241h1.1M176 242h1.1M190 238h1.1M181 248.5h1.1M182 248h1.1M174 239.5h1.1M182 241.5h1.1M182 242h1.1M170.5 239h1.1M179.5 243h1.1M176 242.5h1.1M179.5 243.5h1.1M183.5 247h1.1M182 249h1.1M184.5 246.5h1.1M178 249.5h1.1M174.5 239.5h1.1M182 249.5h1.1M183.5 242h1.1M181 248h1.1M176 237.5h1.1M184 249.5h1.1M186 242.5h1.1M174.5 245.5h1.1M183 251h1.1M183 238.5h1.1M183.5 239h1.1M182.5 243.5h1.1M178 237.5h1.1M176 238.5h1.1M175 242h1.1M178 239h1.1M181.5 239h1.1M178 251.5h1.1M186 246.5h1.1M179.5 251.5h1.1M176.5 241h1.1M186.5 245.5h1.1M173 243.5h1.1M180 251h1.1M186.5 237.5h1.1M178.5 244.5h1.1M184.5 225h1.1M176 227.5h1.1M177 226.5h1.1M182 230h1.1M182.5 229.5h1.1M184 221.5h1.1M180 218.5h1.1M182.5 224h1.1M188 220h1.1M184 221h1.1M187 223h1.1M182 227h1.1M185 228h1.1M178 220h1.1M177.5 228.5h1.1M186 221h1.1M179.5 228h1.1M178 222.5h1.1M181 224.5h1.1M179.5 225.5h1.1M180.5 229.5h1.1M182.5 222.5h1.1M179.5 229.5h1.1M183 221.5h1.1M179.5 218h1.1M175 225h1.1M183 226h1.1M181.5 218h1.1M177 223h1.1M184 222.5h1.1M178.5 220h1.1M176.5 228h1.1M181.5 228h1.1M180.5 226h1.1M180.5 219h1.1M179.5 220.5h1.1M180.5 222h1.1M180.5 223.5h1.1M187 219h1.1M176.5 219.5h1.1M187.5 226h1.1M186 228.5h1.1M188.5 222.5h1.1M184 225h1.1M180 223.5h1.1M184 227h1.1M187.5 230h1.1M179 222h1.1M181 219h1.1M185 222.5h1.1M186.5 222h1.1M186.5 218h1.1M185 220h1.1M185 217h1.1M185.5 218.5h1.1M186.5 219h1.1M186.5 217.5h1.1M187 218h1.1M184 217.5h1.1M182.5 220.5h1.1M184.5 217h1.1M186.5 220h1.1M187.5 220.5h1.1M188.5 220h1.1M187 220h1.1M198.5 224h1.1M196.5 227h1.1M197 226.5h1.1M196.5 225.5h1.1M197 226h1.1M196.5 226h1.1M195.5 226h1.1M196.5 227.5h1.1M194.5 229h1.1M195 228h1.1M198.5 224.5h1.1M193.5 228h1.1M194.5 226.5h1.1M203.5 220h1.1M204 220h1.1M198.5 222.5h1.1M200.5 223h1.1M200.5 221h1.1M202.5 221.5h1.1M204 221.5h1.1M199.5 221.5h1.1M204.5 222h1.1M202 222.5h1.1M199 222.5h1.1M200.5 222.5h1.1M200.5 221.5h1.1M200 223h1.1M199 223.5h1.1M209 222.5h1.1M209 221h1.1M209 221.5h1.1M207.5 220.5h1.1M205.5 221.5h1.1M210 223.5h1.1M206 222h1.1M205.5 221h1.1M211 222h1.1M209.5 221h1.1M208.5 221h1.1M206.5 222h1.1M210.5 223h1.1M215.5 227h1.1M212 223h1.1M213 225h1.1M216 225.5h1.1M211 223h1.1M212.5 223.5h1.1M214.5 226.5h1.1M211.5 223.5h1.1M214 224h1.1M213 222.5h1.1M211 222.5h1.1M211.5 223h1.1M213.5 223.5h1.1M214.5 224.5h1.1M215.5 227.5h1.1M218 236h1.1M218 231h1.1M216.5 233.5h1.1M217 233.5h1.1M215.5 230.5h1.1M217 232.5h1.1M216 235.5h1.1M216.5 233h1.1M216 234h1.1M217 234.5h1.1M216.5 231.5h1.1M217 231h1.1M216 230.5h1.1M217 231.5h1.1M216 232h1.1M218.5 234.5h1.1M218 233.5h1.1M216.5 238.5h1.1M215 240h1.1M216 238.5h1.1M216 237h1.1M216 236.5h1.1M216.5 237h1.1M215.5 237h1.1M216 238h1.1M216.5 239.5h1.1M214.5 239.5h1.1M211.5 242.5h1.1M212.5 241h1.1M211 243h1.1M212 244h1.1M213.5 239.5h1.1M210.5 243h1.1M213 239.5h1.1M212 241h1.1M213.5 241h1.1M208 246h1.1M208.5 244h1.1M206 245.5h1.1M211 244.5h1.1M204.5 246.5h1.1M206 248h1.1M208 244.5h1.1M209.5 245.5h1.1M210 245h1.1M210 244h1.1M207 246h1.1M206 247h1.1M205 247h1.1M211 244h1.1M205 248.5h1.1M201.5 248.5h1.1M202.5 247.5h1.1M203 249h1.1M202 248h1.1M204 246.5h1.1M205 248h1.1M203.5 247h1.1M202.5 248.5h1.1M201 248h1.1M204 248h1.1M201.5 249h1.1M213 231h1.1M205 231h1.1M204.5 236h1.1M211.5 237h1.1M214 230h1.1M208 233h1.1M213.5 228.5h1.1M206 240.5h1.1M207.5 237.5h1.1M207.5 227.5h1.1M209 225h1.1M201 229h1.1M205.5 235.5h1.1M214 238h1.1M213 237.5h1.1M205.5 225h1.1M197.5 236.5h1.1M212.5 234h1.1M215 235.5h1.1M200 237.5h1.1M201 241h1.1M204 231.5h1.1M206 242.5h1.1M200 240.5h1.1M213.5 238.5h1.1M203 229h1.1M211.5 227h1.1M209 231h1.1M204 234.5h1.1M202 227.5h1.1M199 234.5h1.1M207.5 234h1.1M207 227.5h1.1M208.5 240h1.1M198.5 233h1.1M206 232h1.1M201.5 230.5h1.1M201.5 242h1.1M200 228.5h1.1M198.5 235.5h1.1M200.5 238h1.1M207 237h1.1M211 234.5h1.1M203.5 235h1.1M211.5 229h1.1M205 243h1.1M208 241.5h1.1M209.5 225.5h1.1M204 226.5h1.1M208 233.5h1.1M210.5 236h1.1M204 241.5h1.1M200.5 226.5h1.1M210 228.5h1.1M210 238.5h1.1M206.5 234.5h1.1M205 237.5h1.1M201 228.5h1.1M213 234h1.1M202.5 237h1.1M199.5 234h1.1M204 242.5h1.1M201 240h1.1M204.5 238h1.1M199.5 240.5h1.1M203.5 230.5h1.1M206 243.5h1.1M205.5 237h1.1M205.5 230h1.1M199 231h1.1M208 239h1.1M212 226.5h1.1M197 235h1.1M201.5 234.5h1.1M200 234h1.1M195 235.5h1.1M203 234.5h1.1M213.5 236h1.1M213 236h1.1M208 235.5h1.1M212 236.5h1.1M207 235.5h1.1M213.5 236.5h1.1M205 234h1.1M212 235.5h1.1M204.5 235h1.1M207 234.5h1.1M145 244.5h1.1M143.5 238h1.1M145.5 245.5h1.1M143.5 242h1.1M145.5 244h1.1M143 239.5h1.1M145.5 242h1.1M144 238.5h1.1M146 242h1.1M143 240h1.1M146 246h1.1M152 253h1.1M148.5 248h1.1M154 257h1.1M152.5 257.5h1.1M149.5 250.5h1.1M153 256.5h1.1M152 253.5h1.1M148.5 249.5h1.1M150.5 253.5h1.1M149.5 250h1.1M148.5 250h1.1M152.5 254.5h1.1M150 249h1.1M153.5 258.5h1.1M158.5 263h1.1M159.5 263.5h1.1M160.5 264.5h1.1M157.5 262.5h1.1M157.5 261h1.1M156.5 262.5h1.1M158 263.5h1.1M160 264h1.1M155 258h1.1M159.5 262.5h1.1M157 262h1.1M155.5 265h1.1M156 265h1.1M159 268.5h1.1M159 268h1.1M155.5 264.5h1.1M159 266h1.1M158 264h1.1M156 269.5h1.1M155 261.5h1.1M157.5 263.5h1.1M153 266h1.1M157.5 269.5h1.1M157.5 262h1.1M157.5 265.5h1.1M155 262.5h1.1M155.5 265.5h1.1M160 263.5h1.1M158.5 269.5h1.1M155.5 267h1.1M155 268h1.1M155.5 263.5h1.1M158.5 268h1.1M159.5 269.5h1.1M156 268h1.1M160.5 267h1.1M158 266.5h1.1M154.5 265h1.1M155 264h1.1M158 269.5h1.1M158.5 264h1.1M160.5 263h1.1M157 263.5h1.1M157 267.5h1.1M154 268.5h1.1M154.5 266.5h1.1M159 263h1.1M156.5 268.5h1.1M156 267.5h1.1M131.5 238.5h1.1M133.5 240h1.1M133.5 239h1.1M128.5 236h1.1M128.5 233h1.1M129.5 235.5h1.1" stroke="#8a8a8a" stroke-width="1.1" fill="none"/>
<path d="M350 159.5h1.1M357.5 171.5h1.1M356.5 170h1.1M344 162h1.1M355.5 168h1.1M357.5 171h1.1M347.5 164h1.1M342.5 155h1.1M339.5 157h1.1M353.5 161h1.1M344 156.5h1.1M343.5 157h1.1M357.5 172h1.1M346 158h1.1M354.5 173.5h1.1M342 158h1.1M341 160.5h1.1M357 169h1.1M351 162.5h1.1M350 162h1.1M353.5 171.5h1.1M353.5 170.5h1.1M340 160h1.1M347 160h1.1M352.5 165h1.1M347.5 160.5h1.1M344 158.5h1.1M344 156h1.1M345.5 160h1.1M347 157.5h1.1M342.5 161.5h1.1M345.5 156h1.1M350 160.5h1.1M356.5 174h1.1M356 174.5h1.1M343 155h1.1M345.5 159h1.1M341.5 157.5h1.1M351 170h1.1M342.5 159h1.1M345.5 163.5h1.1M349.5 166h1.1M352 164.5h1.1M339.5 156h1.1M344.5 159h1.1M342 157h1.1M344 155h1.1M344.5 162h1.1M352 170h1.1M349.5 165.5h1.1M349.5 163.5h1.1M343 153.5h1.1M339.5 156.5h1.1M349 168.5h1.1M346 162.5h1.1M342 155h1.1M352.5 163.5h1.1M340 157.5h1.1M348.5 164h1.1M348 162.5h1.1M352.5 172.5h1.1M344.5 163h1.1M342.5 154.5h1.1M345 156h1.1M348.5 165.5h1.1M356 175h1.1M357 174.5h1.1M345.5 157.5h1.1M344 160.5h1.1M347 162h1.1M346 162h1.1M354 164.5h1.1M353.5 172.5h1.1M348 161.5h1.1M355.5 167h1.1M355 164h1.1M357 170.5h1.1M342 156.5h1.1M347.5 167h1.1M347 161.5h1.1M345 160.5h1.1M355 171.5h1.1M340 156h1.1M346 163h1.1M356.5 168h1.1M356.5 167h1.1M357 168.5h1.1M357.5 173.5h1.1M345.5 158h1.1M345.5 154.5h1.1M345 153.5h1.1M344 155.5h1.1M340.5 155.5h1.1M341 158.5h1.1M346 156.5h1.1M343.5 155.5h1.1M345.5 158.5h1.1M342 154.5h1.1M346 154.5h1.1M346.5 155.5h1.1M344.5 158h1.1M346 157.5h1.1M344.5 154.5h1.1M344.5 157h1.1M344.5 154h1.1M341.5 157h1.1M341.5 159h1.1M345 157.5h1.1M341.5 158.5h1.1M342.5 157h1.1M343.5 156.5h1.1M341.5 155h1.1M341 156.5h1.1M350.5 165h1.1M351.5 160.5h1.1M348.5 165h1.1M350 166.5h1.1M349.5 160.5h1.1M353 166h1.1M350 167.5h1.1M349.5 162h1.1M349 161.5h1.1M353 162h1.1M351 164.5h1.1M351.5 165h1.1M349.5 164.5h1.1M351.5 165.5h1.1M353 163.5h1.1M352 163.5h1.1M352 162h1.1M350.5 162.5h1.1M356.5 177h1.1M361.5 189h1.1M362 189.5h1.1M359 184.5h1.1M358 179.5h1.1M357 181h1.1M360.5 186.5h1.1M361.5 187.5h1.1M360 187h1.1M357 177h1.1M360.5 190h1.1M356.5 179h1.1M358 180.5h1.1M361.5 188h1.1M357 180.5h1.1M357.5 179h1.1M360 187.5h1.1M361 186.5h1.1M356 177.5h1.1M365 197.5h1.1M364 197.5h1.1M363 194h1.1M367 203.5h1.1M368.5 204.5h1.1M363.5 192.5h1.1M362.5 194h1.1M364.5 198.5h1.1M366.5 200.5h1.1M364.5 199h1.1M367 201.5h1.1M367 205h1.1M367 202h1.1M363 195.5h1.1M362 190h1.1M362 192.5h1.1M363.5 194h1.1M361.5 191h1.1M367 204.5h1.1M371.5 213h1.1M369 206h1.1M368 207h1.1M369 207h1.1M369.5 209h1.1M370 210.5h1.1M369.5 208h1.1M372.5 211.5h1.1M371.5 210.5h1.1M370.5 208.5h1.1M367.5 206.5h1.1M364.5 215h1.1M364 213.5h1.1M366 214h1.1M361.5 210.5h1.1M369 213.5h1.1M365 213h1.1M367.5 207h1.1M369 219.5h1.1M363 215h1.1M369 213h1.1M369 219h1.1M365.5 207h1.1M364.5 207.5h1.1M366.5 219h1.1M366 218.5h1.1M366 215.5h1.1M363 208h1.1M367 209.5h1.1M369.5 208.5h1.1M365 215h1.1M365 207.5h1.1M368.5 210.5h1.1M362 211h1.1M366 216h1.1M366.5 213h1.1M362 212.5h1.1M371.5 214h1.1M365.5 215h1.1M365.5 209.5h1.1M368.5 206h1.1M361.5 212h1.1M371.5 215.5h1.1M366 211.5h1.1M362.5 214.5h1.1M366 212.5h1.1M367 218.5h1.1M369.5 216.5h1.1M370 214.5h1.1M421.5 147h1.1M413 148.5h1.1M407.5 150h1.1M420 148.5h1.1M408 157.5h1.1M413.5 145h1.1M408 147.5h1.1M411.5 146h1.1M423 147h1.1M406 155.5h1.1M422.5 151h1.1M414 144.5h1.1M409.5 157.5h1.1M409 153.5h1.1M417.5 151.5h1.1M425.5 151h1.1M397 155.5h1.1M425 145.5h1.1M400.5 148.5h1.1M419 146.5h1.1M402.5 149.5h1.1M408 148.5h1.1M425.5 152h1.1M402 151.5h1.1M394 152h1.1M411.5 153.5h1.1M426 150.5h1.1M401.5 155.5h1.1M391.5 155.5h1.1M398.5 156h1.1M415.5 150h1.1M420.5 148.5h1.1M394.5 152h1.1M401.5 146h1.1M396.5 155.5h1.1M412 150.5h1.1M420 153.5h1.1M416 150h1.1M411.5 157h1.1M401 152h1.1M405 146h1.1M420 154h1.1M405.5 156.5h1.1M417 148h1.1M421 149h1.1M410.5 147h1.1M411 148h1.1M420 151.5h1.1M392 154.5h1.1M398 152h1.1M416.5 145h1.1M415.5 153h1.1M422.5 148h1.1M419 156.5h1.1M393 153h1.1M395.5 152.5h1.1M418.5 154h1.1M410.5 154h1.1M425 149h1.1M402 154h1.1M407 145h1.1M420.5 146h1.1M416.5 155.5h1.1M395.5 154h1.1M397.5 153h1.1M423 160h1.1M391 154.5h1.1M408.5 149.5h1.1M399.5 154h1.1M406.5 144h1.1M424 156h1.1M402 152.5h1.1M402.5 144.5h1.1M410.5 158h1.1M416 148.5h1.1M426.5 149h1.1M413.5 149.5h1.1M414.5 145h1.1M420.5 147h1.1M399.5 157h1.1M415 155.5h1.1M409.5 146h1.1M411 146.5h1.1M417.5 154h1.1M422.5 156h1.1M408.5 151h1.1M412 149.5h1.1M393.5 154.5h1.1M406 151.5h1.1M406.5 152.5h1.1M424.5 156h1.1M399 150.5h1.1M411 149.5h1.1M425 150h1.1M421.5 156h1.1M410 156h1.1M403.5 148h1.1M407 145.5h1.1M405 144h1.1M408 156.5h1.1M394 155h1.1M424.5 149h1.1M423.5 159.5h1.1M414.5 150.5h1.1M426.5 150.5h1.1M401.5 150.5h1.1M394 151.5h1.1M419.5 146h1.1M401 149.5h1.1M423.5 152h1.1M404.5 145.5h1.1M396.5 150.5h1.1M390.5 155h1.1M419 147h1.1M402 146h1.1M411 147h1.1M426 146h1.1M417.5 146h1.1M424 154.5h1.1M415 145h1.1M402.5 156.5h1.1M422.5 161h1.1M407 147.5h1.1M394.5 153h1.1M403.5 145.5h1.1M421 145h1.1M423.5 150h1.1M405 145h1.1M410.5 145h1.1M401 148.5h1.1M416 152h1.1M394.5 154h1.1M404.5 144h1.1M418 153.5h1.1M411 150h1.1M413.5 152.5h1.1M415 148.5h1.1M409.5 154.5h1.1M424.5 148.5h1.1M398 153.5h1.1M393.5 156.5h1.1M416.5 153h1.1M413 157.5h1.1M422 161.5h1.1M403.5 153.5h1.1M403.5 144.5h1.1M410.5 149.5h1.1M405.5 148h1.1M421.5 153.5h1.1M414.5 151h1.1M424.5 149.5h1.1M393 152.5h1.1M411 147.5h1.1M419.5 147.5h1.1M420 153h1.1M391.5 154.5h1.1M406.5 155h1.1M396 156h1.1M419 151h1.1M421.5 152h1.1M425 146.5h1.1M419 146h1.1M410 148h1.1M421 146.5h1.1M419.5 147h1.1M415.5 146.5h1.1M424.5 145.5h1.1M407.5 151.5h1.1M404 143h1.1M417.5 155h1.1M422.5 152h1.1M406.5 153h1.1M417 149.5h1.1M426 153.5h1.1M408.5 154.5h1.1M422.5 156.5h1.1M410.5 147.5h1.1M404 147h1.1M408.5 147.5h1.1M410 146h1.1M406.5 150.5h1.1M408 143.5h1.1M405.5 147h1.1M404.5 145h1.1M403.5 148.5h1.1M405.5 149.5h1.1M409.5 145h1.1M404 148h1.1M408.5 145.5h1.1M407 151h1.1M406.5 148.5h1.1M407 149.5h1.1M404.5 148h1.1M406.5 143.5h1.1M408 150h1.1M407 146.5h1.1M407.5 144.5h1.1M404 150h1.1M408 146.5h1.1M405 147.5h1.1M409.5 148.5h1.1M407.5 148h1.1M444.5 189.5h1.1M448 190.5h1.1M442.5 193h1.1M447.5 190h1.1M444 187.5h1.1M443.5 188.5h1.1M447.5 187.5h1.1M444 191h1.1M442 192h1.1M441.5 192h1.1M443.5 190h1.1M443.5 188h1.1M443.5 187h1.1M445.5 191.5h1.1M447.5 189.5h1.1M442 190h1.1M442.5 189h1.1M442.5 190.5h1.1M442 191h1.1M446 187h1.1M447 188h1.1M447 187h1.1M445 189h1.1M443.5 191h1.1M444 190h1.1M444 192h1.1M415 209h1.1M418.5 205h1.1M419.5 207h1.1M418 207h1.1M416.5 205h1.1M419 208.5h1.1M418 209.5h1.1M416 205h1.1M419 206.5h1.1M417.5 208.5h1.1M419.5 209h1.1M418 204h1.1M419 207.5h1.1M418 207.5h1.1M418 203h1.1M416 207.5h1.1M415 206.5h1.1M416 204h1.1M415 209.5h1.1M327.5 223.5h1.1M328.5 223h1.1M328 224h1.1M326.5 221h1.1M326 222.5h1.1M329 224h1.1M344.5 205h1.1M349.5 204h1.1M346 208h1.1M352 205h1.1M351 204h1.1M352 204.5h1.1M348.5 208h1.1M343 205h1.1M344 205.5h1.1M348 205h1.1M344 204h1.1M343 204h1.1M347.5 203h1.1M349 208.5h1.1M348 207.5h1.1M347 203h1.1M349 206.5h1.1M347.5 205.5h1.1M342 205.5h1.1M350.5 204.5h1.1M350 204.5h1.1M349 205h1.1M350.5 207h1.1M344.5 209h1.1M346.5 203h1.1M347.5 204h1.1M347.5 203.5h1.1M342 204h1.1M351 207.5h1.1M343 206.5h1.1M345.5 204h1.1M342.5 206.5h1.1M341 204.5h1.1M352 206h1.1M349.5 208h1.1M347 206h1.1M348 208.5h1.1M347 205h1.1M347 258.5h1.1M341.5 251h1.1M346.5 259h1.1M347.5 258.5h1.1M348.5 259.5h1.1M347.5 258h1.1M342 253.5h1.1M344.5 255h1.1M342 253h1.1M350.5 262h1.1M351 263.5h1.1M352.5 266h1.1M352 265h1.1M353 265h1.1M353.5 266.5h1.1M354 267h1.1M347.5 260h1.1M348.5 260h1.1M349 260h1.1M349.5 258.5h1.1M353 254h1.1M349.5 257.5h1.1M351.5 256h1.1M352.5 254h1.1M346 262h1.1M347.5 262h1.1M344.5 263.5h1.1M344.5 263h1.1M347 261h1.1M347.5 261.5h1.1M388 268h1.1M387 268.5h1.1M389.5 268.5h1.1M386 268.5h1.1M386 266h1.1M388.5 267h1.1M390.5 269.5h1.1M386 267.5h1.1M389 267.5h1.1M382.5 266h1.1M394.5 271.5h1.1M384.5 266h1.1M386 267h1.1M392 272h1.1M382.5 266.5h1.1M383.5 267.5h1.1M383 265h1.1M393 271.5h1.1M400.5 275.5h1.1M405 277h1.1M404.5 278h1.1M397.5 274.5h1.1M398.5 273.5h1.1M401 275.5h1.1M403 276.5h1.1M403.5 277h1.1M402 275h1.1M400.5 275h1.1M406.5 277.5h1.1M397.5 275h1.1M406 278h1.1M404 275.5h1.1M402.5 274.5h1.1M403 277.5h1.1M400 275.5h1.1M365 293.5h1.1M366 294.5h1.1M369 287.5h1.1M364 295h1.1M365.5 292.5h1.1M361.5 299.5h1.1M380.5 268h1.1M382 264.5h1.1M375 281h1.1M381 266h1.1M375.5 278.5h1.1M378 274h1.1M381.5 268h1.1M377.5 274h1.1M416.5 293h1.1M414 344h1.1M429.5 337.5h1.1M417 298.5h1.1M412 296.5h1.1M423.5 291h1.1M431.5 303.5h1.1M425.5 336h1.1M430.5 334.5h1.1M419.5 289.5h1.1M421.5 301h1.1M417.5 329h1.1M431 334h1.1M436.5 312h1.1M431.5 342.5h1.1M417 332.5h1.1M418.5 302.5h1.1M414.5 289h1.1M416 322.5h1.1M429.5 328h1.1M408.5 293.5h1.1M416.5 331.5h1.1M429.5 332h1.1M423.5 295.5h1.1M405.5 282.5h1.1M422.5 346h1.1M418 346.5h1.1M435.5 329.5h1.1M425.5 321h1.1M404.5 287h1.1M413 292.5h1.1M427 347h1.1M437.5 308.5h1.1M434.5 314.5h1.1M437 314.5h1.1M426 329h1.1M412 286.5h1.1M418 309h1.1M432.5 320h1.1M406 294.5h1.1M411.5 318.5h1.1M425.5 329h1.1M425 351h1.1M412 309h1.1M421.5 314h1.1M429.5 338h1.1M415 296.5h1.1M423 344h1.1M423.5 292.5h1.1M417 318.5h1.1M409.5 293.5h1.1M414 344.5h1.1M411.5 326.5h1.1M420.5 299.5h1.1M429.5 324h1.1M433.5 341h1.1M433.5 302.5h1.1M411.5 284h1.1M420 294.5h1.1M410.5 289h1.1M429.5 322h1.1M425.5 299h1.1M431.5 313.5h1.1M433.5 318.5h1.1M432 321.5h1.1M413 282h1.1M412.5 340.5h1.1M429 333.5h1.1M411.5 323.5h1.1M419.5 295.5h1.1M410 295h1.1M411.5 310h1.1M420.5 308h1.1M422 312.5h1.1M422.5 330h1.1M414 340h1.1M412 280h1.1M423.5 297.5h1.1M430 324.5h1.1M422.5 322.5h1.1M434.5 338h1.1M424.5 313.5h1.1M416.5 350.5h1.1M414.5 334h1.1M424 320.5h1.1M417.5 330.5h1.1M421 349h1.1M423.5 319.5h1.1M432 303.5h1.1M409.5 290h1.1M418.5 285.5h1.1M415 291.5h1.1M421 350.5h1.1M434.5 343h1.1M431.5 311h1.1M422 325.5h1.1M422 336.5h1.1M431.5 330h1.1M419.5 315.5h1.1M423 322.5h1.1M423.5 292h1.1M419 307.5h1.1M412.5 307h1.1M417.5 295h1.1M411 309.5h1.1M420 323h1.1M411 298.5h1.1M410 301.5h1.1M421.5 326.5h1.1M412 317h1.1M422 307h1.1M412 284.5h1.1M431 316.5h1.1M415 308h1.1M430.5 318.5h1.1M416.5 299.5h1.1M432 333.5h1.1M419.5 292.5h1.1M437 305h1.1M410.5 335h1.1M416.5 331h1.1M423 300h1.1M421.5 320.5h1.1M409.5 283h1.1M422 315.5h1.1M425 346.5h1.1M414.5 295h1.1M421.5 291.5h1.1M415.5 300h1.1M421 307h1.1M417.5 311h1.1M411 322.5h1.1M421.5 334h1.1M404 276.5h1.1M413 333.5h1.1M433.5 301.5h1.1M433.5 316h1.1M436.5 324h1.1M421.5 345.5h1.1M431 304h1.1M428.5 328.5h1.1M418.5 305h1.1M415.5 322.5h1.1M412.5 337h1.1M407.5 282.5h1.1M421 339.5h1.1M407.5 293.5h1.1M432 320.5h1.1M409 289.5h1.1M426 327.5h1.1M416 299h1.1M424.5 320h1.1M433.5 324.5h1.1M422.5 302.5h1.1M412.5 282h1.1M431 329h1.1M411.5 294.5h1.1M403 281.5h1.1M420.5 328.5h1.1M413.5 332.5h1.1M409 287.5h1.1M428 298h1.1M409 295h1.1M406 281.5h1.1M414.5 337h1.1M425 338h1.1M416.5 323h1.1M412.5 312h1.1M413 340h1.1M416.5 296.5h1.1M415.5 340h1.1M435.5 330.5h1.1M411 317h1.1M414 333h1.1M434 330.5h1.1M408 281.5h1.1M432.5 321h1.1M428 318h1.1M428.5 334h1.1M432.5 325h1.1M419.5 318.5h1.1M406.5 291.5h1.1M430.5 329h1.1M436.5 316h1.1M428 305h1.1M435 323h1.1M419.5 348.5h1.1M411.5 300h1.1M424.5 328.5h1.1M427 308h1.1M434.5 331h1.1M433.5 342.5h1.1M425 328h1.1M410 290.5h1.1M421 337.5h1.1M411.5 291h1.1M420 300.5h1.1M417.5 286h1.1M406.5 286.5h1.1M417 315h1.1M424.5 334.5h1.1M419 290.5h1.1M424 343.5h1.1M421 302.5h1.1M426.5 340h1.1M423.5 322.5h1.1M409 293.5h1.1M412.5 318h1.1M418.5 347h1.1M436 335.5h1.1M426.5 325h1.1M411 318.5h1.1M434 329h1.1M411 311h1.1M428.5 328h1.1M424.5 310h1.1M415 337h1.1M410.5 327.5h1.1M432 322.5h1.1M414.5 345h1.1M408 279.5h1.1M423 351.5h1.1M418.5 333.5h1.1M407.5 287h1.1M402.5 278.5h1.1M405 284.5h1.1M403 276h1.1M420 336h1.1M424 330.5h1.1M411.5 327.5h1.1M418 288h1.1M439 312.5h1.1M423 338.5h1.1M423 306.5h1.1M423.5 295h1.1M403.5 279h1.1M429 347.5h1.1M413 331h1.1M413 293.5h1.1M419.5 289h1.1M409.5 285h1.1M423 337h1.1M423.5 348h1.1M424.5 347h1.1M431.5 322.5h1.1M432 305.5h1.1M419 348.5h1.1M411.5 284.5h1.1M422.5 310h1.1M420.5 297.5h1.1M432 343h1.1M423.5 304.5h1.1M419.5 313.5h1.1M431 301.5h1.1M432 304.5h1.1M425 345h1.1M434 308.5h1.1M425.5 334h1.1M414.5 337.5h1.1M433.5 313h1.1M432.5 307h1.1M417 337h1.1M430.5 333.5h1.1M418.5 298.5h1.1M434 310.5h1.1M417.5 288.5h1.1M413 301.5h1.1M432.5 339.5h1.1M420 309h1.1M412 292h1.1M412.5 341h1.1M429.5 336.5h1.1M431.5 325.5h1.1M416.5 285.5h1.1M428 332h1.1M431 307h1.1M406 282h1.1M421.5 345h1.1M430.5 330.5h1.1M423.5 317h1.1M423 324h1.1M436.5 314.5h1.1M436 333.5h1.1M424 311h1.1M404 277h1.1M411.5 341.5h1.1M430 307.5h1.1M424 313.5h1.1M434 325h1.1M416.5 293.5h1.1M413.5 296.5h1.1M410.5 329.5h1.1M409.5 288h1.1M427.5 336h1.1M427 348h1.1M407 283.5h1.1M418.5 336h1.1M424 315.5h1.1M413.5 307.5h1.1M429 316.5h1.1M437 307.5h1.1M415.5 351h1.1M419.5 335.5h1.1M424 341.5h1.1M426 308.5h1.1M424 322h1.1M415.5 333.5h1.1M421.5 348.5h1.1M421 315.5h1.1M417.5 305h1.1M421.5 309h1.1M417.5 326h1.1M422.5 330.5h1.1M420.5 316h1.1M417.5 310h1.1M434 320.5h1.1M431.5 332h1.1M420 322.5h1.1M425 322h1.1M423.5 313.5h1.1M414 343.5h1.1M411 288h1.1M432 327h1.1M424 301.5h1.1M428.5 321.5h1.1M409 292.5h1.1M423.5 327h1.1M425.5 324h1.1M433.5 311h1.1M414.5 303.5h1.1M437.5 317h1.1M425.5 347.5h1.1M424.5 308.5h1.1M431.5 337.5h1.1M412.5 333h1.1M418.5 329.5h1.1M434.5 329.5h1.1M433.5 306h1.1M416 345h1.1M433.5 312h1.1M423 336h1.1M422.5 333.5h1.1M428.5 300h1.1M417.5 319h1.1M410 309.5h1.1M432.5 343h1.1M420 330h1.1M417.5 313.5h1.1M414 291.5h1.1M430.5 345h1.1M428.5 306.5h1.1M406 277.5h1.1M438.5 312h1.1M404 282h1.1M408 282.5h1.1M420 346.5h1.1M424.5 321h1.1M420.5 310h1.1M409.5 306h1.1M420.5 293.5h1.1M424 295h1.1M430 332h1.1M431.5 314.5h1.1M427.5 309h1.1M411 299h1.1M417 291h1.1M431.5 335.5h1.1M426.5 335.5h1.1M434.5 322.5h1.1M431.5 346.5h1.1M433 302h1.1M422.5 299h1.1M418.5 338.5h1.1M420 331.5h1.1M415.5 290h1.1M425 293h1.1M409.5 279h1.1M419.5 309.5h1.1M416.5 338.5h1.1M433.5 334h1.1M416.5 339h1.1M416 305.5h1.1M431 345h1.1M406.5 287h1.1M414 347.5h1.1M435.5 339h1.1M404 289h1.1M413.5 288h1.1M422 345h1.1M429.5 297.5h1.1M422.5 321.5h1.1M430 296.5h1.1M425.5 295h1.1M427.5 332.5h1.1M435.5 334h1.1M409.5 295h1.1M415 317h1.1M423 343h1.1M420 307.5h1.1M416 310h1.1M416 301.5h1.1M432 340.5h1.1M427.5 313.5h1.1M423.5 336.5h1.1M416.5 340h1.1M417 307h1.1M414 296.5h1.1M416.5 324h1.1M420 301h1.1M434.5 312.5h1.1M432 337.5h1.1M425 318.5h1.1M413.5 345h1.1M429.5 336h1.1M416 324h1.1M427 299h1.1M414.5 300h1.1M432 324.5h1.1M425 296.5h1.1M414 330.5h1.1M411 284h1.1M424 346.5h1.1M416.5 309.5h1.1M433 339.5h1.1M415.5 332h1.1M415.5 304.5h1.1M419.5 306.5h1.1M427 309.5h1.1M429.5 348h1.1M403 285.5h1.1M417 328h1.1M427.5 306h1.1M420 306.5h1.1M407.5 299.5h1.1M419 346.5h1.1M403 283.5h1.1M412.5 299.5h1.1M417.5 341h1.1M415 337.5h1.1M420 311h1.1M424.5 340.5h1.1M425.5 297.5h1.1M413.5 336h1.1M429 325.5h1.1M426.5 303.5h1.1M410.5 307.5h1.1M417.5 296h1.1M424 326.5h1.1M424.5 343h1.1M403.5 287h1.1M430.5 340.5h1.1M427 294h1.1M431 298h1.1M417.5 335h1.1M408 289.5h1.1M403.5 285h1.1M413 314.5h1.1M431 308h1.1M413.5 287h1.1M427 320h1.1M433.5 321h1.1M423 327h1.1M427 316h1.1M435.5 323h1.1M428.5 295.5h1.1M425 350.5h1.1M423.5 333.5h1.1M430.5 331.5h1.1M425.5 304.5h1.1M408.5 294h1.1M432.5 322h1.1M430.5 308.5h1.1M425.5 305.5h1.1M436 333h1.1M426 330.5h1.1M412 287.5h1.1M415.5 294h1.1M419.5 304h1.1M437.5 306.5h1.1M412 322.5h1.1M409 298h1.1M411 325.5h1.1M419.5 318h1.1M418 351.5h1.1M435.5 321.5h1.1M427.5 296.5h1.1M431.5 336h1.1M410.5 314.5h1.1M409.5 292.5h1.1M420 339h1.1M418 317.5h1.1M417.5 322h1.1M419 330.5h1.1M404.5 277.5h1.1M419 351h1.1M423.5 331h1.1M437.5 316.5h1.1M424.5 321.5h1.1M420.5 342h1.1M423 311h1.1M422 305.5h1.1M420.5 327h1.1M428.5 333.5h1.1M421 324.5h1.1M428.5 335.5h1.1M419 290h1.1M421.5 312.5h1.1M429 342h1.1M413 315.5h1.1M433 323h1.1M425.5 292h1.1M419 334h1.1M430 341h1.1M412.5 305h1.1M411.5 297.5h1.1M428 314h1.1M404.5 280.5h1.1M425.5 300h1.1M420 303.5h1.1M419.5 314h1.1M410.5 297.5h1.1M415.5 350.5h1.1M435 330h1.1M418.5 321h1.1M424.5 327.5h1.1M416 328h1.1M423.5 296h1.1M436 320.5h1.1M414.5 287h1.1M417 350h1.1M430 345h1.1M419 347h1.1M438 308h1.1M424 301h1.1M417 349.5h1.1M412.5 286.5h1.1M414 301h1.1M420.5 348h1.1M412.5 315.5h1.1M430.5 306.5h1.1M405 281.5h1.1M436.5 320.5h1.1M413 340.5h1.1M415 284.5h1.1M423.5 335h1.1M413.5 297.5h1.1M415 311h1.1M406.5 283.5h1.1M420.5 298h1.1M407 291.5h1.1M417 323.5h1.1M423 321.5h1.1M421.5 329.5h1.1M406 279h1.1M402.5 277h1.1M435.5 320h1.1M420.5 340.5h1.1M418.5 348h1.1M419 343.5h1.1M418 319h1.1M422.5 329h1.1M413.5 289.5h1.1M426.5 311.5h1.1M414.5 303h1.1M436 308.5h1.1M418.5 315h1.1M418 319.5h1.1M418.5 309.5h1.1M434 327h1.1M422 350.5h1.1M421 313h1.1M428.5 320h1.1M414.5 345.5h1.1M417 348.5h1.1M436.5 321h1.1M404 286.5h1.1M428.5 327.5h1.1M425.5 343h1.1M410 285.5h1.1M410.5 298.5h1.1M415.5 349h1.1M420.5 328h1.1M412 291h1.1M426 347h1.1M415.5 287h1.1M412 340.5h1.1M415 319h1.1M423.5 311h1.1M414 299h1.1M412.5 308.5h1.1M421.5 292h1.1M423 290.5h1.1M410.5 294h1.1M429.5 308h1.1M433 329h1.1M431 310h1.1M414 324h1.1M417 294.5h1.1M418.5 300h1.1M429.5 320h1.1M404.5 285.5h1.1M431.5 328.5h1.1M427.5 311h1.1M406.5 283h1.1M418 349h1.1M434.5 302h1.1M404.5 286.5h1.1M426.5 305.5h1.1M433.5 315.5h1.1M437.5 307.5h1.1M410.5 308.5h1.1M413 307.5h1.1M432 342.5h1.1M410 293.5h1.1M424.5 347.5h1.1M412.5 334.5h1.1M422 297h1.1M416.5 343.5h1.1M415.5 316.5h1.1M432.5 306h1.1M404 276h1.1M423.5 333h1.1M420.5 311h1.1M414 339h1.1M405.5 284h1.1M432 306h1.1M411.5 312h1.1M408.5 304h1.1M421.5 351h1.1M412.5 320h1.1M433.5 331.5h1.1M426.5 307.5h1.1M412 328h1.1M417 332h1.1M436.5 324.5h1.1M410.5 284.5h1.1M416 294.5h1.1M414 298.5h1.1M415.5 313h1.1M433 340.5h1.1M426.5 292.5h1.1M432 308h1.1M409.5 293h1.1M437 313h1.1M429.5 300.5h1.1M418.5 330.5h1.1M409.5 304.5h1.1M413.5 328.5h1.1M410 303.5h1.1M413.5 318h1.1M411 332h1.1M414.5 328h1.1M414 343h1.1M430 342.5h1.1M420.5 344.5h1.1M434.5 303.5h1.1M427 333h1.1M420.5 290h1.1M417 300h1.1M424.5 307.5h1.1M417.5 334h1.1M423.5 312h1.1M415 322.5h1.1M420 349.5h1.1M433.5 305h1.1M410.5 301.5h1.1M429 321h1.1M410 309h1.1M422.5 306h1.1M406 295.5h1.1M418 345h1.1M427.5 310h1.1M416 316h1.1M415 338.5h1.1M426.5 348h1.1M431 327h1.1M431 304.5h1.1M405.5 283h1.1M437.5 310.5h1.1M409.5 280h1.1M430 318.5h1.1M437 306h1.1M425.5 320h1.1M436.5 310h1.1M416.5 304.5h1.1M419 345.5h1.1M412 342h1.1M410 308h1.1M422.5 292.5h1.1M420 320.5h1.1M414.5 323.5h1.1M431 335.5h1.1M421.5 318h1.1M417.5 309.5h1.1M403 278.5h1.1M420 332h1.1M435.5 308.5h1.1M422 292.5h1.1M421 292h1.1M428 329h1.1M423 335.5h1.1M414 349h1.1M427 321.5h1.1M425 347h1.1M431 309h1.1M434.5 319.5h1.1M421.5 346.5h1.1M411 321h1.1M415 343h1.1M433 313.5h1.1M420.5 351h1.1M407 294.5h1.1M419.5 339h1.1M431.5 298.5h1.1M427.5 321.5h1.1M433.5 325.5h1.1M414.5 298h1.1M413 302h1.1M409.5 311.5h1.1M417 306h1.1M436 309.5h1.1M425 328.5h1.1M421 309h1.1M423 312.5h1.1M419 306.5h1.1M431.5 317.5h1.1M433 316h1.1M415 313h1.1M417 342.5h1.1M414 308.5h1.1M422.5 298h1.1M428 316.5h1.1M433.5 332h1.1M413 287.5h1.1M411.5 303.5h1.1M419 295h1.1M409 295.5h1.1M432.5 307.5h1.1M428.5 308.5h1.1M412 339.5h1.1M421 333h1.1M424.5 338.5h1.1M428 340.5h1.1M427 302h1.1M410.5 299.5h1.1M421.5 305.5h1.1M435.5 307.5h1.1M432.5 331.5h1.1M413.5 282h1.1M406 280h1.1M435 341h1.1M424 324h1.1M404 283.5h1.1M423 294h1.1M427 315.5h1.1M415.5 293.5h1.1M421.5 343h1.1M420.5 313.5h1.1M421 336h1.1M412 281h1.1M437 308.5h1.1M418.5 321.5h1.1M431 328.5h1.1M437.5 315h1.1M424 317.5h1.1M430 331.5h1.1M409 284h1.1M421.5 288.5h1.1M427 313.5h1.1M428.5 298h1.1M424 347h1.1M412 309.5h1.1M434 342h1.1M427 331.5h1.1M430 339.5h1.1M424 297h1.1M413 294h1.1M413 296h1.1M425 330h1.1M413 326.5h1.1M414.5 292.5h1.1M433.5 342h1.1M433.5 306.5h1.1M418 288.5h1.1M404.5 278.5h1.1M415 328h1.1M410.5 295.5h1.1M429.5 326.5h1.1M419 322.5h1.1M410.5 285h1.1M427.5 308.5h1.1M412.5 324.5h1.1M415.5 332.5h1.1M419 346h1.1M412.5 309h1.1M412 344.5h1.1M414.5 300.5h1.1M420 307h1.1M414.5 293.5h1.1M412.5 309.5h1.1M418 331h1.1M413 297.5h1.1M428 315h1.1M421.5 349h1.1M410 297.5h1.1M435.5 309h1.1M424 327.5h1.1M433 311.5h1.1M414 321h1.1M420.5 307h1.1M427.5 303h1.1M429.5 299h1.1M433.5 323h1.1M416.5 347.5h1.1M416.5 351.5h1.1M435.5 316h1.1M433 331h1.1M427.5 303.5h1.1M428 332.5h1.1M412 282.5h1.1M412.5 326.5h1.1M417 305h1.1M428.5 322.5h1.1M425.5 300.5h1.1M414.5 335h1.1M414 325.5h1.1M415 289.5h1.1M428 303.5h1.1M424 325.5h1.1M423 307h1.1M403 280h1.1M417 321h1.1M427.5 304.5h1.1M418.5 330h1.1M425.5 314h1.1M419.5 348h1.1M437 317h1.1M415.5 305h1.1M426 306.5h1.1M434 301h1.1M413 289.5h1.1M417 292.5h1.1M419.5 307.5h1.1M405 291.5h1.1M409 306h1.1M434.5 304h1.1M418.5 301.5h1.1M409.5 302h1.1M407.5 298h1.1M420.5 349h1.1M423 351h1.1M425.5 341.5h1.1M436 330.5h1.1M417.5 314h1.1M432 339h1.1M420 348h1.1M411 335.5h1.1M428 350h1.1M409 298.5h1.1M421 304.5h1.1M418.5 351.5h1.1M412.5 303.5h1.1M416 299.5h1.1M434 337h1.1M418.5 290.5h1.1M422.5 290h1.1M433.5 307h1.1M413.5 312.5h1.1M409 309.5h1.1M426 303.5h1.1M421.5 316h1.1M413 341h1.1M426.5 319.5h1.1M407.5 285.5h1.1M414 298h1.1M422.5 348.5h1.1M421.5 340h1.1M425 317h1.1M416.5 297h1.1M437.5 317.5h1.1M418 314h1.1M426 326h1.1M417.5 344.5h1.1M430.5 336.5h1.1M431 342.5h1.1M419 326.5h1.1M427 345.5h1.1M427 344h1.1M425 348h1.1M422.5 348h1.1M420.5 327.5h1.1M426.5 347h1.1M416 338.5h1.1M424 347.5h1.1M423 345.5h1.1M428 331h1.1M427 332h1.1M425.5 340.5h1.1M426 346h1.1M430 337h1.1M419.5 346.5h1.1M416.5 340.5h1.1M424 328h1.1M418 332h1.1M431 340h1.1M431.5 334h1.1M421.5 337h1.1M429 345.5h1.1M423 346.5h1.1M429 348h1.1M426.5 332.5h1.1M425.5 344.5h1.1M429 335h1.1M418 328h1.1M431 330.5h1.1M424.5 348h1.1M427.5 335h1.1M428.5 348.5h1.1M428.5 334.5h1.1M426.5 327h1.1M428.5 325h1.1M418.5 342h1.1M427.5 336.5h1.1M416.5 332h1.1M431 344.5h1.1M428 326.5h1.1M424.5 336.5h1.1M421.5 329h1.1M425 339.5h1.1M428 330.5h1.1M418 329.5h1.1M422.5 336.5h1.1M425 331.5h1.1M426 325h1.1M419 332.5h1.1M424.5 329h1.1M431 339.5h1.1M423.5 344.5h1.1M434 337.5h1.1M416 332h1.1M425 340.5h1.1M429.5 339h1.1M431 331h1.1M419.5 338h1.1M420.5 334.5h1.1M423 342.5h1.1M419.5 330h1.1M426 330h1.1M426.5 327.5h1.1M433.5 340h1.1M415 333h1.1M422.5 345h1.1M432 335h1.1M427 338h1.1M421.5 341h1.1M417.5 345.5h1.1M428 334h1.1M431 327.5h1.1M430.5 343.5h1.1M432.5 336.5h1.1M429 333h1.1M427 336h1.1M427 340h1.1M428.5 345.5h1.1M421 327.5h1.1M424 328.5h1.1M430 336h1.1M421.5 346h1.1M428.5 347h1.1M425 335.5h1.1M422.5 347h1.1M429.5 338.5h1.1M428.5 345h1.1M433.5 334.5h1.1M428.5 337h1.1M430.5 329.5h1.1M424.5 332.5h1.1M429 334.5h1.1M426.5 341h1.1M429.5 326h1.1M419 339.5h1.1M430.5 331h1.1M427 341h1.1M429.5 335.5h1.1M425 348.5h1.1M432.5 338.5h1.1M420.5 341.5h1.1M429 331h1.1M432.5 340h1.1M430 343.5h1.1M420.5 326h1.1M433 333h1.1M428 345h1.1M428.5 344h1.1M428.5 344.5h1.1M426 329.5h1.1M416.5 330.5h1.1M422 330.5h1.1M417 343h1.1M429 332h1.1M425.5 337h1.1M422 329h1.1M420.5 337.5h1.1M421 329.5h1.1M418.5 335h1.1M428.5 342h1.1M427.5 347.5h1.1M417.5 335.5h1.1M416 338h1.1M425 324.5h1.1M427.5 328h1.1M424 333h1.1M426.5 348.5h1.1M423 349h1.1M419 329.5h1.1M431.5 331h1.1M431 328h1.1M428.5 343h1.1M415.5 339.5h1.1M422 336h1.1M424.5 344.5h1.1M431.5 340h1.1M401.5 289h1.1M404 343h1.1M404 304.5h1.1M401 300.5h1.1M403 324h1.1M404 329.5h1.1M404 338h1.1M408 311h1.1M402 288.5h1.1M404.5 313h1.1M407 321h1.1M401 311.5h1.1M405 332h1.1M402.5 314h1.1M407 319h1.1M406 306.5h1.1M403 291h1.1M405.5 328.5h1.1M401 298.5h1.1M400 299h1.1M402.5 301h1.1M407.5 313.5h1.1M406 311h1.1M409.5 328h1.1M405 342.5h1.1M407.5 321.5h1.1M405.5 310h1.1M403 303.5h1.1M406.5 319.5h1.1M406.5 328h1.1M403 292.5h1.1M402.5 317.5h1.1M405 297h1.1M403.5 314.5h1.1M405 335.5h1.1M409.5 319.5h1.1M404.5 340.5h1.1M406 305.5h1.1M405 308h1.1M405 303.5h1.1M409.5 325.5h1.1M406 313h1.1M410 336.5h1.1M405 294.5h1.1M407 305.5h1.1M405.5 308h1.1M402.5 314.5h1.1M407 325.5h1.1M402.5 329h1.1M409 338.5h1.1M407.5 312.5h1.1M405.5 301h1.1M405 330h1.1M401 301.5h1.1M407.5 307.5h1.1M406 303.5h1.1M407 323h1.1M404.5 305h1.1M403 331h1.1M402.5 304h1.1M407 344h1.1M406.5 312h1.1M405 293.5h1.1M403.5 311h1.1M406.5 326h1.1M400 287.5h1.1M402.5 297.5h1.1M407 325h1.1M407.5 314h1.1M400.5 287.5h1.1M410 344h1.1M401 292.5h1.1M404.5 300h1.1M408.5 315h1.1M409 338h1.1M403 299.5h1.1M404.5 320h1.1M406.5 307.5h1.1M407 331h1.1M404.5 300.5h1.1M404.5 314.5h1.1M405 298.5h1.1M399.5 293.5h1.1M404.5 337.5h1.1M399.5 289h1.1M404 334.5h1.1M403 294.5h1.1M408 322h1.1M400.5 292h1.1M408.5 325h1.1M401 287h1.1M404 303h1.1M404.5 335h1.1M407 329h1.1M403.5 306.5h1.1M406.5 327h1.1M399 288.5h1.1M406 297.5h1.1M404 298.5h1.1M408.5 334.5h1.1M408 329.5h1.1M405 321.5h1.1M405 328.5h1.1M409.5 342h1.1M409 316h1.1M406 330.5h1.1M402 315h1.1M409.5 340.5h1.1M404.5 342.5h1.1M408 334h1.1M408.5 342.5h1.1M401.5 314.5h1.1M388 339.5h1.1M387 340h1.1M390 343.5h1.1M388 340.5h1.1M386 339h1.1M391.5 345h1.1M389.5 342h1.1M386.5 338h1.1M391.5 343.5h1.1M393 344.5h1.1M390.5 342h1.1M388 341.5h1.1M388 340h1.1M387 339.5h1.1M399.5 348.5h1.1M405.5 351.5h1.1M400 349.5h1.1M401.5 351h1.1M399 349h1.1M404.5 353h1.1M400.5 350.5h1.1M405 352.5h1.1M394 347h1.1M396 348.5h1.1M395 347h1.1M397.5 349h1.1M401 351h1.1M406 352h1.1M414.5 354h1.1M407.5 352.5h1.1M405.5 352h1.1M405.5 352.5h1.1M410.5 353h1.1M413.5 353.5h1.1M407.5 353h1.1M407 353.5h1.1M397 320h1.1M394.5 328h1.1M387.5 332h1.1M394 315.5h1.1M397.5 318.5h1.1M400 316h1.1M391 326.5h1.1M387 326.5h1.1M395.5 327.5h1.1M389.5 327h1.1M394 324h1.1M396 313.5h1.1M395.5 327h1.1M399.5 313.5h1.1M392 321h1.1M398.5 321.5h1.1M392 326h1.1M389 332.5h1.1M398 321.5h1.1M400 321.5h1.1M393.5 329.5h1.1M398.5 312h1.1M392 319.5h1.1M397 319h1.1M395.5 319.5h1.1M388 326.5h1.1M391 318.5h1.1M403.5 319.5h1.1M392 319h1.1M389.5 326.5h1.1M396.5 313h1.1M394 327.5h1.1M401 322h1.1M387 334h1.1M391 329.5h1.1M395 319.5h1.1M388.5 327h1.1M403 307h1.1M400.5 322.5h1.1M392.5 324.5h1.1M395 323.5h1.1M399.5 318.5h1.1M389 325.5h1.1M395 321.5h1.1M390.5 327h1.1M399 314h1.1M404 318h1.1M398.5 313h1.1M392 332h1.1M386 332.5h1.1M387 327h1.1M403.5 311.5h1.1M393.5 324.5h1.1M397 327.5h1.1M404 312h1.1M400 317h1.1M387 329h1.1M389 331.5h1.1M396 325.5h1.1M392.5 317h1.1M387 333.5h1.1M387.5 326.5h1.1M393 332h1.1M391 330h1.1M398 314.5h1.1M387.5 334.5h1.1M404 316h1.1M388.5 333.5h1.1M393 327h1.1M387.5 336h1.1M397.5 312.5h1.1M402 321h1.1M393 318h1.1M401.5 309h1.1M402.5 319h1.1M394 323.5h1.1M403 309h1.1M404.5 313.5h1.1M388.5 325.5h1.1M403 306.5h1.1M398 318.5h1.1M404 312.5h1.1M405 308.5h1.1M388.5 328h1.1M391.5 319h1.1M394.5 321h1.1M394.5 325h1.1M393 325h1.1M402 308.5h1.1M395.5 317.5h1.1M404 318.5h1.1M396.5 320h1.1M391 332.5h1.1M388 326h1.1M396.5 315.5h1.1M397 321h1.1M403 320.5h1.1M397.5 324h1.1M404.5 307.5h1.1M400 311.5h1.1M388 328h1.1M396 328.5h1.1M398.5 310h1.1M402.5 309.5h1.1M392.5 317.5h1.1M399.5 314.5h1.1M404 316.5h1.1M404.5 312.5h1.1M401.5 308h1.1M390.5 298.5h1.1M396 303h1.1M388 297h1.1M396 302.5h1.1M389 298.5h1.1M390 299h1.1M392 300.5h1.1M398 304h1.1M403 309.5h1.1M399.5 307.5h1.1M399 305h1.1M400 306h1.1M376 302.5h1.1M381.5 307.5h1.1M379.5 310.5h1.1M375.5 310.5h1.1M381.5 310.5h1.1M376 308h1.1M379 314.5h1.1M377 306h1.1M378 312h1.1M379.5 307.5h1.1M377.5 314h1.1M378.5 313.5h1.1M374 311h1.1M374 310h1.1M378 309h1.1M377 303.5h1.1M381 310h1.1M379 302.5h1.1M379.5 308h1.1M375.5 302.5h1.1M379 306h1.1M377 309h1.1M377 306.5h1.1M377.5 309h1.1M382.5 309h1.1M377 313h1.1M377 305h1.1M372 320.5h1.1M370.5 320h1.1M370 318h1.1M372.5 321h1.1M378.5 327.5h1.1M377.5 326.5h1.1M375.5 324.5h1.1M378 328h1.1M453 271.5h1.1M457 271.5h1.1M454 271h1.1M452 271.5h1.1M457 271h1.1M455 271h1.1M458.5 270.5h1.1M459.5 271h1.1M456.5 271h1.1M462 274.5h1.1M461.5 272h1.1M461 274h1.1M463 274.5h1.1M462 280.5h1.1M461 279h1.1M463 275.5h1.1M463 277.5h1.1M461.5 279.5h1.1M461.5 278.5h1.1M462.5 282h1.1M461.5 280.5h1.1M462 281h1.1M462.5 284h1.1M463 286h1.1M463 288h1.1M463.5 285.5h1.1M464 288h1.1M464 291h1.1M462.5 285.5h1.1M462.5 286h1.1M485.5 262h1.1M487.5 264h1.1M489.5 263h1.1M486 264h1.1M484.5 264.5h1.1M485 265h1.1M489 262.5h1.1M485.5 264h1.1M485 263h1.1M485.5 262.5h1.1M484 262.5h1.1M485.5 265h1.1M485 264.5h1.1M486 261.5h1.1M485 263.5h1.1M487 261h1.1M488 261h1.1M486 265h1.1M486.5 264.5h1.1M488 262h1.1M487.5 294h1.1M489 295.5h1.1M486 290h1.1M485 290h1.1M487 292h1.1M458.5 321h1.1M447.5 316.5h1.1M451 320.5h1.1M457 319.5h1.1M449.5 316.5h1.1M454 321.5h1.1M450.5 317.5h1.1M451 324h1.1M450.5 323h1.1M459 322h1.1M452 321.5h1.1M461.5 323.5h1.1M451 320h1.1M456.5 323.5h1.1M463 323h1.1M447 317h1.1M454 318.5h1.1M446.5 321h1.1M449.5 322h1.1M448 320.5h1.1M448 318.5h1.1M456.5 322h1.1M452 324.5h1.1M452.5 321.5h1.1M458 324h1.1M445.5 320h1.1M445.5 321.5h1.1M454.5 321.5h1.1M458 320.5h1.1M449 318h1.1M447 320.5h1.1M446 316.5h1.1M446.5 319h1.1M459 323h1.1M451.5 319h1.1M448 322h1.1M456.5 322.5h1.1M448.5 319h1.1M450 318h1.1M463 322h1.1M452.5 319h1.1M456.5 323h1.1M452 324h1.1M446 316h1.1M458.5 322h1.1M444 317.5h1.1M311 304h1.1M330 309.5h1.1M314 304h1.1M315.5 299.5h1.1M324 305.5h1.1M317 301.5h1.1M312.5 303.5h1.1M329.5 306h1.1M323.5 306h1.1M319.5 311.5h1.1M328 305.5h1.1M318 313h1.1M326.5 311.5h1.1M313 309h1.1M309.5 308h1.1M324 307.5h1.1M321.5 302h1.1M321.5 300.5h1.1M310.5 312h1.1M317 302.5h1.1M326 311.5h1.1M327.5 307h1.1M317.5 301h1.1M321.5 309.5h1.1M315 305h1.1M330 301.5h1.1M314 300h1.1M313.5 305h1.1M329.5 301.5h1.1M316 308h1.1M322.5 309.5h1.1M327 301h1.1M314.5 306.5h1.1M317.5 309h1.1M323 301.5h1.1M321.5 305h1.1M323 312h1.1M317.5 302.5h1.1M313.5 312.5h1.1M325.5 300h1.1M317.5 315.5h1.1M313.5 310h1.1M325 311h1.1M311 312h1.1M321.5 311h1.1M314.5 311.5h1.1M316 307.5h1.1M312.5 309h1.1M315.5 301h1.1M325 300h1.1M317 312.5h1.1M315 310h1.1M309.5 309.5h1.1M322 307h1.1M325 313h1.1M323 304h1.1M328 311.5h1.1M325.5 301.5h1.1M330.5 305h1.1M311.5 304h1.1M311.5 305h1.1M317.5 307h1.1M321 301.5h1.1M327.5 302h1.1M319.5 308h1.1M326 307h1.1M326.5 310h1.1M320 312h1.1M329 310.5h1.1M317.5 314.5h1.1M330.5 303.5h1.1M324.5 307.5h1.1M325.5 308h1.1M317.5 300h1.1M310.5 301h1.1M324 309h1.1M313.5 306h1.1M325.5 307h1.1M315 308h1.1M324.5 310h1.1M316 313h1.1M324.5 306h1.1M313 314h1.1M324 302h1.1M322 301h1.1M328 312h1.1M324 312h1.1M329.5 305.5h1.1M317.5 310h1.1M316.5 308.5h1.1M328 301.5h1.1M330 304.5h1.1M326 303h1.1M319 305.5h1.1M324.5 305h1.1M312 307.5h1.1M319 307.5h1.1M314 305h1.1M316.5 315.5h1.1M330.5 303h1.1M316.5 303h1.1M330.5 308h1.1M311 310.5h1.1M328 310.5h1.1M315 315h1.1M314.5 306h1.1M311 302h1.1M322 302.5h1.1M325.5 309.5h1.1M324 313.5h1.1M320.5 304.5h1.1M315.5 315h1.1M312 313.5h1.1M328 301h1.1M311.5 309.5h1.1M327.5 306.5h1.1M315 312h1.1M326 307.5h1.1M323 308.5h1.1M310 306.5h1.1M314 306.5h1.1M312.5 312.5h1.1M316 303h1.1M326.5 311h1.1M321 311.5h1.1M313.5 315h1.1M314 303.5h1.1M324 314h1.1M314.5 313h1.1M328 309.5h1.1M329.5 303.5h1.1M337 304h1.1M343.5 306h1.1M341.5 305h1.1M340.5 306.5h1.1M344.5 306.5h1.1M337.5 306h1.1M336.5 304h1.1M335 304.5h1.1M331.5 304.5h1.1M340 306.5h1.1M334.5 303.5h1.1M336 304h1.1M334.5 303h1.1M347.5 305h1.1M349 306.5h1.1M351 306.5h1.1M346 306h1.1M351.5 307h1.1M345.5 306.5h1.1M354 307h1.1M347.5 307h1.1M353.5 306.5h1.1M352 307h1.1M356.5 306h1.1M358 306h1.1M355.5 306h1.1M361 308h1.1M360.5 306.5h1.1M356 307h1.1M356 307.5h1.1M317 321.5h1.1M319 319.5h1.1M316 321.5h1.1M313.5 324.5h1.1M307 329h1.1M308 327.5h1.1M309.5 327h1.1M309 327h1.1M306.5 334.5h1.1M304.5 331h1.1M306 334h1.1M309 339.5h1.1M309.5 340.5h1.1M308 337h1.1M311 342h1.1M314.5 349h1.1M311.5 344h1.1M312 345.5h1.1M316 349.5h1.1M312.5 346h1.1M329 323.5h1.1M327 323h1.1M328.5 323h1.1M322 319.5h1.1M324 321h1.1M337 331h1.1M335.5 329h1.1M336.5 331h1.1M331 326h1.1M331.5 341h1.1M338 332h1.1M337.5 332h1.1M336.5 335.5h1.1M337 333h1.1M336 334h1.1M329.5 344.5h1.1M329 343.5h1.1M326 349h1.1M326.5 349.5h1.1M330 343h1.1M324.5 356h1.1M314.5 353.5h1.1M321 352h1.1M321.5 356.5h1.1M320.5 351h1.1M317.5 355h1.1M320.5 359h1.1M324.5 351.5h1.1M326.5 353h1.1M318 361h1.1M326 356h1.1M325 358h1.1M320 361h1.1M326 354h1.1M321 350.5h1.1M322 356h1.1M316 353h1.1M322 359.5h1.1M320.5 353h1.1M322.5 354h1.1M316.5 354.5h1.1M318.5 354.5h1.1M325 351.5h1.1M327 358.5h1.1M327.5 353.5h1.1M318 353h1.1M316 357.5h1.1M323.5 360.5h1.1M322 355.5h1.1M327 359.5h1.1M320.5 353.5h1.1M327.5 355.5h1.1M318.5 351.5h1.1M324 357h1.1M326 359h1.1M323 358.5h1.1M321 351.5h1.1M327.5 358.5h1.1M319.5 357.5h1.1M324 354.5h1.1M327 355.5h1.1M321.5 355.5h1.1M325 354h1.1M315.5 355.5h1.1M322 352h1.1M315.5 354h1.1M316 355h1.1M324.5 354h1.1M317 351.5h1.1M324.5 353h1.1M316.5 353h1.1M321 357h1.1M325.5 360h1.1M325.5 357h1.1M317 355h1.1M316.5 351h1.1M324.5 358h1.1M322 353h1.1M319 355.5h1.1M319.5 353h1.1M319.5 349.5h1.1M321 360h1.1M322.5 351.5h1.1M316.5 357h1.1M318.5 352h1.1M318.5 360h1.1M319.5 355.5h1.1M320 353.5h1.1M318.5 358.5h1.1M327.5 359h1.1M322.5 361h1.1M319.5 356.5h1.1M314.5 355h1.1M322.5 356h1.1M325 352h1.1M315 353.5h1.1M321.5 358.5h1.1M318.5 359.5h1.1M326 360.5h1.1M323.5 354.5h1.1M325.5 353h1.1M325.5 360.5h1.1M342 334.5h1.1M335.5 331h1.1M337.5 333.5h1.1M338.5 332.5h1.1M340.5 334.5h1.1M334 330.5h1.1M341 334h1.1M336 332h1.1M364.5 375.5h1.1M360 376h1.1M367.5 380h1.1M360 374.5h1.1M369.5 369.5h1.1M372.5 376h1.1M364 370.5h1.1M371.5 368h1.1M362 367.5h1.1M368.5 377h1.1M370.5 378h1.1M373 368h1.1M367 370h1.1M359 370h1.1M366 371h1.1M363.5 372.5h1.1M370 374h1.1M368 369h1.1M362 376.5h1.1M372 377.5h1.1M369 379.5h1.1M364.5 368.5h1.1M359 371h1.1M369 382.5h1.1M367 366.5h1.1M370.5 381h1.1M367.5 379h1.1M361.5 369h1.1M361 379.5h1.1M370 380h1.1M372 367.5h1.1M363 378.5h1.1M370 381h1.1M368.5 379h1.1M370 380.5h1.1M368.5 372.5h1.1M366.5 369h1.1M371.5 368.5h1.1M364 380.5h1.1M367 371h1.1M365 379h1.1M364 379.5h1.1M371 370h1.1M362.5 370.5h1.1M369 371.5h1.1M367 376h1.1M367.5 368h1.1M372 368.5h1.1M364 374h1.1M369 375h1.1M360 369h1.1M373 377.5h1.1M370 368h1.1M362.5 373h1.1M361 370h1.1M365 365h1.1M371 378.5h1.1M367.5 378h1.1M367 380.5h1.1M366 370.5h1.1M369 369.5h1.1M362.5 369.5h1.1M370.5 380h1.1M361.5 368h1.1M365 376h1.1M363.5 371.5h1.1M360 373.5h1.1M373 373h1.1M373 376.5h1.1M363.5 366.5h1.1M362 371.5h1.1M368.5 378.5h1.1M369 380h1.1M366 379.5h1.1M367 378h1.1M369 373h1.1M366 380h1.1M360.5 376h1.1M373.5 377h1.1M373.5 378h1.1M365.5 380h1.1M361 367.5h1.1M363 373h1.1M369.5 379h1.1M370.5 376.5h1.1M372 369.5h1.1M367 375h1.1M367.5 366.5h1.1M367.5 375.5h1.1M362 379h1.1M361 370.5h1.1M368.5 369.5h1.1M366 369h1.1M367.5 371h1.1M362 372.5h1.1M373.5 369.5h1.1M361.5 379h1.1M360.5 370.5h1.1M365.5 378h1.1M369 374.5h1.1M361 376.5h1.1M369.5 367h1.1M362.5 368.5h1.1M367 380h1.1M372 370h1.1M365 374.5h1.1M364 365.5h1.1M363 373.5h1.1M362 369.5h1.1M371 377.5h1.1M365.5 380.5h1.1M361 373.5h1.1M364 372h1.1M364.5 376.5h1.1M367 378.5h1.1M366.5 374h1.1M369.5 368h1.1M372 372.5h1.1M360 375h1.1M369 380.5h1.1M363.5 373.5h1.1M370.5 366.5h1.1M368 380.5h1.1M370 369.5h1.1M363.5 362.5h1.1M363.5 358h1.1M363 361h1.1M363 357h1.1M364 362.5h1.1M363 361.5h1.1M372 364h1.1M370.5 356h1.1M371 353h1.1M371 354h1.1M371.5 359h1.1M370.5 353h1.1M361.5 343h1.1M362 346.5h1.1M361 345h1.1M361 344h1.1M362.5 349.5h1.1M361.5 343.5h1.1M359.5 335.5h1.1M360 341h1.1M360 339h1.1M362 344.5h1.1M363.5 352h1.1M359.5 337h1.1M389 299h1.1M396.5 304h1.1M390.5 298h1.1M387 296h1.1M394.5 303h1.1M389.5 298h1.1M394.5 303.5h1.1M391 299.5h1.1M392 302h1.1M402 309.5h1.1M401 308h1.1M399 307h1.1M398.5 306h1.1M397.5 307h1.1M405.5 313h1.1M366.5 282.5h1.1M364 281h1.1M367 282h1.1M368 283h1.1M365 281.5h1.1M364.5 280h1.1M373 290.5h1.1M370.5 287.5h1.1M367.5 284h1.1M372 288h1.1M372 289h1.1M370 285.5h1.1M376 295.5h1.1M372 291.5h1.1M375.5 297h1.1M373 291.5h1.1M379 300h1.1M378 302.5h1.1M378 302h1.1M354.5 282h1.1M350 283h1.1M348 282h1.1M372.5 219h1.1M389.5 237h1.1M380.5 215.5h1.1M366.5 225.5h1.1M388.5 228.5h1.1M367.5 217.5h1.1M381.5 228h1.1M381.5 224h1.1M365 225.5h1.1M366 226.5h1.1M372.5 214.5h1.1M372.5 231.5h1.1M363 209h1.1M390.5 230h1.1M368.5 216h1.1M375.5 213h1.1M376 218.5h1.1M373 228.5h1.1M374.5 220h1.1M371 229.5h1.1M364.5 224.5h1.1M366 205.5h1.1M382 227.5h1.1M367.5 220.5h1.1M369.5 235.5h1.1M383 232h1.1M381.5 239h1.1M387.5 220.5h1.1M383.5 221h1.1M388 232h1.1M370 217h1.1M382 238h1.1M375.5 221.5h1.1M385 230h1.1M379.5 225h1.1M367 220.5h1.1M380.5 213h1.1M387.5 226.5h1.1M373 210h1.1M364 224h1.1M388 219h1.1M370.5 224h1.1M384.5 231h1.1M378.5 236h1.1M387 224h1.1M382.5 221.5h1.1M380.5 240.5h1.1M382.5 239.5h1.1M368.5 219.5h1.1M373.5 218h1.1M389 238.5h1.1M378.5 237h1.1M368.5 209.5h1.1M375 240h1.1M369.5 226h1.1M370 223h1.1M387 220.5h1.1M368 208h1.1M378 226.5h1.1M365 220h1.1M372 228h1.1M369.5 211.5h1.1M367.5 213.5h1.1M371.5 235h1.1M387.5 233.5h1.1M376 225.5h1.1M382 224h1.1M382.5 215.5h1.1M374.5 223.5h1.1M362 213h1.1M382 217h1.1M371 208.5h1.1M381 223h1.1M370 207h1.1M377 225.5h1.1M381.5 237.5h1.1M383 224h1.1M381.5 223.5h1.1M362 213.5h1.1M385.5 226.5h1.1M388.5 227h1.1M389 220h1.1M367.5 229h1.1M388.5 222h1.1M378.5 240h1.1M389 229h1.1M379.5 209h1.1M372 210.5h1.1M367.5 214h1.1M365.5 210h1.1M389.5 229.5h1.1M373 214h1.1M386 234.5h1.1M365.5 224.5h1.1M388 232.5h1.1M365.5 217.5h1.1M384 216h1.1M373 226h1.1M376 235.5h1.1M376.5 211.5h1.1M371.5 226h1.1M382.5 221h1.1M386.5 218.5h1.1M377 232h1.1M363 216h1.1M378.5 238h1.1M370.5 226.5h1.1M376 222.5h1.1M377.5 221.5h1.1M377 227h1.1M363 220.5h1.1M366 209.5h1.1M373 238h1.1M372.5 238h1.1M389.5 221.5h1.1M366.5 226.5h1.1M375 207.5h1.1M368 211h1.1M362 216.5h1.1M361 219h1.1M368.5 213h1.1M369 215.5h1.1M370.5 219.5h1.1M366.5 208h1.1M379 222.5h1.1M374.5 218.5h1.1M388 226.5h1.1M374.5 208.5h1.1M378.5 227h1.1M389 234.5h1.1M388 225.5h1.1M375.5 215.5h1.1M384.5 235h1.1M384 228h1.1M374 218.5h1.1M381 234h1.1M371.5 211h1.1M380 216h1.1M363.5 217h1.1M366.5 210h1.1M390.5 224h1.1M373.5 214.5h1.1M368 232.5h1.1M367.5 223h1.1M384 220.5h1.1M372 209.5h1.1M368 232h1.1M385.5 238h1.1M367 222.5h1.1M374 209.5h1.1M366.5 207.5h1.1M385 220.5h1.1M367.5 225.5h1.1M387 235h1.1M378.5 218h1.1M369 212.5h1.1M364.5 227h1.1M366.5 224h1.1M367.5 227h1.1M379.5 234.5h1.1M384 226h1.1M385 240h1.1M370 225.5h1.1M372.5 233.5h1.1M378 236.5h1.1M374 220h1.1M377.5 237h1.1M374 235h1.1M390 227.5h1.1M376 215h1.1M389.5 233h1.1M389 236h1.1M379 219h1.1M388.5 218.5h1.1M370 236.5h1.1M383.5 233.5h1.1M374.5 236h1.1M373 214.5h1.1M387.5 236h1.1M367 207.5h1.1M379.5 227h1.1M363 223h1.1M385.5 227h1.1M388.5 217.5h1.1M375.5 230.5h1.1M378.5 223h1.1M362 212h1.1M375.5 211.5h1.1M364.5 222h1.1M375.5 234.5h1.1M370 221.5h1.1M386.5 218h1.1M366 215h1.1M373 212.5h1.1M362.5 220.5h1.1M376 240h1.1M370.5 228h1.1M379.5 240h1.1M387.5 239h1.1M365 217.5h1.1M385.5 224h1.1M382 229.5h1.1M362 219h1.1M387 216.5h1.1M389 218h1.1M362.5 218.5h1.1M371.5 219h1.1M371.5 221.5h1.1M364 219h1.1M363.5 222h1.1M369 234.5h1.1M388 217h1.1M373.5 212h1.1M382.5 236h1.1M381 216.5h1.1M372.5 222.5h1.1M391 232h1.1M381 236.5h1.1M374 225.5h1.1M365 217h1.1M366 224h1.1M365 215.5h1.1M372.5 215h1.1M365 220.5h1.1M376 213h1.1M380.5 233h1.1M385.5 232h1.1M376 218h1.1M370 213h1.1M384 228.5h1.1M376 209.5h1.1M377.5 231h1.1M371.5 211.5h1.1M379.5 231.5h1.1M370.5 209.5h1.1M372 230.5h1.1M365.5 223h1.1M372.5 209.5h1.1M378 215.5h1.1M378 222.5h1.1M383 240h1.1M382 234.5h1.1M380.5 226h1.1M383 211.5h1.1M360.5 218h1.1M386 230.5h1.1M371 212h1.1M388.5 236.5h1.1M370.5 230.5h1.1M363.5 221.5h1.1M364.5 212h1.1M366 231.5h1.1M387.5 220h1.1M373 232.5h1.1M369.5 210h1.1M374.5 232.5h1.1M380.5 240h1.1M371.5 207h1.1M369.5 214h1.1M382 212.5h1.1M384.5 226h1.1M375.5 224.5h1.1M376.5 230h1.1M378.5 210.5h1.1M372.5 219.5h1.1M361.5 220.5h1.1M372 232h1.1M369 235h1.1M364 226.5h1.1M375 232.5h1.1M363 220h1.1M375.5 231h1.1M382 239h1.1M375.5 237h1.1M373 209.5h1.1M381.5 223h1.1M371 206.5h1.1M388.5 226h1.1M383 228.5h1.1M380.5 232h1.1M367 233h1.1M390 238h1.1M378.5 239.5h1.1M373.5 239h1.1M379.5 220.5h1.1M367 228.5h1.1M385 232.5h1.1M388.5 221.5h1.1M376 220h1.1M381.5 214h1.1M390 232.5h1.1M375.5 212h1.1M363.5 207.5h1.1M375.5 229.5h1.1M390 227h1.1M372 221.5h1.1M369 218h1.1M366 227.5h1.1M386 238.5h1.1M370.5 213h1.1M376.5 208h1.1M379.5 229h1.1M366.5 209h1.1M378.5 210h1.1M372 224.5h1.1M368 224h1.1M367 214h1.1M387.5 232h1.1M387 237h1.1M383 229h1.1M361 217.5h1.1M380.5 222.5h1.1M372 212h1.1M383.5 234.5h1.1M385.5 232.5h1.1M387 230h1.1M372 225.5h1.1M388.5 219.5h1.1M365.5 228.5h1.1M376.5 215.5h1.1M384 238.5h1.1M377 219.5h1.1M380.5 223.5h1.1M380 223.5h1.1M385 239.5h1.1M386.5 225.5h1.1M377.5 239h1.1M370.5 222h1.1M362.5 224h1.1M386 224h1.1M379.5 229.5h1.1M380 218.5h1.1M370.5 223h1.1M369.5 237h1.1M372.5 212h1.1M377.5 236h1.1M376.5 220h1.1M363.5 223h1.1M371.5 216h1.1M386 223h1.1M387.5 228.5h1.1M370.5 207h1.1M366 220h1.1M382.5 217h1.1M370 233h1.1M376 221h1.1M366 217.5h1.1M384 218h1.1M381 228h1.1M386 226.5h1.1M384 222.5h1.1M374.5 212h1.1M361 216h1.1M365 209.5h1.1M376 208h1.1M388.5 235.5h1.1M364.5 221h1.1M383 226h1.1M388.5 224h1.1M382 237.5h1.1M384.5 230h1.1M381.5 236h1.1M385 216h1.1M372 226.5h1.1M367.5 223.5h1.1M389 224h1.1M368 207.5h1.1M378 239.5h1.1M383 215.5h1.1M391 226.5h1.1M383.5 220h1.1M385.5 219.5h1.1M362.5 221.5h1.1M375.5 235.5h1.1M361.5 218h1.1M366 229.5h1.1M370 231h1.1M381 237h1.1M367.5 221.5h1.1M377 231h1.1M376 229h1.1M370 222.5h1.1M370.5 216h1.1M382.5 227.5h1.1M388 220h1.1M368 222h1.1M374.5 237.5h1.1M387 233h1.1M364 222.5h1.1M375 238.5h1.1M386.5 231h1.1M373 239.5h1.1M383 227.5h1.1M385.5 234h1.1M365 209h1.1M380.5 231.5h1.1M372 210h1.1M377 238.5h1.1M365.5 224h1.1M386.5 219.5h1.1M362.5 217.5h1.1M376.5 231.5h1.1M375 238h1.1M379 221.5h1.1M382 229h1.1M373.5 226.5h1.1M373 225.5h1.1M370.5 212.5h1.1M364.5 220.5h1.1M370.5 208h1.1M368.5 217h1.1M371 209.5h1.1M381.5 221h1.1M372.5 215.5h1.1M367 230h1.1M385.5 237.5h1.1M385.5 226h1.1M380 211h1.1M376 222h1.1M389 226.5h1.1M377.5 214h1.1M374.5 229h1.1M389.5 224.5h1.1M369 211.5h1.1M380.5 217.5h1.1M363.5 214.5h1.1M371 228h1.1M365.5 212.5h1.1M373.5 212.5h1.1M371.5 236h1.1M375 235h1.1M370.5 237h1.1M381.5 220h1.1M381 231h1.1M387.5 237h1.1M375 223h1.1M376.5 222.5h1.1M384 221h1.1M373.5 238.5h1.1M386.5 215.5h1.1M370.5 236.5h1.1M365 222h1.1M389.5 225h1.1M371.5 217h1.1M365.5 229.5h1.1M373.5 217h1.1M388.5 238h1.1M385 216.5h1.1M377 214h1.1M376 224.5h1.1M375 227.5h1.1M373 227h1.1M378.5 220.5h1.1M384 220h1.1M367 208.5h1.1M379 211.5h1.1M361.5 215.5h1.1M383 218.5h1.1M384 238h1.1M388 218h1.1M386.5 238h1.1M387.5 234h1.1M369 220.5h1.1M371 221h1.1M382 228h1.1M370 233.5h1.1M381 211h1.1M367.5 224.5h1.1M379.5 236h1.1M376.5 240.5h1.1M387 215h1.1M376.5 237h1.1M378 219.5h1.1M383.5 222h1.1M386 218h1.1M365.5 215.5h1.1M386 225h1.1M364.5 206.5h1.1M366.5 208.5h1.1M376.5 223h1.1M372.5 208.5h1.1M382 235h1.1M362.5 212h1.1M374 222.5h1.1M382 217.5h1.1M365.5 227.5h1.1M367.5 212h1.1M361 217h1.1M366.5 223.5h1.1M365.5 206h1.1M378.5 215h1.1M383.5 229.5h1.1M363 209.5h1.1M370.5 228.5h1.1M367.5 226.5h1.1M378 217.5h1.1M363 224.5h1.1M389.5 234.5h1.1M385 237h1.1M363.5 217.5h1.1M381 213h1.1M387 220h1.1M369 220h1.1M383.5 226.5h1.1M391.5 227.5h1.1M382.5 222h1.1M373 220h1.1M384 214h1.1M364.5 225h1.1M376.5 236h1.1M389 225h1.1M364 222h1.1M369.5 222h1.1M389.5 235h1.1M368 215h1.1M383.5 216h1.1M372 219.5h1.1M376.5 215h1.1M369.5 233.5h1.1M372.5 234h1.1M391 229.5h1.1M389.5 227h1.1M385 234.5h1.1M378 211.5h1.1M391.5 229h1.1M360.5 217.5h1.1M372 207.5h1.1M385 234h1.1M376.5 231h1.1M388.5 232h1.1M386 230h1.1M362 216h1.1M372.5 207.5h1.1M386 218.5h1.1M369.5 207.5h1.1M355.5 181h1.1M358 187h1.1M355 177.5h1.1M360 190.5h1.1M359 190h1.1M355.5 181.5h1.1M355 179.5h1.1M358.5 186h1.1M357.5 187h1.1M360 189.5h1.1M355.5 182h1.1M358 185.5h1.1M359.5 190.5h1.1M357 182.5h1.1M355 180.5h1.1M355 180h1.1M359 186.5h1.1M354 177h1.1M365 200h1.1M362 194.5h1.1M363 197h1.1M361.5 194.5h1.1M363.5 196.5h1.1M365.5 203.5h1.1M363.5 201h1.1M366 204h1.1M365.5 202.5h1.1M360 192h1.1M363.5 198.5h1.1M361 193.5h1.1M363 197.5h1.1M363 198h1.1M361 195h1.1M363.5 200.5h1.1M347 203.5h1.1M348.5 207.5h1.1M344 206.5h1.1M344.5 207h1.1M345.5 204.5h1.1M340.5 204.5h1.1M348.5 209.5h1.1M346.5 209h1.1M349 206h1.1M346.5 207.5h1.1M344 205h1.1M352 205.5h1.1M349.5 204.5h1.1M345.5 208h1.1M341.5 207.5h1.1M340 204.5h1.1M350.5 210h1.1M344.5 204.5h1.1M351.5 205h1.1M349.5 206.5h1.1M346 204h1.1M351 208.5h1.1M346 204.5h1.1M346.5 203.5h1.1M347 206.5h1.1M351 205h1.1M351.5 207h1.1M348 205.5h1.1M350 209h1.1M346.5 205.5h1.1M343.5 205h1.1M346.5 206.5h1.1M342 205h1.1M350 205.5h1.1M348 204.5h1.1M350 206.5h1.1M349 207h1.1M346 206h1.1M352.5 206.5h1.1M330.5 222.5h1.1M326.5 220.5h1.1M330.5 221.5h1.1M327 222.5h1.1M329 222.5h1.1M326.5 222h1.1M328 223h1.1M328 222.5h1.1M329 221.5h1.1M327.5 222h1.1M329 223h1.1M328.5 220.5h1.1M416.5 201.5h1.1M417 203h1.1M417 205h1.1M416 204.5h1.1M415 207h1.1M416 203.5h1.1M415.5 206.5h1.1M416.5 202h1.1M416 202.5h1.1M442.5 192h1.1M444 190.5h1.1M445 187.5h1.1M445 189.5h1.1M443 189h1.1M444.5 193h1.1M448 189h1.1M447.5 189h1.1M446.5 190.5h1.1M445.5 191h1.1M445 188h1.1M445 192.5h1.1M447 189.5h1.1M442 191.5h1.1M446.5 191h1.1M445 193h1.1M445.5 188h1.1M446 189h1.1M367 243.5h1.1M374 245h1.1M374 254h1.1M372.5 254h1.1M386.5 252.5h1.1M388 252.5h1.1M383 244h1.1M371 250.5h1.1M384.5 251.5h1.1M387 263h1.1M365 239.5h1.1M371 246h1.1M366.5 240.5h1.1M384 257.5h1.1M365 253.5h1.1M384.5 249h1.1M383.5 248.5h1.1M377.5 251.5h1.1M384 262.5h1.1M380.5 254h1.1M370.5 246.5h1.1M387.5 257.5h1.1M385.5 254.5h1.1M386 252.5h1.1M385.5 258.5h1.1M370.5 250.5h1.1M381 262h1.1M372.5 260h1.1M389 242h1.1M382 244h1.1M370 245h1.1M376.5 242.5h1.1M379.5 261.5h1.1M372.5 248.5h1.1M390 258h1.1M389.5 250.5h1.1M386.5 259h1.1M385 254h1.1M383.5 264.5h1.1M369 257.5h1.1M390 256.5h1.1M376 264.5h1.1M391 253.5h1.1M373 252.5h1.1M376.5 250.5h1.1M366.5 243.5h1.1M364.5 250.5h1.1M368.5 239.5h1.1M380.5 257.5h1.1M384 245h1.1M382 246h1.1M379 261.5h1.1M369.5 258.5h1.1M372.5 240.5h1.1M383 253h1.1M380.5 246.5h1.1M377.5 265.5h1.1M375 252h1.1M389 258.5h1.1M369 256h1.1M385 260h1.1M383 249h1.1M376 243h1.1M390 241h1.1M372 245.5h1.1M382 246.5h1.1M368 240.5h1.1M386.5 250h1.1M371 256h1.1M368 258h1.1M371 259.5h1.1M390.5 243h1.1M387 253h1.1M374.5 239.5h1.1M384 256.5h1.1M378 248.5h1.1M372.5 258h1.1M382.5 262h1.1M370 260h1.1M369.5 241.5h1.1M389 247.5h1.1M383 264h1.1M390 247.5h1.1M363 239h1.1M387 248h1.1M377 263h1.1M380 245h1.1M390 238.5h1.1M381.5 246h1.1M368 247h1.1M380 248h1.1M386.5 248.5h1.1M368 248h1.1M390 249.5h1.1M386.5 264.5h1.1M370.5 243.5h1.1M367.5 248h1.1M372 250.5h1.1M379.5 263.5h1.1M368.5 239h1.1M364.5 241.5h1.1M363.5 243h1.1M379.5 254h1.1M377.5 259h1.1M388 257.5h1.1M382 247.5h1.1M388.5 246.5h1.1M370.5 256h1.1M385.5 253h1.1M385 247.5h1.1M373 250h1.1M376.5 245h1.1M380.5 263.5h1.1M383 246h1.1M374 265.5h1.1M373.5 256.5h1.1M377.5 242h1.1M383 244.5h1.1M383 247h1.1M373.5 250.5h1.1M381 244h1.1M368.5 242h1.1M373.5 251.5h1.1M365.5 249h1.1M379 261h1.1M370 258.5h1.1M376.5 244.5h1.1M368.5 241.5h1.1M364.5 248.5h1.1M384 257h1.1M385.5 259h1.1M374.5 240.5h1.1M374.5 243.5h1.1M385.5 251h1.1M372.5 263h1.1M380 240.5h1.1M377 240.5h1.1M384.5 246h1.1M388.5 261h1.1M380 253h1.1M368.5 244.5h1.1M377 265h1.1M375.5 263.5h1.1M381.5 262h1.1M372 246.5h1.1M379 247h1.1M377 263.5h1.1M376.5 246h1.1M371 249.5h1.1M384.5 254.5h1.1M385.5 260h1.1M372 248h1.1M373.5 264.5h1.1M368 258.5h1.1M368 244h1.1M367.5 242.5h1.1M389 242.5h1.1M371.5 258h1.1M389.5 254h1.1M374 246.5h1.1M365 242h1.1M374.5 256.5h1.1M385 248h1.1M387 242.5h1.1M384 246.5h1.1M379.5 255.5h1.1M372.5 253h1.1M380.5 245.5h1.1M381 248.5h1.1M389 246h1.1M381.5 246.5h1.1M390 239.5h1.1M384.5 265.5h1.1M373.5 246.5h1.1M368.5 258.5h1.1M387.5 261.5h1.1M378 242h1.1M383.5 262h1.1M378.5 262h1.1M371.5 242.5h1.1M371 245.5h1.1M366 249.5h1.1M375.5 249.5h1.1M375 250h1.1M369 239h1.1M380.5 257h1.1M379 245.5h1.1M381.5 260.5h1.1M372 262.5h1.1M385 256.5h1.1M366.5 244h1.1M376.5 253.5h1.1M391 247.5h1.1M373 243.5h1.1M375 248h1.1M368.5 247.5h1.1M376.5 240h1.1M365 252h1.1M386.5 254.5h1.1M377 260h1.1M374 251.5h1.1M391.5 254.5h1.1M381 255.5h1.1M362 238.5h1.1M385 243h1.1M383.5 246.5h1.1M369 249h1.1M376.5 251h1.1M375 253h1.1M387 255h1.1M373 265h1.1M365 243h1.1M388 243.5h1.1M382.5 263.5h1.1M386.5 253.5h1.1M371.5 241.5h1.1M381.5 259h1.1M371 253h1.1M385 252.5h1.1M364.5 248h1.1M371.5 262h1.1M373 251h1.1M381 239.5h1.1M373.5 258h1.1M372 250h1.1M373 248.5h1.1M369 248.5h1.1M388.5 247.5h1.1M381 258h1.1M368.5 246.5h1.1M387 243.5h1.1M370.5 255h1.1M378 249.5h1.1M387 260.5h1.1M366.5 248h1.1M384.5 258h1.1M372 253h1.1M378.5 258.5h1.1M382 258h1.1M379.5 259.5h1.1M374.5 244.5h1.1M363 240h1.1M370 259h1.1M383 248.5h1.1M370.5 248h1.1M373.5 263.5h1.1M377.5 249h1.1M374.5 241.5h1.1M377.5 252h1.1M369.5 253h1.1M378 260.5h1.1M390 244h1.1M383.5 242.5h1.1M383 250.5h1.1M367 253h1.1M383 259h1.1M371.5 261h1.1M382 269h1.1M378 259h1.1M378 265.5h1.1M376.5 261.5h1.1M376 262h1.1M385 265.5h1.1M384 266.5h1.1M380 263.5h1.1M373 263.5h1.1M376.5 266.5h1.1M382 261h1.1M376.5 267.5h1.1M384.5 261h1.1M383 261.5h1.1M379 268.5h1.1M377 261h1.1M373.5 265.5h1.1M375.5 267h1.1M375 261.5h1.1M378 261h1.1M374.5 261h1.1M380.5 269h1.1M382.5 267h1.1M376.5 262h1.1M380 265h1.1M376 264h1.1M376.5 259.5h1.1M375.5 259h1.1M374.5 265h1.1M373.5 261.5h1.1M372 264.5h1.1M381.5 263.5h1.1M379 265h1.1M379 266h1.1M384 267h1.1M383 265.5h1.1M380.5 268.5h1.1M376 267h1.1M373 267h1.1M379.5 266.5h1.1M384 268h1.1M373 261h1.1M378 266h1.1M372 265h1.1M373.5 267h1.1M385 266h1.1M376 263h1.1M380 267.5h1.1M380 260h1.1M385.5 264.5h1.1M378.5 269.5h1.1M379.5 267.5h1.1M379.5 266h1.1M379 264h1.1M377 259h1.1M376.5 269h1.1M380.5 264.5h1.1M374 263h1.1M373 262.5h1.1M382 260h1.1M374 260.5h1.1M373.5 260h1.1M375 259.5h1.1M379 260.5h1.1M379 263.5h1.1M378.5 262.5h1.1M382 263h1.1M374.5 266.5h1.1M379 269.5h1.1M376 258.5h1.1M381 267.5h1.1M374.5 265.5h1.1M384 261h1.1M380 267h1.1M377.5 270h1.1M376 268.5h1.1M377.5 266.5h1.1M380 266.5h1.1M379 263h1.1M374 266h1.1M375.5 261.5h1.1M374.5 266h1.1M379 267.5h1.1M379 259h1.1M379 268h1.1M363 201.5h1.1M365 203h1.1M363.5 201.5h1.1M363.5 202h1.1M362.5 199h1.1M357.5 196.5h1.1M361 198h1.1M359.5 198h1.1M356.5 196.5h1.1M357 197h1.1M360.5 198h1.1M407.5 227h1.1M399 239.5h1.1M413 239h1.1M416 231h1.1M396 229h1.1M428.5 226h1.1M402 219h1.1M416 245.5h1.1M431 226h1.1M442 248.5h1.1M417 227.5h1.1M423 240.5h1.1M431.5 244.5h1.1M398 233.5h1.1M429.5 250.5h1.1M393.5 216.5h1.1M394 227h1.1M403.5 233.5h1.1M420.5 236.5h1.1M404.5 223h1.1M442 226.5h1.1M397.5 236h1.1M436 243h1.1M407.5 242h1.1M392 221h1.1M401.5 221.5h1.1M417.5 234.5h1.1M393.5 232.5h1.1M439.5 237h1.1M432.5 237.5h1.1M419.5 247.5h1.1M398 231.5h1.1M404.5 245h1.1M408.5 247h1.1M410.5 247.5h1.1M421 235h1.1M400 228h1.1M422 224.5h1.1M410.5 245h1.1M432.5 227.5h1.1M419 240h1.1M436 244.5h1.1M431 234.5h1.1M427.5 240h1.1M419 233.5h1.1M417 246.5h1.1M435.5 248.5h1.1M393.5 220.5h1.1M435 238.5h1.1M403 241h1.1M417.5 237.5h1.1M420 247.5h1.1M435.5 238.5h1.1M428.5 242.5h1.1M439.5 232h1.1M391.5 222.5h1.1M429 228h1.1M395.5 228h1.1M430 224h1.1M409 245.5h1.1M433.5 250.5h1.1M416 244h1.1M403 219.5h1.1M432 236.5h1.1M434.5 245.5h1.1M438.5 227h1.1M413 230.5h1.1M399 225h1.1M420.5 228.5h1.1M401.5 226h1.1M426 250h1.1M414 243.5h1.1M419.5 239.5h1.1M429 235h1.1M398.5 234h1.1M437 242.5h1.1M405.5 238h1.1M434 229.5h1.1M391.5 217h1.1M437.5 240.5h1.1M396.5 240h1.1M420 232.5h1.1M407 225h1.1M432.5 245.5h1.1M429.5 232.5h1.1M400.5 225.5h1.1M432.5 242.5h1.1M399.5 235.5h1.1M393 227h1.1M404 232.5h1.1M432.5 227h1.1M435 231.5h1.1M438.5 245.5h1.1M435 246.5h1.1M438 226h1.1M403.5 244.5h1.1M405 249.5h1.1M418 223h1.1M430 246h1.1M416.5 245h1.1M414.5 246h1.1M401 238.5h1.1M394.5 239h1.1M435.5 241.5h1.1M407 235.5h1.1M395 241.5h1.1M412.5 240.5h1.1M410.5 220.5h1.1M392.5 230.5h1.1M427 234h1.1M404 226h1.1M412 243h1.1M410 241.5h1.1M429 232h1.1M426 230h1.1M416.5 226.5h1.1M403 226h1.1M436.5 248h1.1M427.5 237h1.1M401.5 239h1.1M438 228.5h1.1M413 237.5h1.1M411.5 225.5h1.1M426 247h1.1M443.5 225h1.1M399.5 220h1.1M412.5 250.5h1.1M400 242.5h1.1M422.5 232h1.1M417 239.5h1.1M419 238h1.1M398.5 224h1.1M430.5 248.5h1.1M434 224.5h1.1M440 247.5h1.1M418.5 225h1.1M394 218h1.1M392 236h1.1M401.5 229.5h1.1M395 233h1.1M409 224h1.1M426.5 222.5h1.1M393.5 233.5h1.1M426.5 246h1.1M409 225.5h1.1M429 228.5h1.1M433 248h1.1M427 249.5h1.1M427 225.5h1.1M419 224.5h1.1M416.5 225h1.1M415 228h1.1M432 248.5h1.1M416.5 240h1.1M422 244.5h1.1M414 219.5h1.1M424.5 223.5h1.1M424.5 249.5h1.1M397 217h1.1M412 226h1.1M417 232.5h1.1M395.5 239.5h1.1M396 224.5h1.1M434.5 231.5h1.1M418.5 224.5h1.1M392.5 236.5h1.1M410.5 237.5h1.1M411 223.5h1.1M403 227.5h1.1M432 243.5h1.1M433 243h1.1M409.5 240.5h1.1M406 222h1.1M394 233h1.1M413 224h1.1M420.5 234h1.1M400.5 221h1.1M418 233.5h1.1M405 222.5h1.1M418 239.5h1.1M397 239.5h1.1M421 247h1.1M417 237.5h1.1M436.5 235h1.1M400.5 246h1.1M396.5 237h1.1M443 227.5h1.1M409 241.5h1.1M425 248h1.1M406 237.5h1.1M440 233h1.1M428.5 224h1.1M422.5 251.5h1.1M435 229.5h1.1M426.5 245.5h1.1M428 231.5h1.1M431.5 247.5h1.1M430.5 236.5h1.1M422.5 229.5h1.1M423.5 234.5h1.1M433.5 239.5h1.1M434.5 235.5h1.1M421.5 237.5h1.1M436 230.5h1.1M430 246.5h1.1M424 232h1.1M441.5 238.5h1.1M429.5 244.5h1.1M435.5 242.5h1.1M430.5 237h1.1M425.5 235h1.1M432 247.5h1.1M432.5 232.5h1.1M436 239h1.1M427 236.5h1.1M426 234h1.1M437.5 243h1.1M430 236h1.1M423 239.5h1.1M429.5 242.5h1.1M430.5 242.5h1.1M435 228.5h1.1M428 243h1.1M423.5 241h1.1M431.5 229.5h1.1M421.5 236h1.1M434.5 223.5h1.1M433.5 236.5h1.1M434.5 224.5h1.1M429 225.5h1.1M428.5 231h1.1M428 225.5h1.1M440.5 233.5h1.1M434 245.5h1.1M429 243h1.1M430.5 232.5h1.1M434.5 246.5h1.1M424.5 233h1.1M431 232.5h1.1M436 236.5h1.1M434.5 234.5h1.1M431.5 237h1.1M428 226h1.1M431.5 243h1.1M425.5 237.5h1.1M438.5 227.5h1.1M397 240.5h1.1M397.5 239h1.1M396 241.5h1.1M398 239h1.1M394 243h1.1M402 240h1.1M399.5 239h1.1M399.5 239.5h1.1M403 240.5h1.1M400 239h1.1M403 242.5h1.1M403 245.5h1.1M403 242h1.1M403.5 241.5h1.1M404 242h1.1M403.5 240.5h1.1M397 248.5h1.1M396 248.5h1.1M401.5 249h1.1M399 248h1.1M399.5 249h1.1M408 223.5h1.1M412.5 218.5h1.1M409.5 222.5h1.1M406 219.5h1.1M406 220h1.1M405.5 222h1.1M409.5 223.5h1.1M412.5 220.5h1.1M409 221h1.1M406.5 222.5h1.1M408 221h1.1M408 219h1.1M410.5 223.5h1.1M411 220h1.1M410.5 221h1.1M406.5 223h1.1M412 222h1.1M412 223.5h1.1M406.5 222h1.1M407 218h1.1M413 221h1.1M407.5 223.5h1.1M413.5 221.5h1.1M411 219h1.1M402.5 242.5h1.1M402.5 245h1.1M401 248.5h1.1M401.5 251h1.1M402.5 248h1.1M401.5 249.5h1.1M403 241.5h1.1M402 244.5h1.1M404.5 240h1.1M411.5 233h1.1M405.5 239h1.1M404 239h1.1M412 232h1.1M412.5 233h1.1M426.5 221.5h1.1M426.5 220.5h1.1M425 222h1.1M433 220.5h1.1M428.5 221.5h1.1M440.5 225h1.1M440 225.5h1.1M438.5 225h1.1M441 225.5h1.1M443 236.5h1.1M442.5 231.5h1.1M441.5 233h1.1M442.5 232.5h1.1M441.5 227h1.1M441 227.5h1.1M436.5 245.5h1.1M439 242h1.1M443 238.5h1.1M440 243h1.1M439 243.5h1.1M437.5 244.5h1.1M428.5 250h1.1M431 249h1.1M434 247h1.1M426.5 251h1.1M427 251.5h1.1M430 250h1.1M339 281h1.1M342.5 280h1.1M339.5 281.5h1.1M339.5 281h1.1M343.5 278.5h1.1M338.5 281.5h1.1M348.5 275.5h1.1M347 276.5h1.1M350.5 273.5h1.1M346.5 276.5h1.1M349 275h1.1M349 274.5h1.1M345.5 277h1.1M361 223h1.1M356 226h1.1M360.5 223.5h1.1M360 223.5h1.1M351 229.5h1.1M354.5 227.5h1.1M355.5 227h1.1M353 229h1.1M374.5 269.5h1.1M373.5 270h1.1M373.5 270.5h1.1M374 269.5h1.1M375.5 268h1.1M361 274.5h1.1M366 271h1.1M363 274h1.1M366.5 271h1.1M373.5 269.5h1.1M363 273h1.1M373 270h1.1M373.5 269h1.1M370 270h1.1M360 273.5h1.1M377.5 268h1.1M367.5 270.5h1.1M361.5 274h1.1M363.5 272.5h1.1M374.5 268.5h1.1M370.5 271h1.1M378.5 268h1.1M364.5 273.5h1.1M347.5 276.5h1.1M353.5 275.5h1.1M357 275h1.1M350.5 276h1.1M342 277.5h1.1M345.5 277.5h1.1M349.5 277h1.1M346 276.5h1.1M340 278h1.1M355 275h1.1M349.5 275.5h1.1M344.5 276.5h1.1M357.5 275h1.1M349 277h1.1M341 278h1.1M351.5 277h1.1M350 276.5h1.1M356.5 274.5h1.1M354 274.5h1.1M345.5 278h1.1M357.5 274.5h1.1M348 276.5h1.1M340 279h1.1M381.5 269.5h1.1M389 273.5h1.1M381.5 270.5h1.1M382 271h1.1M384 271.5h1.1M386 272h1.1M391 275.5h1.1M384.5 272h1.1M384.5 273h1.1M380 269.5h1.1M381 269.5h1.1M381.5 269h1.1M380 268.5h1.1M391 277.5h1.1M384 271h1.1M383 270.5h1.1M385.5 272h1.1M389.5 276.5h1.1M383.5 271.5h1.1M382.5 271h1.1M384 270.5h1.1M384 272h1.1M392.5 278.5h1.1M406 284h1.1M395 279h1.1M398.5 280h1.1M395.5 280.5h1.1M400 282.5h1.1M395 279.5h1.1M404 285h1.1M402 283.5h1.1M399.5 280h1.1M394.5 279.5h1.1M395.5 278.5h1.1M396 278.5h1.1M399 281.5h1.1M404.5 283.5h1.1M399.5 281.5h1.1M394.5 278.5h1.1M392.5 276.5h1.1M397.5 281h1.1M399.5 280.5h1.1M398 281h1.1M375.5 281.5h1.1M376.5 274.5h1.1M377 276h1.1M377 277.5h1.1M378.5 269h1.1M376.5 276h1.1M377 277h1.1M375.5 282h1.1M375.5 280.5h1.1M378.5 272.5h1.1M374.5 290h1.1M376 292h1.1M375.5 293.5h1.1M376 288.5h1.1M376 292.5h1.1M374.5 296h1.1M375.5 294.5h1.1M376.5 285.5h1.1M375 294h1.1M375.5 286.5h1.1M375.5 291.5h1.1" stroke="#8a8a8a" stroke-width="1.1" fill="none"/>
<circle cx="541.7" cy="189.45" r="2.6" fill="#8e8e8e"/>
<text x="552.5" y="192.35" font-size="8.1" text-anchor="start" fill="#222" font-weight="normal" stroke="#222" stroke-width="0.3" >Progenitor&#8722;like</text>
<circle cx="541.7" cy="198.92" r="2.6" fill="#8e8e8e"/>
<text x="552.5" y="201.82" font-size="8.1" text-anchor="start" fill="#222" font-weight="normal" stroke="#222" stroke-width="0.3" >Endocrine</text>
<circle cx="541.7" cy="208.39" r="2.6" fill="#8e8e8e"/>
<text x="552.5" y="211.29" font-size="8.1" text-anchor="start" fill="#222" font-weight="normal" stroke="#222" stroke-width="0.3" >Mucus producing</text>
<circle cx="541.7" cy="217.85999999999999" r="2.6" fill="#8e8e8e"/>
<text x="552.5" y="220.76" font-size="8.1" text-anchor="start" fill="#222" font-weight="normal" stroke="#222" stroke-width="0.3" >EC1</text>
<circle cx="541.7" cy="227.32999999999998" r="2.6" fill="#8e8e8e"/>
<text x="552.5" y="230.23" font-size="8.1" text-anchor="start" fill="#222" font-weight="normal" stroke="#222" stroke-width="0.3" >EC2</text>
<circle cx="541.7" cy="236.79999999999998" r="2.6" fill="#8e8e8e"/>
<text x="552.5" y="239.7" font-size="8.1" text-anchor="start" fill="#222" font-weight="normal" stroke="#222" stroke-width="0.3" >LRE</text>
<circle cx="541.7" cy="246.26999999999998" r="2.6" fill="#8e8e8e"/>
<text x="552.5" y="249.17" font-size="8.1" text-anchor="start" fill="#222" font-weight="normal" stroke="#222" stroke-width="0.3" >Best4</text>
<circle cx="541.7" cy="255.74" r="2.6" fill="#8e8e8e"/>
<text x="552.5" y="258.64" font-size="8.1" text-anchor="start" fill="#222" font-weight="normal" stroke="#222" stroke-width="0.3" >Foregut epithelium</text>
<circle cx="541.7" cy="265.21" r="2.6" fill="#8e8e8e"/>
<text x="552.5" y="268.10999999999996" font-size="8.1" text-anchor="start" fill="#222" font-weight="normal" stroke="#222" stroke-width="0.3" >Ionocyte</text>
<circle cx="541.7" cy="274.68" r="2.6" fill="#8e8e8e"/>
<text x="552.5" y="277.58" font-size="8.1" text-anchor="start" fill="#222" font-weight="normal" stroke="#222" stroke-width="0.3" >Cycling</text>
<circle cx="541.7" cy="284.15" r="2.6" fill="#8e8e8e"/>
<text x="552.5" y="287.04999999999995" font-size="8.1" text-anchor="start" fill="#222" font-weight="normal" stroke="#222" stroke-width="0.3" >Leukocyte</text>
<circle cx="541.7" cy="293.62" r="2.6" fill="#8e8e8e"/>
<text x="552.5" y="296.52" font-size="8.1" text-anchor="start" fill="#222" font-weight="normal" stroke="#222" stroke-width="0.3" >Stromal</text>
<circle cx="541.7" cy="303.09000000000003" r="2.6" fill="#8e8e8e"/>
<text x="552.5" y="305.99" font-size="8.1" text-anchor="start" fill="#222" font-weight="normal" stroke="#222" stroke-width="0.3" >Vascular Endothelial</text>
<circle cx="541.7" cy="312.56" r="2.6" fill="#8e8e8e"/>
<text x="552.5" y="315.46" font-size="8.1" text-anchor="start" fill="#222" font-weight="normal" stroke="#222" stroke-width="0.3" >Vascular Smooth Muscle</text>
<circle cx="653.5" cy="189.45" r="2.6" fill="#8e8e8e"/>
<text x="664" y="192.35" font-size="8.1" text-anchor="start" fill="#222" font-weight="normal" stroke="#222" stroke-width="0.3" >Muscle1</text>
<circle cx="653.5" cy="198.92" r="2.6" fill="#8e8e8e"/>
<text x="664" y="201.82" font-size="8.1" text-anchor="start" fill="#222" font-weight="normal" stroke="#222" stroke-width="0.3" >Muscle2</text>
<circle cx="653.5" cy="208.39" r="2.6" fill="#8e8e8e"/>
<text x="664" y="211.29" font-size="8.1" text-anchor="start" fill="#222" font-weight="normal" stroke="#222" stroke-width="0.3" >Neuronal</text>
<circle cx="653.5" cy="217.85999999999999" r="2.6" fill="#8e8e8e"/>
<text x="664" y="220.76" font-size="8.1" text-anchor="start" fill="#222" font-weight="normal" stroke="#222" stroke-width="0.3" >Hepatocyte</text>
<circle cx="653.5" cy="227.32999999999998" r="2.6" fill="#8e8e8e"/>
<text x="664" y="230.23" font-size="8.1" text-anchor="start" fill="#222" font-weight="normal" stroke="#222" stroke-width="0.3" >Pancreas</text>
<circle cx="653.5" cy="236.79999999999998" r="2.6" fill="#8e8e8e"/>
<text x="664" y="239.7" font-size="8.1" text-anchor="start" fill="#222" font-weight="normal" stroke="#222" stroke-width="0.3" >Epidermis</text>
<circle cx="653.5" cy="246.26999999999998" r="2.6" fill="#8e8e8e"/>
<text x="664" y="249.17" font-size="8.1" text-anchor="start" fill="#222" font-weight="normal" stroke="#222" stroke-width="0.3" >Fin mesenchyme</text>
<circle cx="653.5" cy="255.74" r="2.6" fill="#8e8e8e"/>
<text x="664" y="258.64" font-size="8.1" text-anchor="start" fill="#222" font-weight="normal" stroke="#222" stroke-width="0.3" >Unknown1</text>
<circle cx="653.5" cy="265.21" r="2.6" fill="#8e8e8e"/>
<text x="664" y="268.10999999999996" font-size="8.1" text-anchor="start" fill="#222" font-weight="normal" stroke="#222" stroke-width="0.3" >Unknown2</text>
<circle cx="653.5" cy="274.68" r="2.6" fill="#8e8e8e"/>
<text x="664" y="277.58" font-size="8.1" text-anchor="start" fill="#222" font-weight="normal" stroke="#222" stroke-width="0.3" >Unknown3</text>
<circle cx="653.5" cy="284.15" r="2.6" fill="#8e8e8e"/>
<text x="664" y="287.04999999999995" font-size="8.1" text-anchor="start" fill="#222" font-weight="normal" stroke="#222" stroke-width="0.3" >Unknown4</text>
<circle cx="653.5" cy="293.62" r="2.6" fill="#8e8e8e"/>
<text x="664" y="296.52" font-size="8.1" text-anchor="start" fill="#222" font-weight="normal" stroke="#222" stroke-width="0.3" >Unknown5</text>
<circle cx="653.5" cy="303.09000000000003" r="2.6" fill="#8e8e8e"/>
<text x="664" y="305.99" font-size="8.1" text-anchor="start" fill="#222" font-weight="normal" stroke="#222" stroke-width="0.3" >Unknown6</text>
<text x="3.5" y="446.5" font-size="17.5" text-anchor="start" fill="#000" font-weight="bold" >c</text>
<path d="M57.5 452 L57.5 651 L388 651" fill="none" stroke="#222" stroke-width="1.2"/>
<text x="52" y="655.0" font-size="12.5" text-anchor="end" fill="#333" font-weight="normal" >0</text>
<line x1="55" y1="650.5" x2="57.5" y2="650.5" stroke="#333" stroke-width="0.8"/>
<text x="52" y="589.5" font-size="12.5" text-anchor="end" fill="#333" font-weight="normal" >5</text>
<line x1="55" y1="585" x2="57.5" y2="585" stroke="#333" stroke-width="0.8"/>
<text x="52" y="524.0" font-size="12.5" text-anchor="end" fill="#333" font-weight="normal" >10</text>
<line x1="55" y1="519.5" x2="57.5" y2="519.5" stroke="#333" stroke-width="0.8"/>
<rect x="60" y="460" width="13.75" height="13" fill="#b9b9b9"/>
<rect x="60" y="478" width="13.75" height="13" fill="#333"/>
<text x="80" y="471.8" font-size="11.4" text-anchor="start" fill="#111" font-weight="normal" >Uninfected</text>
<text x="80" y="490.5" font-size="11.4" text-anchor="start" fill="#111" font-weight="normal" >Infected</text>
<text x="0" y="0" font-size="14.5" text-anchor="middle" fill="#111" transform="translate(30.7 584.5) rotate(-90)">Percentage of cells</text>
<rect x="60.75" y="628.75" width="12.5" height="21.75" fill="#b9b9b9"/>
<rect x="74.25" y="626.25" width="12.3" height="24.25" fill="#333"/>
<text x="0" y="0" font-size="12.4" text-anchor="end" fill="#111" transform="translate(78.25 655) rotate(-90)">Endocrine</text>
<rect x="88.05" y="623" width="12.5" height="27.50" fill="#b9b9b9"/>
<rect x="101.55" y="641.75" width="12.3" height="8.75" fill="#333"/>
<text x="0" y="0" font-size="12.4" text-anchor="end" fill="#111" transform="translate(105.55 655) rotate(-90)">Mucus producing</text>
<rect x="115.35" y="545.75" width="12.5" height="104.75" fill="#b9b9b9"/>
<rect x="128.85" y="580.75" width="12.3" height="69.75" fill="#333"/>
<text x="0" y="0" font-size="12.4" text-anchor="end" fill="#111" transform="translate(132.85 655) rotate(-90)">EC1</text>
<rect x="142.65" y="525.75" width="12.5" height="124.75" fill="#b9b9b9"/>
<rect x="156.15" y="523.25" width="12.3" height="127.25" fill="#333"/>
<text x="0" y="0" font-size="12.4" text-anchor="end" fill="#111" transform="translate(160.15 655) rotate(-90)">EC2</text>
<rect x="169.95" y="612.5" width="12.5" height="38.00" fill="#b9b9b9"/>
<rect x="183.45" y="610.5" width="12.3" height="40.00" fill="#333"/>
<text x="0" y="0" font-size="12.4" text-anchor="end" fill="#111" transform="translate(187.45 655) rotate(-90)">LRE</text>
<rect x="197.25" y="632" width="12.5" height="18.50" fill="#b9b9b9"/>
<rect x="210.75" y="628.75" width="12.3" height="21.75" fill="#333"/>
<text x="0" y="0" font-size="12.4" text-anchor="end" fill="#111" transform="translate(214.75 655) rotate(-90)">Best4</text>
<rect x="224.55" y="632" width="12.5" height="18.50" fill="#b9b9b9"/>
<rect x="238.05" y="636.75" width="12.3" height="13.75" fill="#333"/>
<text x="0" y="0" font-size="12.4" text-anchor="end" fill="#111" transform="translate(242.05 655) rotate(-90)">Foregut epithelium</text>
<rect x="251.85" y="635" width="12.5" height="15.50" fill="#b9b9b9"/>
<rect x="265.35" y="623.75" width="12.3" height="26.75" fill="#333"/>
<text x="0" y="0" font-size="12.4" text-anchor="end" fill="#111" transform="translate(269.35 655) rotate(-90)">Leukocyte</text>
<rect x="279.15" y="574.25" width="12.5" height="76.25" fill="#b9b9b9"/>
<rect x="292.65" y="585" width="12.3" height="65.50" fill="#333"/>
<text x="0" y="0" font-size="12.4" text-anchor="end" fill="#111" transform="translate(296.65 655) rotate(-90)">Vasc. Endothelial</text>
<rect x="306.45" y="550.75" width="12.5" height="99.75" fill="#b9b9b9"/>
<rect x="319.95" y="613.75" width="12.3" height="36.75" fill="#333"/>
<text x="0" y="0" font-size="12.4" text-anchor="end" fill="#111" transform="translate(323.95 655) rotate(-90)">Vasc. Sm. Muscle</text>
<rect x="333.75" y="566.75" width="12.5" height="83.75" fill="#b9b9b9"/>
<rect x="347.25" y="485.5" width="12.3" height="165.00" fill="#333"/>
<text x="0" y="0" font-size="12.4" text-anchor="end" fill="#111" transform="translate(351.25 655) rotate(-90)">Hepatocyte</text>
<rect x="361.05" y="644.25" width="12.5" height="6.25" fill="#b9b9b9"/>
<rect x="374.55" y="643.75" width="12.3" height="6.75" fill="#333"/>
<text x="0" y="0" font-size="12.4" text-anchor="end" fill="#111" transform="translate(378.55 655) rotate(-90)">Pancreas</text>
<text x="416.8" y="449" font-size="18" text-anchor="start" fill="#000" font-weight="bold" >d</text>
<text x="455" y="453" font-size="14" text-anchor="start" fill="#111" font-weight="normal" >HuNoV-infected vs uninfected</text>
<text x="455" y="468.75" font-size="14" text-anchor="start" fill="#111" font-weight="normal" >Leukocytes</text>
<path d="M458.5 486 L458.5 711 L799 711" fill="none" stroke="#222" stroke-width="1"/>
<line x1="456" y1="682.0" x2="458.5" y2="682.0" stroke="#222" stroke-width="0.8"/>
<text x="455.5" y="685.0" font-size="8.4" text-anchor="end" fill="#222" font-weight="normal" stroke="#222" stroke-width="0.15" >0</text>
<line x1="456" y1="644.1" x2="458.5" y2="644.1" stroke="#222" stroke-width="0.8"/>
<text x="455.5" y="647.1" font-size="8.4" text-anchor="end" fill="#222" font-weight="normal" stroke="#222" stroke-width="0.15" >10</text>
<line x1="456" y1="606.2" x2="458.5" y2="606.2" stroke="#222" stroke-width="0.8"/>
<text x="455.5" y="609.2" font-size="8.4" text-anchor="end" fill="#222" font-weight="normal" stroke="#222" stroke-width="0.15" >20</text>
<line x1="456" y1="568.3" x2="458.5" y2="568.3" stroke="#222" stroke-width="0.8"/>
<text x="455.5" y="571.3" font-size="8.4" text-anchor="end" fill="#222" font-weight="normal" stroke="#222" stroke-width="0.15" >30</text>
<line x1="456" y1="530.4" x2="458.5" y2="530.4" stroke="#222" stroke-width="0.8"/>
<text x="455.5" y="533.4" font-size="8.4" text-anchor="end" fill="#222" font-weight="normal" stroke="#222" stroke-width="0.15" >40</text>
<line x1="456" y1="492.5" x2="458.5" y2="492.5" stroke="#222" stroke-width="0.8"/>
<text x="455.5" y="495.5" font-size="8.4" text-anchor="end" fill="#222" font-weight="normal" stroke="#222" stroke-width="0.15" >50</text>
<line x1="473.8" y1="711" x2="473.8" y2="713.5" stroke="#222" stroke-width="0.8"/>
<text x="473.8" y="722" font-size="8.4" text-anchor="middle" fill="#222" font-weight="normal" stroke="#222" stroke-width="0.15" >&#8722;2</text>
<line x1="551.6" y1="711" x2="551.6" y2="713.5" stroke="#222" stroke-width="0.8"/>
<text x="551.6" y="722" font-size="8.4" text-anchor="middle" fill="#222" font-weight="normal" stroke="#222" stroke-width="0.15" >0</text>
<line x1="629.4" y1="711" x2="629.4" y2="713.5" stroke="#222" stroke-width="0.8"/>
<text x="629.4" y="722" font-size="8.4" text-anchor="middle" fill="#222" font-weight="normal" stroke="#222" stroke-width="0.15" >2</text>
<line x1="707.2" y1="711" x2="707.2" y2="713.5" stroke="#222" stroke-width="0.8"/>
<text x="707.2" y="722" font-size="8.4" text-anchor="middle" fill="#222" font-weight="normal" stroke="#222" stroke-width="0.15" >4</text>
<line x1="785.0" y1="711" x2="785.0" y2="713.5" stroke="#222" stroke-width="0.8"/>
<text x="785.0" y="722" font-size="8.4" text-anchor="middle" fill="#222" font-weight="normal" stroke="#222" stroke-width="0.15" >6</text>
<line x1="551.5" y1="486" x2="551.5" y2="711" stroke="#444" stroke-width="1" stroke-dasharray="3.2,2"/>
<line x1="458.5" y1="677.5" x2="800" y2="677.5" stroke="#444" stroke-width="1" stroke-dasharray="3.8,2"/>
<text x="0" y="0" font-size="8.6" text-anchor="middle" fill="#222" stroke="#222" stroke-width="0.15" transform="translate(439.3 595) rotate(-90)">Log<tspan font-size="5.5" dy="1.5">10</tspan><tspan dy="-1.5">p-value</tspan></text>
<rect x="435.5" y="626.5" width="2" height="1" fill="#333"/>
<text x="610" y="734" font-size="7.3" fill="#222" stroke="#222" stroke-width="0.2">Log<tspan font-size="5" dy="1.5">2</tspan><tspan dy="-1.5">fold change</tspan></text>
<text x="553" y="749" font-size="7.9" text-anchor="start" fill="#222" font-weight="normal" stroke="#222" stroke-width="0.15" >&#8226;Downregulated</text>
<text x="614.5" y="749" font-size="7.9" text-anchor="start" fill="#222" font-weight="normal" stroke="#222" stroke-width="0.15" >&#8226;Non&#8722;significant</text>
<text x="676.25" y="749" font-size="7.9" text-anchor="start" fill="#222" font-weight="normal" stroke="#222" stroke-width="0.15" >&#8226;Upregulated</text>
<line x1="505" y1="682" x2="542.5" y2="682" stroke="#222" stroke-width="2.6"/>
<line x1="561" y1="682" x2="579" y2="682" stroke="#222" stroke-width="2.6"/>
<path d="M578 680.5 L591 680.5 L591 683.5 L578 683.5Z M591.5 677 L597.5 677 L597.5 683.5 L591.5 683.5Z" fill="#333"/>
<path d="M475.05 682.00a1.2 1.2 0 1 0 2.4 0a1.2 1.2 0 1 0 -2.4 0M497.70 646.50a1.2 1.2 0 1 0 2.4 0a1.2 1.2 0 1 0 -2.4 0M522.10 655.00a1.2 1.2 0 1 0 2.4 0a1.2 1.2 0 1 0 -2.4 0M505.05 670.90a1.2 1.2 0 1 0 2.4 0a1.2 1.2 0 1 0 -2.4 0M498.80 679.80a1.2 1.2 0 1 0 2.4 0a1.2 1.2 0 1 0 -2.4 0M569.40 674.40a1.2 1.2 0 1 0 2.4 0a1.2 1.2 0 1 0 -2.4 0M586.90 666.25a1.2 1.2 0 1 0 2.4 0a1.2 1.2 0 1 0 -2.4 0M592.55 666.25a1.2 1.2 0 1 0 2.4 0a1.2 1.2 0 1 0 -2.4 0M612.80 651.00a1.2 1.2 0 1 0 2.4 0a1.2 1.2 0 1 0 -2.4 0M618.20 655.60a1.2 1.2 0 1 0 2.4 0a1.2 1.2 0 1 0 -2.4 0M619.40 651.90a1.2 1.2 0 1 0 2.4 0a1.2 1.2 0 1 0 -2.4 0M622.55 650.00a1.2 1.2 0 1 0 2.4 0a1.2 1.2 0 1 0 -2.4 0M623.80 656.90a1.2 1.2 0 1 0 2.4 0a1.2 1.2 0 1 0 -2.4 0M635.30 636.90a1.2 1.2 0 1 0 2.4 0a1.2 1.2 0 1 0 -2.4 0M610.70 663.00a1.2 1.2 0 1 0 2.4 0a1.2 1.2 0 1 0 -2.4 0M611.30 665.00a1.2 1.2 0 1 0 2.4 0a1.2 1.2 0 1 0 -2.4 0M600.05 666.25a1.2 1.2 0 1 0 2.4 0a1.2 1.2 0 1 0 -2.4 0M608.20 670.60a1.2 1.2 0 1 0 2.4 0a1.2 1.2 0 1 0 -2.4 0M601.90 674.40a1.2 1.2 0 1 0 2.4 0a1.2 1.2 0 1 0 -2.4 0M603.80 677.50a1.2 1.2 0 1 0 2.4 0a1.2 1.2 0 1 0 -2.4 0M603.20 681.90a1.2 1.2 0 1 0 2.4 0a1.2 1.2 0 1 0 -2.4 0M620.05 681.25a1.2 1.2 0 1 0 2.4 0a1.2 1.2 0 1 0 -2.4 0M631.30 673.10a1.2 1.2 0 1 0 2.4 0a1.2 1.2 0 1 0 -2.4 0M637.55 674.40a1.2 1.2 0 1 0 2.4 0a1.2 1.2 0 1 0 -2.4 0M631.55 678.00a1.2 1.2 0 1 0 2.4 0a1.2 1.2 0 1 0 -2.4 0M644.40 666.90a1.2 1.2 0 1 0 2.4 0a1.2 1.2 0 1 0 -2.4 0M648.30 620.00a1.2 1.2 0 1 0 2.4 0a1.2 1.2 0 1 0 -2.4 0M663.30 620.75a1.2 1.2 0 1 0 2.4 0a1.2 1.2 0 1 0 -2.4 0M664.30 657.00a1.2 1.2 0 1 0 2.4 0a1.2 1.2 0 1 0 -2.4 0M687.55 677.50a1.2 1.2 0 1 0 2.4 0a1.2 1.2 0 1 0 -2.4 0M760.80 503.00a1.2 1.2 0 1 0 2.4 0a1.2 1.2 0 1 0 -2.4 0M581.30 671.90a1.2 1.2 0 1 0 2.4 0a1.2 1.2 0 1 0 -2.4 0M586.80 673.00a1.2 1.2 0 1 0 2.4 0a1.2 1.2 0 1 0 -2.4 0M583.80 679.00a1.2 1.2 0 1 0 2.4 0a1.2 1.2 0 1 0 -2.4 0M579.80 679.50a1.2 1.2 0 1 0 2.4 0a1.2 1.2 0 1 0 -2.4 0M587.80 678.50a1.2 1.2 0 1 0 2.4 0a1.2 1.2 0 1 0 -2.4 0M584.80 676.00a1.2 1.2 0 1 0 2.4 0a1.2 1.2 0 1 0 -2.4 0M582.30 676.50a1.2 1.2 0 1 0 2.4 0a1.2 1.2 0 1 0 -2.4 0M588.80 675.50a1.2 1.2 0 1 0 2.4 0a1.2 1.2 0 1 0 -2.4 0M591.80 676.50a1.2 1.2 0 1 0 2.4 0a1.2 1.2 0 1 0 -2.4 0M594.80 677.00a1.2 1.2 0 1 0 2.4 0a1.2 1.2 0 1 0 -2.4 0M500.80 677.00a1.2 1.2 0 1 0 2.4 0a1.2 1.2 0 1 0 -2.4 0M514.80 678.00a1.2 1.2 0 1 0 2.4 0a1.2 1.2 0 1 0 -2.4 0M508.80 679.00a1.2 1.2 0 1 0 2.4 0a1.2 1.2 0 1 0 -2.4 0M510.80 676.00a1.2 1.2 0 1 0 2.4 0a1.2 1.2 0 1 0 -2.4 0" fill="#222"/>
<line x1="664.5" y1="620.75" x2="673.75" y2="631.25" stroke="#111" stroke-width="0.8"/>
<path d="M673.75 631.25L671.47 630.33L673.12 628.87Z" fill="#111"/>
<line x1="627.5" y1="647.5" x2="641.9" y2="637.5" stroke="#111" stroke-width="0.8"/>
<path d="M641.90 637.50L640.72 639.66L639.47 637.85Z" fill="#111"/>
<line x1="620.6" y1="651.9" x2="636.25" y2="651.9" stroke="#111" stroke-width="0.8"/>
<path d="M636.25 651.90L634.05 653.00L634.05 650.80Z" fill="#111"/>
<line x1="625" y1="656.9" x2="638.1" y2="663.75" stroke="#111" stroke-width="0.8"/>
<path d="M638.10 663.75L635.64 663.71L636.66 661.76Z" fill="#111"/>
<line x1="665.5" y1="657" x2="682.5" y2="668" stroke="#111" stroke-width="0.8"/>
<path d="M682.50 668.00L680.06 667.73L681.25 665.88Z" fill="#111"/>
<line x1="610" y1="671.25" x2="635" y2="683.75" stroke="#111" stroke-width="0.8"/>
<path d="M635.00 683.75L632.54 683.75L633.52 681.78Z" fill="#111"/>
<line x1="603.1" y1="675" x2="615" y2="686.9" stroke="#111" stroke-width="0.8"/>
<path d="M615.00 686.90L612.67 686.12L614.22 684.57Z" fill="#111"/>
<line x1="601.9" y1="666.25" x2="606.9" y2="672.5" stroke="#111" stroke-width="0.8"/>
<path d="M606.90 672.50L604.67 671.47L606.38 670.09Z" fill="#111"/>
<line x1="590.6" y1="681.25" x2="590.6" y2="690" stroke="#111" stroke-width="0.8"/>
<path d="M590.60 690.00L589.50 687.80L591.70 687.80Z" fill="#111"/>
<line x1="583.1" y1="678.1" x2="578.1" y2="694.4" stroke="#111" stroke-width="0.8"/>
<path d="M578.10 694.40L577.69 691.97L579.80 692.62Z" fill="#111"/>
<text x="740" y="499.5" font-size="9" fill="#111" stroke="#111" stroke-width="0.2" textLength="43.00" lengthAdjust="spacingAndGlyphs">CR318588.1</text>
<text x="627.8" y="616.5" font-size="9" fill="#111" stroke="#111" stroke-width="0.2" textLength="43.20" lengthAdjust="spacingAndGlyphs">CU984600.2</text>
<text x="674.7" y="636.6" font-size="9" fill="#111" stroke="#111" stroke-width="0.2" textLength="14.05" lengthAdjust="spacingAndGlyphs">ifi45</text>
<text x="644.7" y="638.7" font-size="9" fill="#111" stroke="#111" stroke-width="0.2" textLength="17.80" lengthAdjust="spacingAndGlyphs">isg15</text>
<text x="603.4" y="648.6" font-size="9" fill="#111" stroke="#111" stroke-width="0.2" textLength="21.60" lengthAdjust="spacingAndGlyphs">stat1b</text>
<text x="640" y="654.3" font-size="9" fill="#111" stroke="#111" stroke-width="0.2" textLength="14.00" lengthAdjust="spacingAndGlyphs">ifi46</text>
<text x="641.9" y="663.6" font-size="9" fill="#111" stroke="#111" stroke-width="0.2" textLength="17.80" lengthAdjust="spacingAndGlyphs">helz2</text>
<text x="686" y="672" font-size="9" fill="#111" stroke="#111" stroke-width="0.2" textLength="33.70" lengthAdjust="spacingAndGlyphs">lgals3bpb</text>
<text x="616.6" y="670.75" font-size="9" fill="#111" stroke="#111" stroke-width="0.2" textLength="29.00" lengthAdjust="spacingAndGlyphs">ccl34a.4</text>
<text x="586.6" y="663.6" font-size="9" fill="#111" stroke="#111" stroke-width="0.2" textLength="20.60" lengthAdjust="spacingAndGlyphs">dhx58</text>
<text x="639" y="687.6" font-size="9" fill="#111" stroke="#111" stroke-width="0.2" textLength="21.60" lengthAdjust="spacingAndGlyphs">marco</text>
<text x="611" y="695.9" font-size="9" fill="#111" stroke="#111" stroke-width="0.2" textLength="19.60" lengthAdjust="spacingAndGlyphs">rsad2</text>
<text x="585.6" y="697.75" font-size="9" fill="#111" stroke="#111" stroke-width="0.2" textLength="16.90" lengthAdjust="spacingAndGlyphs">stat2</text>
<text x="568.75" y="700" font-size="9" fill="#111" stroke="#111" stroke-width="0.2" textLength="13.75" lengthAdjust="spacingAndGlyphs">mxa</text>
<text x="2" y="802.5" font-size="18.5" text-anchor="start" fill="#000" font-weight="bold" >e</text>
<path d="M312.2 839 L312.2 1065.3 L429.5 1065.3" fill="none" stroke="#222" stroke-width="1"/>
<line x1="309.5" y1="848.30" x2="312.2" y2="848.30" stroke="#222" stroke-width="0.8"/>
<text x="308.6" y="851.60" font-size="9.65" text-anchor="end" fill="#111" font-weight="normal" stroke="#111" stroke-width="0.25" xml:space="preserve">Negative regulation of type II interferon production</text>
<circle cx="422.00" cy="848.30" r="5.5" fill="#b9b9b9"/>
<line x1="309.5" y1="865.60" x2="312.2" y2="865.60" stroke="#222" stroke-width="0.8"/>
<text x="308.6" y="864.90" font-size="9.65" text-anchor="end" fill="#111" font-weight="normal" stroke="#111" stroke-width="0.25" xml:space="preserve">Negative regulation of CD4&#8722;positive,  alpha&#8722;beta T cell proliferation</text>
<circle cx="422.00" cy="865.60" r="5.5" fill="#b9b9b9"/>
<line x1="309.5" y1="882.90" x2="312.2" y2="882.90" stroke="#222" stroke-width="0.8"/>
<text x="308.6" y="886.20" font-size="9.65" text-anchor="end" fill="#111" font-weight="normal" stroke="#111" stroke-width="0.25" xml:space="preserve">CD4&#8722;positive, alpha&#8722;beta T cell proliferation</text>
<circle cx="422.00" cy="882.90" r="5.5" fill="#b9b9b9"/>
<line x1="309.5" y1="900.20" x2="312.2" y2="900.20" stroke="#222" stroke-width="0.8"/>
<text x="308.6" y="903.50" font-size="9.65" text-anchor="end" fill="#111" font-weight="normal" stroke="#111" stroke-width="0.25" xml:space="preserve">Type II interferon production</text>
<circle cx="378.34" cy="900.20" r="5.5" fill="#b9b9b9"/>
<line x1="309.5" y1="917.50" x2="312.2" y2="917.50" stroke="#222" stroke-width="0.8"/>
<text x="308.6" y="920.80" font-size="9.65" text-anchor="end" fill="#111" font-weight="normal" stroke="#111" stroke-width="0.25" xml:space="preserve">Type I interferon&#8722;mediated signaling pathway</text>
<circle cx="356.72" cy="917.50" r="5.6" fill="#333"/>
<line x1="309.5" y1="934.80" x2="312.2" y2="934.80" stroke="#222" stroke-width="0.8"/>
<text x="308.6" y="938.10" font-size="9.65" text-anchor="end" fill="#111" font-weight="normal" stroke="#111" stroke-width="0.25" xml:space="preserve">Regulation of T cell proliferation</text>
<circle cx="335.71" cy="934.80" r="7.7" fill="#b9b9b9"/>
<line x1="309.5" y1="952.10" x2="312.2" y2="952.10" stroke="#222" stroke-width="0.8"/>
<text x="308.6" y="955.40" font-size="9.65" text-anchor="end" fill="#111" font-weight="normal" stroke="#111" stroke-width="0.25" xml:space="preserve">T cell proliferation</text>
<circle cx="335.10" cy="952.10" r="7.7" fill="#b9b9b9"/>
<line x1="309.5" y1="969.40" x2="312.2" y2="969.40" stroke="#222" stroke-width="0.8"/>
<text x="308.6" y="972.70" font-size="9.65" text-anchor="end" fill="#111" font-weight="normal" stroke="#111" stroke-width="0.25" xml:space="preserve">Receptor signaling pathway via JAK&#8722;STAT pathway</text>
<circle cx="330.61" cy="969.40" r="5.6" fill="#333"/>
<line x1="309.5" y1="986.70" x2="312.2" y2="986.70" stroke="#222" stroke-width="0.8"/>
<text x="308.6" y="990.00" font-size="9.65" text-anchor="end" fill="#111" font-weight="normal" stroke="#111" stroke-width="0.25" xml:space="preserve">Negative regulation of immune system process</text>
<circle cx="328.77" cy="986.70" r="7.7" fill="#b9b9b9"/>
<line x1="309.5" y1="1004.00" x2="312.2" y2="1004.00" stroke="#222" stroke-width="0.8"/>
<text x="308.6" y="1007.30" font-size="9.65" text-anchor="end" fill="#111" font-weight="normal" stroke="#111" stroke-width="0.25" xml:space="preserve">Regulation of leukocyte cell&#8722;cell adhesion</text>
<circle cx="328.77" cy="1004.00" r="7.7" fill="#b9b9b9"/>
<line x1="309.5" y1="1021.30" x2="312.2" y2="1021.30" stroke="#222" stroke-width="0.8"/>
<text x="308.6" y="1024.60" font-size="9.65" text-anchor="end" fill="#111" font-weight="normal" stroke="#111" stroke-width="0.25" xml:space="preserve">Defense response to virus</text>
<circle cx="324.49" cy="1021.30" r="5.6" fill="#666"/>
<line x1="309.5" y1="1038.60" x2="312.2" y2="1038.60" stroke="#222" stroke-width="0.8"/>
<text x="308.6" y="1041.90" font-size="9.65" text-anchor="end" fill="#111" font-weight="normal" stroke="#111" stroke-width="0.25" xml:space="preserve">Innate immune response</text>
<circle cx="323.47" cy="1038.60" r="9.8" fill="#b9b9b9"/>
<line x1="309.5" y1="1055.90" x2="312.2" y2="1055.90" stroke="#222" stroke-width="0.8"/>
<text x="308.6" y="1059.20" font-size="9.65" text-anchor="end" fill="#111" font-weight="normal" stroke="#111" stroke-width="0.25" xml:space="preserve">Response to peptide hormone</text>
<circle cx="323.47" cy="1055.90" r="5.6" fill="#333"/>
<line x1="320.00" y1="1065.3" x2="320.00" y2="1068" stroke="#222" stroke-width="0.8"/>
<text x="320.00" y="1077" font-size="9.5" text-anchor="middle" fill="#222" font-weight="normal" stroke="#222" stroke-width="0.15" >0.0</text>
<line x1="340.40" y1="1065.3" x2="340.40" y2="1068" stroke="#222" stroke-width="0.8"/>
<text x="340.40" y="1077" font-size="9.5" text-anchor="middle" fill="#222" font-weight="normal" stroke="#222" stroke-width="0.15" >0.1</text>
<line x1="360.80" y1="1065.3" x2="360.80" y2="1068" stroke="#222" stroke-width="0.8"/>
<text x="360.80" y="1077" font-size="9.5" text-anchor="middle" fill="#222" font-weight="normal" stroke="#222" stroke-width="0.15" >0.2</text>
<line x1="381.20" y1="1065.3" x2="381.20" y2="1068" stroke="#222" stroke-width="0.8"/>
<text x="381.20" y="1077" font-size="9.5" text-anchor="middle" fill="#222" font-weight="normal" stroke="#222" stroke-width="0.15" >0.3</text>
<line x1="401.60" y1="1065.3" x2="401.60" y2="1068" stroke="#222" stroke-width="0.8"/>
<text x="401.60" y="1077" font-size="9.5" text-anchor="middle" fill="#222" font-weight="normal" stroke="#222" stroke-width="0.15" >0.4</text>
<line x1="422.00" y1="1065.3" x2="422.00" y2="1068" stroke="#222" stroke-width="0.8"/>
<text x="422.00" y="1077" font-size="9.5" text-anchor="middle" fill="#222" font-weight="normal" stroke="#222" stroke-width="0.15" >0.5</text>
<text x="370.75" y="1088.5" font-size="12" text-anchor="middle" fill="#111" font-weight="normal" >Gene ratio</text>
<text x="350.2" y="795.5" font-size="11.6" text-anchor="middle" fill="#111" font-weight="normal" >q&#8722;value</text>
<text x="418.9" y="795" font-size="11.5" text-anchor="middle" fill="#111" font-weight="normal" >Genes</text>
<defs><linearGradient id="qg" x1="0" x2="1" y1="0" y2="0"><stop offset="0" stop-color="#3a3a3a"/><stop offset="1" stop-color="#bcbcbc"/></linearGradient></defs>
<rect x="328.75" y="829.3" width="52.2" height="10.2" fill="url(#qg)"/>
<line x1="330.5" y1="832" x2="330.5" y2="834" stroke="#ddd" stroke-width="0.5"/>
<line x1="342.4" y1="832" x2="342.4" y2="834" stroke="#ddd" stroke-width="0.5"/>
<line x1="354.5" y1="832" x2="354.5" y2="834" stroke="#ddd" stroke-width="0.5"/>
<line x1="366.9" y1="832" x2="366.9" y2="834" stroke="#ddd" stroke-width="0.5"/>
<text x="0" y="0" font-size="9.3" text-anchor="start" fill="#222" transform="translate(335.90000000000003 826) rotate(-90)">0.008</text>
<text x="0" y="0" font-size="9.3" text-anchor="start" fill="#222" transform="translate(347.8 826) rotate(-90)">0.006</text>
<text x="0" y="0" font-size="9.3" text-anchor="start" fill="#222" transform="translate(360.05 826) rotate(-90)">0.004</text>
<text x="0" y="0" font-size="9.3" text-anchor="start" fill="#222" transform="translate(372.3 826) rotate(-90)">0.002</text>
<circle cx="401.4" cy="813.6" r="5.6" fill="#000"/>
<circle cx="429.9" cy="813.6" r="10" fill="#000"/>
<text x="412.5" y="817" font-size="9.5" text-anchor="start" fill="#222" font-weight="normal" >2</text>
<text x="446" y="817" font-size="9.5" text-anchor="start" fill="#222" font-weight="normal" >5</text>
</svg></body></html>
